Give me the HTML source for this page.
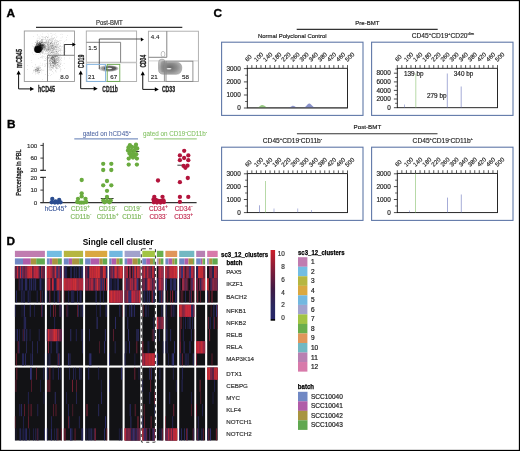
<!DOCTYPE html>
<html><head><meta charset="utf-8"><style>
html,body{margin:0;padding:0;background:#fff;width:520px;height:451px;overflow:hidden}
svg{display:block;font-family:"Liberation Sans",sans-serif;will-change:transform}
</style></head><body>
<svg width="520" height="451" viewBox="0 0 520 451" font-family="&quot;Liberation Sans&quot;, sans-serif">
<rect x="0.5" y="0.5" width="519" height="450" fill="none" stroke="#000" stroke-width="1.3" />
<text x="6.6" y="16.8" font-size="11.8" fill="#000" font-weight="bold" text-anchor="start" stroke="#000" stroke-width="0.35">A</text>
<text x="7.0" y="128.1" font-size="11.8" fill="#000" font-weight="bold" text-anchor="start" stroke="#000" stroke-width="0.35">B</text>
<text x="213.4" y="16.6" font-size="11.8" fill="#000" font-weight="bold" text-anchor="start" stroke="#000" stroke-width="0.35">C</text>
<text x="6.5" y="244.9" font-size="11.8" fill="#000" font-weight="bold" text-anchor="start" stroke="#000" stroke-width="0.35">D</text>
<text x="96" y="24.7" font-size="6.3" fill="#333" font-weight="normal" text-anchor="start" textLength="26.6" lengthAdjust="spacingAndGlyphs" stroke="#333" stroke-width="0.18" >Post-BMT</text>
<line x1="36" y1="27.4" x2="182.3" y2="27.4" stroke="#333" stroke-width="1.2" />
<rect x="24.3" y="31" width="50.2" height="50.5" fill="#fff" stroke="#999" stroke-width="0.9" />
<g fill="#000" fill-opacity="0.28"><circle cx="47.4" cy="48.4" r="0.32"/><circle cx="47.6" cy="44.6" r="0.32"/><circle cx="43.2" cy="45.0" r="0.32"/><circle cx="55.9" cy="48.0" r="0.32"/><circle cx="55.4" cy="47.1" r="0.32"/><circle cx="51.4" cy="46.9" r="0.32"/><circle cx="38.7" cy="49.9" r="0.32"/><circle cx="52.1" cy="48.3" r="0.32"/><circle cx="38.5" cy="38.0" r="0.32"/><circle cx="43.5" cy="43.8" r="0.32"/><circle cx="50.9" cy="45.8" r="0.32"/><circle cx="52.2" cy="43.0" r="0.32"/><circle cx="50.9" cy="47.8" r="0.32"/><circle cx="44.9" cy="53.9" r="0.32"/><circle cx="52.5" cy="51.5" r="0.32"/><circle cx="45.2" cy="42.6" r="0.32"/><circle cx="46.9" cy="45.5" r="0.32"/><circle cx="52.9" cy="47.1" r="0.32"/><circle cx="46.2" cy="41.6" r="0.32"/><circle cx="45.8" cy="51.6" r="0.32"/><circle cx="44.0" cy="47.1" r="0.32"/><circle cx="51.6" cy="39.1" r="0.32"/><circle cx="49.3" cy="52.0" r="0.32"/><circle cx="36.5" cy="44.5" r="0.32"/><circle cx="48.3" cy="42.2" r="0.32"/><circle cx="52.1" cy="45.7" r="0.32"/><circle cx="39.9" cy="49.8" r="0.32"/><circle cx="53.1" cy="50.4" r="0.32"/><circle cx="57.9" cy="47.7" r="0.32"/><circle cx="49.7" cy="40.0" r="0.32"/><circle cx="52.8" cy="43.2" r="0.32"/><circle cx="46.2" cy="40.2" r="0.32"/><circle cx="43.0" cy="43.6" r="0.32"/><circle cx="57.0" cy="36.7" r="0.32"/><circle cx="40.0" cy="47.1" r="0.32"/><circle cx="57.9" cy="48.7" r="0.32"/><circle cx="37.2" cy="34.4" r="0.32"/><circle cx="51.2" cy="42.6" r="0.32"/><circle cx="42.1" cy="50.5" r="0.32"/><circle cx="55.8" cy="46.7" r="0.32"/><circle cx="50.5" cy="48.0" r="0.32"/><circle cx="58.9" cy="48.8" r="0.32"/><circle cx="52.2" cy="48.5" r="0.32"/><circle cx="39.3" cy="51.9" r="0.32"/><circle cx="54.9" cy="48.4" r="0.32"/><circle cx="36.8" cy="43.1" r="0.32"/><circle cx="54.2" cy="37.7" r="0.32"/><circle cx="47.9" cy="50.7" r="0.32"/><circle cx="40.9" cy="53.4" r="0.32"/><circle cx="52.4" cy="45.3" r="0.32"/><circle cx="51.0" cy="49.0" r="0.32"/><circle cx="49.7" cy="51.3" r="0.32"/><circle cx="44.9" cy="44.1" r="0.32"/><circle cx="55.5" cy="46.1" r="0.32"/><circle cx="43.5" cy="50.4" r="0.32"/><circle cx="58.1" cy="44.0" r="0.32"/><circle cx="40.4" cy="45.4" r="0.32"/><circle cx="48.1" cy="44.6" r="0.32"/><circle cx="57.7" cy="41.3" r="0.32"/><circle cx="56.8" cy="40.2" r="0.32"/><circle cx="44.1" cy="48.9" r="0.32"/><circle cx="56.0" cy="50.0" r="0.32"/><circle cx="51.1" cy="46.7" r="0.32"/><circle cx="49.9" cy="48.6" r="0.32"/><circle cx="47.9" cy="47.3" r="0.32"/><circle cx="52.6" cy="46.0" r="0.32"/><circle cx="53.7" cy="48.6" r="0.32"/><circle cx="61.5" cy="47.5" r="0.32"/><circle cx="46.3" cy="44.3" r="0.32"/><circle cx="48.9" cy="50.2" r="0.32"/><circle cx="46.9" cy="47.8" r="0.32"/><circle cx="60.4" cy="34.2" r="0.32"/><circle cx="42.0" cy="47.1" r="0.32"/><circle cx="51.5" cy="47.1" r="0.32"/><circle cx="46.3" cy="49.0" r="0.32"/><circle cx="50.7" cy="43.6" r="0.32"/><circle cx="64.1" cy="47.6" r="0.32"/><circle cx="45.6" cy="45.5" r="0.32"/><circle cx="47.6" cy="45.7" r="0.32"/><circle cx="32.1" cy="43.8" r="0.32"/><circle cx="55.3" cy="40.6" r="0.32"/><circle cx="48.6" cy="50.4" r="0.32"/><circle cx="54.3" cy="52.9" r="0.32"/><circle cx="38.5" cy="44.4" r="0.32"/><circle cx="46.9" cy="48.9" r="0.32"/><circle cx="55.8" cy="33.7" r="0.32"/><circle cx="55.7" cy="39.3" r="0.32"/><circle cx="53.2" cy="39.1" r="0.32"/><circle cx="50.1" cy="51.5" r="0.32"/><circle cx="48.1" cy="46.9" r="0.32"/><circle cx="53.9" cy="46.7" r="0.32"/><circle cx="48.5" cy="53.1" r="0.32"/><circle cx="55.5" cy="44.6" r="0.32"/><circle cx="66.0" cy="40.7" r="0.32"/><circle cx="54.7" cy="44.8" r="0.32"/><circle cx="49.8" cy="49.2" r="0.32"/><circle cx="50.4" cy="48.9" r="0.32"/><circle cx="39.5" cy="39.1" r="0.32"/><circle cx="52.8" cy="41.6" r="0.32"/><circle cx="42.6" cy="39.2" r="0.32"/><circle cx="56.9" cy="49.4" r="0.32"/><circle cx="58.1" cy="41.7" r="0.32"/><circle cx="49.0" cy="40.8" r="0.32"/><circle cx="53.7" cy="53.3" r="0.32"/><circle cx="43.5" cy="53.2" r="0.32"/><circle cx="55.1" cy="45.2" r="0.32"/><circle cx="36.8" cy="52.5" r="0.32"/><circle cx="48.4" cy="43.2" r="0.32"/><circle cx="51.5" cy="47.9" r="0.32"/><circle cx="58.3" cy="41.3" r="0.32"/><circle cx="56.0" cy="52.8" r="0.32"/><circle cx="58.0" cy="45.2" r="0.32"/><circle cx="44.4" cy="50.7" r="0.32"/><circle cx="49.7" cy="46.6" r="0.32"/><circle cx="57.8" cy="44.8" r="0.32"/><circle cx="34.8" cy="44.2" r="0.32"/><circle cx="37.5" cy="49.8" r="0.32"/><circle cx="51.0" cy="43.2" r="0.32"/><circle cx="48.9" cy="49.8" r="0.32"/><circle cx="49.5" cy="52.1" r="0.32"/><circle cx="48.6" cy="50.8" r="0.32"/><circle cx="58.2" cy="53.4" r="0.32"/><circle cx="44.8" cy="50.0" r="0.32"/><circle cx="37.4" cy="41.0" r="0.32"/><circle cx="36.8" cy="50.9" r="0.32"/><circle cx="41.4" cy="45.9" r="0.32"/><circle cx="47.8" cy="45.9" r="0.32"/><circle cx="45.3" cy="47.1" r="0.32"/><circle cx="60.1" cy="46.2" r="0.32"/><circle cx="52.3" cy="50.6" r="0.32"/><circle cx="47.8" cy="40.2" r="0.32"/><circle cx="45.6" cy="50.9" r="0.32"/><circle cx="38.8" cy="43.2" r="0.32"/><circle cx="55.2" cy="49.6" r="0.32"/><circle cx="49.0" cy="49.7" r="0.32"/><circle cx="50.0" cy="40.6" r="0.32"/><circle cx="39.3" cy="43.1" r="0.32"/><circle cx="54.7" cy="43.4" r="0.32"/><circle cx="43.4" cy="42.5" r="0.32"/><circle cx="39.5" cy="45.5" r="0.32"/><circle cx="41.7" cy="47.7" r="0.32"/><circle cx="34.4" cy="47.5" r="0.32"/><circle cx="45.0" cy="37.1" r="0.32"/><circle cx="53.5" cy="44.7" r="0.32"/><circle cx="35.2" cy="42.0" r="0.32"/><circle cx="50.8" cy="43.9" r="0.32"/><circle cx="53.8" cy="49.4" r="0.32"/><circle cx="53.1" cy="47.5" r="0.32"/><circle cx="57.3" cy="49.0" r="0.32"/><circle cx="51.8" cy="36.4" r="0.32"/><circle cx="54.6" cy="52.0" r="0.32"/><circle cx="47.2" cy="43.8" r="0.32"/><circle cx="61.0" cy="37.9" r="0.32"/><circle cx="51.9" cy="57.1" r="0.32"/><circle cx="43.2" cy="49.2" r="0.32"/><circle cx="60.7" cy="45.4" r="0.32"/><circle cx="52.5" cy="50.2" r="0.32"/><circle cx="43.4" cy="45.6" r="0.32"/><circle cx="50.8" cy="49.8" r="0.32"/><circle cx="48.8" cy="45.1" r="0.32"/><circle cx="42.7" cy="44.3" r="0.32"/><circle cx="54.5" cy="46.5" r="0.32"/><circle cx="43.7" cy="42.1" r="0.32"/><circle cx="65.5" cy="51.2" r="0.32"/><circle cx="53.0" cy="34.1" r="0.32"/><circle cx="52.9" cy="48.2" r="0.32"/><circle cx="59.4" cy="48.0" r="0.32"/><circle cx="48.6" cy="48.4" r="0.32"/><circle cx="36.9" cy="50.8" r="0.32"/><circle cx="51.0" cy="42.8" r="0.32"/><circle cx="57.2" cy="54.3" r="0.32"/><circle cx="40.3" cy="42.9" r="0.32"/><circle cx="50.8" cy="46.8" r="0.32"/><circle cx="46.5" cy="41.5" r="0.32"/><circle cx="62.1" cy="50.8" r="0.32"/><circle cx="41.6" cy="39.8" r="0.32"/><circle cx="59.6" cy="50.6" r="0.32"/><circle cx="60.3" cy="49.7" r="0.32"/><circle cx="43.6" cy="47.2" r="0.32"/><circle cx="35.6" cy="42.6" r="0.32"/><circle cx="48.6" cy="48.4" r="0.32"/><circle cx="44.5" cy="45.4" r="0.32"/><circle cx="51.8" cy="47.7" r="0.32"/><circle cx="53.0" cy="47.0" r="0.32"/><circle cx="47.0" cy="49.6" r="0.32"/><circle cx="49.3" cy="42.2" r="0.32"/><circle cx="45.1" cy="46.0" r="0.32"/><circle cx="48.3" cy="46.7" r="0.32"/><circle cx="49.0" cy="46.8" r="0.32"/><circle cx="48.2" cy="40.2" r="0.32"/><circle cx="51.6" cy="50.8" r="0.32"/><circle cx="51.7" cy="45.1" r="0.32"/><circle cx="51.8" cy="41.6" r="0.32"/><circle cx="37.2" cy="46.3" r="0.32"/><circle cx="43.2" cy="49.4" r="0.32"/><circle cx="42.3" cy="33.9" r="0.32"/><circle cx="42.6" cy="53.3" r="0.32"/><circle cx="46.6" cy="39.7" r="0.32"/><circle cx="44.3" cy="48.4" r="0.32"/><circle cx="52.1" cy="46.8" r="0.32"/><circle cx="58.2" cy="49.2" r="0.32"/><circle cx="48.9" cy="48.7" r="0.32"/><circle cx="59.3" cy="50.5" r="0.32"/><circle cx="55.3" cy="41.0" r="0.32"/><circle cx="48.1" cy="49.4" r="0.32"/><circle cx="47.2" cy="50.9" r="0.32"/><circle cx="52.7" cy="50.2" r="0.32"/><circle cx="47.7" cy="57.7" r="0.32"/><circle cx="56.7" cy="45.0" r="0.32"/><circle cx="49.6" cy="57.9" r="0.32"/><circle cx="46.9" cy="50.0" r="0.32"/><circle cx="55.1" cy="46.0" r="0.32"/><circle cx="41.8" cy="46.9" r="0.32"/><circle cx="51.2" cy="51.2" r="0.32"/><circle cx="53.9" cy="46.1" r="0.32"/><circle cx="54.3" cy="48.5" r="0.32"/><circle cx="50.3" cy="46.3" r="0.32"/><circle cx="47.5" cy="49.2" r="0.32"/><circle cx="42.5" cy="43.1" r="0.32"/><circle cx="49.0" cy="39.3" r="0.32"/><circle cx="46.3" cy="36.8" r="0.32"/><circle cx="44.8" cy="48.6" r="0.32"/><circle cx="52.5" cy="45.7" r="0.32"/><circle cx="47.6" cy="39.5" r="0.32"/><circle cx="60.3" cy="48.4" r="0.32"/><circle cx="55.8" cy="41.9" r="0.32"/><circle cx="47.9" cy="37.6" r="0.32"/><circle cx="53.8" cy="50.3" r="0.32"/><circle cx="37.2" cy="45.8" r="0.32"/><circle cx="52.9" cy="37.9" r="0.32"/><circle cx="37.7" cy="41.1" r="0.32"/><circle cx="45.1" cy="39.5" r="0.32"/><circle cx="49.2" cy="47.1" r="0.32"/><circle cx="52.9" cy="49.2" r="0.32"/><circle cx="58.3" cy="51.4" r="0.32"/><circle cx="40.9" cy="43.7" r="0.32"/><circle cx="42.4" cy="41.0" r="0.32"/><circle cx="48.5" cy="46.0" r="0.32"/><circle cx="52.0" cy="38.7" r="0.32"/><circle cx="41.3" cy="45.9" r="0.32"/><circle cx="47.8" cy="44.6" r="0.32"/><circle cx="48.6" cy="42.5" r="0.32"/><circle cx="53.3" cy="47.6" r="0.32"/><circle cx="48.5" cy="42.9" r="0.32"/><circle cx="47.9" cy="33.5" r="0.32"/><circle cx="42.9" cy="46.2" r="0.32"/><circle cx="39.7" cy="46.9" r="0.32"/><circle cx="49.9" cy="39.7" r="0.32"/><circle cx="47.4" cy="44.6" r="0.32"/><circle cx="51.9" cy="48.8" r="0.32"/><circle cx="48.8" cy="42.1" r="0.32"/><circle cx="48.1" cy="45.7" r="0.32"/><circle cx="53.6" cy="47.4" r="0.32"/><circle cx="44.5" cy="39.8" r="0.32"/><circle cx="46.7" cy="42.6" r="0.32"/><circle cx="42.1" cy="45.5" r="0.32"/><circle cx="46.0" cy="46.5" r="0.32"/><circle cx="52.2" cy="44.1" r="0.32"/><circle cx="63.4" cy="44.5" r="0.32"/><circle cx="55.8" cy="46.6" r="0.32"/><circle cx="55.9" cy="35.1" r="0.32"/><circle cx="44.3" cy="47.1" r="0.32"/><circle cx="52.7" cy="56.7" r="0.32"/><circle cx="51.0" cy="51.9" r="0.32"/><circle cx="53.8" cy="50.4" r="0.32"/><circle cx="52.2" cy="45.3" r="0.32"/><circle cx="52.2" cy="41.0" r="0.32"/><circle cx="56.3" cy="41.3" r="0.32"/><circle cx="50.5" cy="55.8" r="0.32"/><circle cx="47.6" cy="46.1" r="0.32"/><circle cx="56.2" cy="46.1" r="0.32"/><circle cx="44.0" cy="47.2" r="0.32"/><circle cx="52.6" cy="49.3" r="0.32"/><circle cx="44.2" cy="54.1" r="0.32"/><circle cx="59.3" cy="46.1" r="0.32"/><circle cx="50.7" cy="44.0" r="0.32"/><circle cx="57.8" cy="42.8" r="0.32"/><circle cx="53.2" cy="43.8" r="0.32"/><circle cx="44.7" cy="49.3" r="0.32"/><circle cx="57.3" cy="46.0" r="0.32"/><circle cx="44.8" cy="49.7" r="0.32"/><circle cx="48.7" cy="47.4" r="0.32"/><circle cx="58.4" cy="51.2" r="0.32"/><circle cx="45.8" cy="56.5" r="0.32"/><circle cx="49.0" cy="49.6" r="0.32"/><circle cx="45.0" cy="45.8" r="0.32"/><circle cx="38.2" cy="54.2" r="0.32"/><circle cx="57.5" cy="40.4" r="0.32"/><circle cx="39.7" cy="38.5" r="0.32"/><circle cx="56.3" cy="43.9" r="0.32"/><circle cx="48.6" cy="44.6" r="0.32"/><circle cx="48.2" cy="41.0" r="0.32"/><circle cx="49.1" cy="39.4" r="0.32"/><circle cx="48.6" cy="47.4" r="0.32"/><circle cx="51.9" cy="44.9" r="0.32"/><circle cx="43.4" cy="46.7" r="0.32"/><circle cx="46.0" cy="53.2" r="0.32"/><circle cx="53.8" cy="45.5" r="0.32"/><circle cx="46.1" cy="42.8" r="0.32"/><circle cx="43.2" cy="44.4" r="0.32"/><circle cx="50.8" cy="48.4" r="0.32"/><circle cx="52.5" cy="55.7" r="0.32"/><circle cx="44.6" cy="46.1" r="0.32"/><circle cx="66.3" cy="37.4" r="0.32"/><circle cx="45.8" cy="46.8" r="0.32"/><circle cx="50.0" cy="47.9" r="0.32"/><circle cx="47.5" cy="47.7" r="0.32"/><circle cx="49.3" cy="49.5" r="0.32"/><circle cx="37.3" cy="41.9" r="0.32"/><circle cx="49.0" cy="41.3" r="0.32"/><circle cx="42.5" cy="48.9" r="0.32"/><circle cx="45.0" cy="48.9" r="0.32"/><circle cx="53.6" cy="47.4" r="0.32"/><circle cx="52.1" cy="45.5" r="0.32"/><circle cx="40.3" cy="45.9" r="0.32"/><circle cx="51.8" cy="43.6" r="0.32"/><circle cx="48.4" cy="49.4" r="0.32"/><circle cx="43.6" cy="48.9" r="0.32"/><circle cx="60.5" cy="43.4" r="0.32"/><circle cx="49.9" cy="45.3" r="0.32"/><circle cx="58.5" cy="47.5" r="0.32"/><circle cx="54.6" cy="42.8" r="0.32"/><circle cx="48.9" cy="46.0" r="0.32"/><circle cx="38.0" cy="52.6" r="0.32"/><circle cx="54.6" cy="38.0" r="0.32"/><circle cx="53.6" cy="45.4" r="0.32"/><circle cx="51.8" cy="47.7" r="0.32"/><circle cx="39.7" cy="45.0" r="0.32"/><circle cx="58.3" cy="43.4" r="0.32"/><circle cx="42.7" cy="39.7" r="0.32"/><circle cx="41.4" cy="47.5" r="0.32"/><circle cx="59.5" cy="48.0" r="0.32"/><circle cx="50.5" cy="56.3" r="0.32"/><circle cx="45.8" cy="42.9" r="0.32"/><circle cx="52.3" cy="48.5" r="0.32"/><circle cx="42.7" cy="40.6" r="0.32"/><circle cx="50.8" cy="47.1" r="0.32"/><circle cx="40.9" cy="45.1" r="0.32"/><circle cx="45.6" cy="48.1" r="0.32"/><circle cx="48.3" cy="45.6" r="0.32"/><circle cx="46.8" cy="50.8" r="0.32"/><circle cx="57.6" cy="44.3" r="0.32"/><circle cx="54.2" cy="42.5" r="0.32"/><circle cx="49.4" cy="49.4" r="0.32"/><circle cx="58.4" cy="44.2" r="0.32"/><circle cx="48.5" cy="46.9" r="0.32"/><circle cx="39.7" cy="46.1" r="0.32"/><circle cx="44.8" cy="47.7" r="0.32"/><circle cx="42.0" cy="36.9" r="0.32"/><circle cx="49.2" cy="47.2" r="0.32"/><circle cx="45.6" cy="50.1" r="0.32"/><circle cx="47.3" cy="43.2" r="0.32"/><circle cx="52.0" cy="38.8" r="0.32"/><circle cx="44.8" cy="45.9" r="0.32"/><circle cx="54.3" cy="45.3" r="0.32"/><circle cx="50.9" cy="43.0" r="0.32"/><circle cx="50.9" cy="53.7" r="0.32"/><circle cx="44.7" cy="56.9" r="0.32"/><circle cx="45.0" cy="46.1" r="0.32"/><circle cx="50.1" cy="50.7" r="0.32"/><circle cx="41.3" cy="36.3" r="0.32"/><circle cx="52.8" cy="49.7" r="0.32"/><circle cx="52.9" cy="58.1" r="0.32"/><circle cx="50.3" cy="47.2" r="0.32"/><circle cx="54.8" cy="47.7" r="0.32"/><circle cx="59.3" cy="40.3" r="0.32"/><circle cx="54.0" cy="44.3" r="0.32"/><circle cx="54.7" cy="55.9" r="0.32"/><circle cx="49.0" cy="44.8" r="0.32"/><circle cx="45.9" cy="42.1" r="0.32"/><circle cx="45.1" cy="48.9" r="0.32"/><circle cx="49.2" cy="46.3" r="0.32"/><circle cx="47.9" cy="50.2" r="0.32"/><circle cx="52.1" cy="45.3" r="0.32"/><circle cx="53.1" cy="45.3" r="0.32"/><circle cx="41.9" cy="52.7" r="0.32"/><circle cx="51.9" cy="41.6" r="0.32"/><circle cx="55.7" cy="47.6" r="0.32"/><circle cx="39.3" cy="53.4" r="0.32"/><circle cx="51.1" cy="50.1" r="0.32"/><circle cx="50.2" cy="45.3" r="0.32"/><circle cx="39.4" cy="50.5" r="0.32"/><circle cx="49.2" cy="44.7" r="0.32"/><circle cx="51.2" cy="46.4" r="0.32"/><circle cx="53.2" cy="44.3" r="0.32"/><circle cx="48.8" cy="36.2" r="0.32"/><circle cx="46.4" cy="49.1" r="0.32"/><circle cx="57.3" cy="44.3" r="0.32"/><circle cx="48.2" cy="53.3" r="0.32"/><circle cx="47.0" cy="49.4" r="0.32"/><circle cx="59.4" cy="46.2" r="0.32"/><circle cx="56.6" cy="42.7" r="0.32"/><circle cx="50.3" cy="45.6" r="0.32"/><circle cx="49.7" cy="51.2" r="0.32"/><circle cx="63.8" cy="42.9" r="0.32"/><circle cx="45.4" cy="48.3" r="0.32"/><circle cx="42.5" cy="48.3" r="0.32"/><circle cx="52.5" cy="44.7" r="0.32"/><circle cx="52.3" cy="38.9" r="0.32"/><circle cx="53.7" cy="38.9" r="0.32"/><circle cx="44.7" cy="43.4" r="0.32"/><circle cx="46.5" cy="50.0" r="0.32"/><circle cx="49.5" cy="44.2" r="0.32"/><circle cx="52.4" cy="53.3" r="0.32"/><circle cx="49.0" cy="47.7" r="0.32"/><circle cx="56.7" cy="47.2" r="0.32"/><circle cx="41.0" cy="57.5" r="0.32"/><circle cx="62.7" cy="36.9" r="0.32"/><circle cx="48.8" cy="47.9" r="0.32"/><circle cx="55.0" cy="49.1" r="0.32"/><circle cx="47.3" cy="41.2" r="0.32"/><circle cx="49.6" cy="50.8" r="0.32"/><circle cx="42.2" cy="41.3" r="0.32"/><circle cx="48.8" cy="37.1" r="0.32"/><circle cx="47.4" cy="44.0" r="0.32"/><circle cx="51.8" cy="42.8" r="0.32"/><circle cx="43.5" cy="44.2" r="0.32"/><circle cx="48.7" cy="42.9" r="0.32"/><circle cx="49.1" cy="49.5" r="0.32"/><circle cx="56.3" cy="53.8" r="0.32"/><circle cx="44.1" cy="44.1" r="0.32"/><circle cx="33.6" cy="54.7" r="0.32"/><circle cx="44.5" cy="45.8" r="0.32"/><circle cx="52.2" cy="39.8" r="0.32"/><circle cx="51.9" cy="45.9" r="0.32"/><circle cx="37.7" cy="47.3" r="0.32"/><circle cx="56.4" cy="37.4" r="0.32"/><circle cx="54.0" cy="47.0" r="0.32"/><circle cx="51.9" cy="48.0" r="0.32"/><circle cx="57.1" cy="45.0" r="0.32"/><circle cx="54.4" cy="44.1" r="0.32"/><circle cx="53.5" cy="42.3" r="0.32"/><circle cx="48.3" cy="54.0" r="0.32"/><circle cx="51.8" cy="45.3" r="0.32"/><circle cx="41.9" cy="42.4" r="0.32"/><circle cx="50.2" cy="50.3" r="0.32"/><circle cx="51.6" cy="48.4" r="0.32"/><circle cx="48.7" cy="52.2" r="0.32"/><circle cx="46.6" cy="43.5" r="0.32"/><circle cx="54.5" cy="46.3" r="0.32"/><circle cx="47.3" cy="43.3" r="0.32"/><circle cx="47.4" cy="48.9" r="0.32"/><circle cx="51.2" cy="40.4" r="0.32"/><circle cx="51.6" cy="46.8" r="0.32"/><circle cx="42.8" cy="49.6" r="0.32"/><circle cx="47.3" cy="44.5" r="0.32"/><circle cx="53.9" cy="52.1" r="0.32"/><circle cx="44.7" cy="48.0" r="0.32"/><circle cx="43.6" cy="56.6" r="0.32"/><circle cx="45.9" cy="51.5" r="0.32"/><circle cx="45.0" cy="49.7" r="0.32"/><circle cx="62.8" cy="34.3" r="0.32"/><circle cx="46.3" cy="48.3" r="0.32"/><circle cx="48.4" cy="42.9" r="0.32"/><circle cx="62.3" cy="46.4" r="0.32"/><circle cx="38.8" cy="49.9" r="0.32"/><circle cx="38.3" cy="51.3" r="0.32"/><circle cx="45.4" cy="46.7" r="0.32"/><circle cx="56.8" cy="46.5" r="0.32"/><circle cx="40.4" cy="38.2" r="0.32"/><circle cx="56.3" cy="49.4" r="0.32"/><circle cx="43.9" cy="50.0" r="0.32"/><circle cx="52.1" cy="49.0" r="0.32"/><circle cx="35.0" cy="44.6" r="0.32"/><circle cx="54.6" cy="49.4" r="0.32"/><circle cx="54.5" cy="34.7" r="0.32"/><circle cx="50.0" cy="48.3" r="0.32"/><circle cx="64.8" cy="41.6" r="0.32"/><circle cx="47.0" cy="46.2" r="0.32"/><circle cx="54.5" cy="44.0" r="0.32"/><circle cx="56.1" cy="42.4" r="0.32"/><circle cx="50.7" cy="43.6" r="0.32"/><circle cx="50.0" cy="42.8" r="0.32"/><circle cx="39.1" cy="51.0" r="0.32"/><circle cx="50.9" cy="43.4" r="0.32"/><circle cx="50.2" cy="50.6" r="0.32"/><circle cx="42.9" cy="45.5" r="0.32"/><circle cx="52.3" cy="48.4" r="0.32"/><circle cx="46.9" cy="36.3" r="0.32"/><circle cx="56.7" cy="47.5" r="0.32"/><circle cx="49.1" cy="44.7" r="0.32"/><circle cx="50.6" cy="44.0" r="0.32"/><circle cx="42.6" cy="42.6" r="0.32"/><circle cx="45.3" cy="43.2" r="0.32"/><circle cx="41.8" cy="48.9" r="0.32"/><circle cx="40.9" cy="49.0" r="0.32"/><circle cx="42.7" cy="47.6" r="0.32"/><circle cx="57.5" cy="46.9" r="0.32"/><circle cx="44.5" cy="46.2" r="0.32"/><circle cx="49.9" cy="38.0" r="0.32"/><circle cx="45.2" cy="46.7" r="0.32"/><circle cx="46.1" cy="46.4" r="0.32"/><circle cx="53.6" cy="49.5" r="0.32"/><circle cx="54.6" cy="48.7" r="0.32"/><circle cx="47.2" cy="45.9" r="0.32"/><circle cx="47.3" cy="44.6" r="0.32"/><circle cx="47.9" cy="38.1" r="0.32"/><circle cx="46.9" cy="45.9" r="0.32"/><circle cx="43.0" cy="45.9" r="0.32"/><circle cx="52.2" cy="45.2" r="0.32"/><circle cx="61.9" cy="34.0" r="0.32"/><circle cx="47.7" cy="37.6" r="0.32"/><circle cx="55.1" cy="58.2" r="0.32"/><circle cx="33.5" cy="46.6" r="0.32"/><circle cx="52.2" cy="44.6" r="0.32"/><circle cx="52.4" cy="35.7" r="0.32"/><circle cx="54.3" cy="47.7" r="0.32"/><circle cx="49.1" cy="43.3" r="0.32"/><circle cx="53.0" cy="43.8" r="0.32"/><circle cx="50.4" cy="43.7" r="0.32"/><circle cx="35.1" cy="45.9" r="0.32"/><circle cx="50.3" cy="49.5" r="0.32"/><circle cx="43.6" cy="45.8" r="0.32"/><circle cx="52.8" cy="46.7" r="0.32"/><circle cx="56.7" cy="55.2" r="0.32"/><circle cx="43.4" cy="37.2" r="0.32"/><circle cx="54.3" cy="53.0" r="0.32"/><circle cx="54.7" cy="49.7" r="0.32"/><circle cx="45.2" cy="42.7" r="0.32"/><circle cx="54.5" cy="41.8" r="0.32"/><circle cx="37.8" cy="41.4" r="0.32"/><circle cx="64.5" cy="54.8" r="0.32"/><circle cx="44.7" cy="42.6" r="0.32"/><circle cx="50.4" cy="42.6" r="0.32"/><circle cx="57.1" cy="45.6" r="0.32"/><circle cx="42.3" cy="52.0" r="0.32"/><circle cx="45.4" cy="47.0" r="0.32"/><circle cx="48.9" cy="44.6" r="0.32"/><circle cx="51.0" cy="42.8" r="0.32"/><circle cx="37.6" cy="35.8" r="0.32"/><circle cx="41.1" cy="42.5" r="0.32"/><circle cx="48.9" cy="46.3" r="0.32"/><circle cx="52.4" cy="46.6" r="0.32"/><circle cx="44.1" cy="42.7" r="0.32"/><circle cx="35.9" cy="45.2" r="0.32"/><circle cx="52.0" cy="48.4" r="0.32"/><circle cx="48.2" cy="45.2" r="0.32"/><circle cx="54.8" cy="46.1" r="0.32"/><circle cx="53.6" cy="48.7" r="0.32"/><circle cx="50.3" cy="52.0" r="0.32"/><circle cx="45.4" cy="44.3" r="0.32"/><circle cx="44.0" cy="42.3" r="0.32"/><circle cx="58.6" cy="54.1" r="0.32"/><circle cx="49.1" cy="48.6" r="0.32"/><circle cx="56.3" cy="49.7" r="0.32"/><circle cx="56.5" cy="40.2" r="0.32"/><circle cx="45.0" cy="48.1" r="0.32"/><circle cx="57.9" cy="46.5" r="0.32"/><circle cx="43.7" cy="44.4" r="0.32"/><circle cx="44.9" cy="42.1" r="0.32"/><circle cx="58.3" cy="43.1" r="0.32"/><circle cx="49.1" cy="55.9" r="0.32"/><circle cx="56.3" cy="47.5" r="0.32"/><circle cx="45.2" cy="47.9" r="0.32"/><circle cx="59.1" cy="48.9" r="0.32"/><circle cx="56.8" cy="46.5" r="0.32"/><circle cx="52.2" cy="45.1" r="0.32"/><circle cx="51.6" cy="52.0" r="0.32"/><circle cx="40.1" cy="45.7" r="0.32"/><circle cx="50.5" cy="43.4" r="0.32"/><circle cx="47.1" cy="49.6" r="0.32"/><circle cx="61.4" cy="48.9" r="0.32"/><circle cx="51.0" cy="38.9" r="0.32"/><circle cx="61.0" cy="46.4" r="0.32"/><circle cx="48.8" cy="40.9" r="0.32"/><circle cx="48.6" cy="41.0" r="0.32"/><circle cx="49.4" cy="48.1" r="0.32"/><circle cx="49.2" cy="47.3" r="0.32"/><circle cx="43.7" cy="52.6" r="0.32"/><circle cx="45.0" cy="37.6" r="0.32"/><circle cx="47.8" cy="42.5" r="0.32"/><circle cx="42.7" cy="44.4" r="0.32"/><circle cx="50.8" cy="40.6" r="0.32"/><circle cx="48.1" cy="52.6" r="0.32"/><circle cx="53.2" cy="45.3" r="0.32"/><circle cx="49.8" cy="45.4" r="0.32"/><circle cx="48.7" cy="49.4" r="0.32"/><circle cx="48.4" cy="34.9" r="0.32"/><circle cx="48.9" cy="41.9" r="0.32"/><circle cx="53.0" cy="43.2" r="0.32"/><circle cx="49.9" cy="56.0" r="0.32"/><circle cx="42.5" cy="40.8" r="0.32"/><circle cx="40.2" cy="35.0" r="0.32"/><circle cx="37.4" cy="47.7" r="0.32"/><circle cx="45.0" cy="37.4" r="0.32"/><circle cx="39.8" cy="48.8" r="0.32"/><circle cx="44.2" cy="44.3" r="0.32"/><circle cx="51.0" cy="52.2" r="0.32"/><circle cx="61.0" cy="50.7" r="0.32"/><circle cx="49.9" cy="46.8" r="0.32"/><circle cx="60.2" cy="52.6" r="0.32"/><circle cx="47.1" cy="48.1" r="0.32"/><circle cx="50.8" cy="46.2" r="0.32"/><circle cx="45.9" cy="39.9" r="0.32"/><circle cx="45.7" cy="38.9" r="0.32"/><circle cx="56.6" cy="48.5" r="0.32"/><circle cx="41.5" cy="52.4" r="0.32"/><circle cx="54.5" cy="37.2" r="0.32"/><circle cx="60.4" cy="49.7" r="0.32"/><circle cx="61.8" cy="40.3" r="0.32"/><circle cx="52.3" cy="47.9" r="0.32"/><circle cx="50.3" cy="46.8" r="0.32"/><circle cx="55.5" cy="39.1" r="0.32"/><circle cx="41.3" cy="39.6" r="0.32"/><circle cx="45.5" cy="43.2" r="0.32"/><circle cx="51.3" cy="47.2" r="0.32"/><circle cx="49.2" cy="42.9" r="0.32"/><circle cx="46.3" cy="50.4" r="0.32"/><circle cx="53.7" cy="46.5" r="0.32"/><circle cx="47.0" cy="53.1" r="0.32"/><circle cx="45.3" cy="49.0" r="0.32"/><circle cx="56.2" cy="44.8" r="0.32"/><circle cx="54.1" cy="40.9" r="0.32"/><circle cx="55.3" cy="46.9" r="0.32"/><circle cx="39.2" cy="49.1" r="0.32"/><circle cx="43.5" cy="51.9" r="0.32"/><circle cx="44.8" cy="45.2" r="0.32"/><circle cx="50.8" cy="44.5" r="0.32"/><circle cx="50.6" cy="43.5" r="0.32"/><circle cx="53.2" cy="46.0" r="0.32"/><circle cx="50.3" cy="33.3" r="0.32"/><circle cx="56.2" cy="46.1" r="0.32"/><circle cx="37.9" cy="46.4" r="0.32"/><circle cx="51.9" cy="50.9" r="0.32"/><circle cx="42.3" cy="53.1" r="0.32"/><circle cx="48.0" cy="57.0" r="0.32"/><circle cx="48.1" cy="49.1" r="0.32"/><circle cx="46.7" cy="40.9" r="0.32"/><circle cx="55.8" cy="50.2" r="0.32"/><circle cx="58.5" cy="49.9" r="0.32"/><circle cx="45.4" cy="38.4" r="0.32"/><circle cx="45.0" cy="42.9" r="0.32"/><circle cx="43.9" cy="48.7" r="0.32"/><circle cx="51.0" cy="44.8" r="0.32"/><circle cx="50.1" cy="45.3" r="0.32"/><circle cx="50.3" cy="49.5" r="0.32"/><circle cx="54.9" cy="42.8" r="0.32"/><circle cx="39.7" cy="52.6" r="0.32"/><circle cx="49.7" cy="51.1" r="0.32"/><circle cx="38.8" cy="44.5" r="0.32"/><circle cx="49.2" cy="39.4" r="0.32"/><circle cx="45.8" cy="49.3" r="0.32"/><circle cx="55.7" cy="53.3" r="0.32"/><circle cx="43.6" cy="39.6" r="0.32"/><circle cx="52.2" cy="50.3" r="0.32"/><circle cx="50.2" cy="40.0" r="0.32"/><circle cx="53.8" cy="49.6" r="0.32"/><circle cx="52.4" cy="43.8" r="0.32"/><circle cx="50.9" cy="49.6" r="0.32"/><circle cx="45.5" cy="37.5" r="0.32"/><circle cx="51.0" cy="48.2" r="0.32"/><circle cx="49.1" cy="50.1" r="0.32"/><circle cx="45.4" cy="45.6" r="0.32"/><circle cx="47.1" cy="48.6" r="0.32"/><circle cx="58.9" cy="44.8" r="0.32"/><circle cx="61.7" cy="53.0" r="0.32"/><circle cx="53.9" cy="48.7" r="0.32"/><circle cx="60.0" cy="45.2" r="0.32"/><circle cx="48.3" cy="41.1" r="0.32"/><circle cx="51.9" cy="52.2" r="0.32"/><circle cx="52.3" cy="47.9" r="0.32"/><circle cx="47.8" cy="46.8" r="0.32"/><circle cx="40.2" cy="50.8" r="0.32"/><circle cx="46.5" cy="40.9" r="0.32"/><circle cx="44.3" cy="42.2" r="0.32"/><circle cx="54.3" cy="50.9" r="0.32"/><circle cx="40.6" cy="50.3" r="0.32"/><circle cx="54.5" cy="43.3" r="0.32"/><circle cx="39.8" cy="42.6" r="0.32"/><circle cx="45.1" cy="47.6" r="0.32"/><circle cx="46.8" cy="36.7" r="0.32"/><circle cx="50.4" cy="38.9" r="0.32"/><circle cx="54.6" cy="40.4" r="0.32"/><circle cx="44.7" cy="42.1" r="0.32"/><circle cx="45.6" cy="52.0" r="0.32"/><circle cx="54.3" cy="48.8" r="0.32"/><circle cx="51.0" cy="38.9" r="0.32"/><circle cx="45.8" cy="43.5" r="0.32"/><circle cx="42.9" cy="48.3" r="0.32"/><circle cx="44.4" cy="42.7" r="0.32"/><circle cx="42.5" cy="36.5" r="0.32"/><circle cx="52.7" cy="52.1" r="0.32"/><circle cx="50.1" cy="41.5" r="0.32"/><circle cx="32.2" cy="46.8" r="0.32"/><circle cx="56.5" cy="47.4" r="0.32"/><circle cx="54.7" cy="52.8" r="0.32"/><circle cx="56.0" cy="44.0" r="0.32"/><circle cx="55.5" cy="49.6" r="0.32"/><circle cx="39.5" cy="44.1" r="0.32"/><circle cx="40.2" cy="45.5" r="0.32"/><circle cx="52.6" cy="41.1" r="0.32"/><circle cx="36.3" cy="52.0" r="0.32"/><circle cx="51.3" cy="52.8" r="0.32"/><circle cx="40.8" cy="50.9" r="0.32"/><circle cx="61.9" cy="55.2" r="0.32"/><circle cx="47.7" cy="47.2" r="0.32"/><circle cx="48.0" cy="50.6" r="0.32"/><circle cx="55.4" cy="46.4" r="0.32"/><circle cx="40.6" cy="49.4" r="0.32"/><circle cx="46.1" cy="48.9" r="0.32"/><circle cx="50.6" cy="53.5" r="0.32"/><circle cx="56.1" cy="43.9" r="0.32"/><circle cx="51.2" cy="54.1" r="0.32"/><circle cx="45.7" cy="48.0" r="0.32"/><circle cx="56.4" cy="51.8" r="0.32"/><circle cx="52.2" cy="39.9" r="0.32"/><circle cx="41.2" cy="47.1" r="0.32"/><circle cx="51.4" cy="57.7" r="0.32"/><circle cx="43.7" cy="51.2" r="0.32"/><circle cx="53.8" cy="38.3" r="0.32"/><circle cx="43.9" cy="46.8" r="0.32"/><circle cx="45.9" cy="45.3" r="0.32"/><circle cx="51.9" cy="42.3" r="0.32"/><circle cx="51.9" cy="43.1" r="0.32"/><circle cx="45.6" cy="48.5" r="0.32"/><circle cx="45.4" cy="47.3" r="0.32"/><circle cx="58.9" cy="46.1" r="0.32"/><circle cx="48.1" cy="49.4" r="0.32"/><circle cx="46.7" cy="51.0" r="0.32"/><circle cx="41.0" cy="48.8" r="0.32"/><circle cx="45.8" cy="42.3" r="0.32"/><circle cx="60.0" cy="42.1" r="0.32"/><circle cx="59.9" cy="49.0" r="0.32"/><circle cx="58.0" cy="41.5" r="0.32"/><circle cx="56.4" cy="52.7" r="0.32"/><circle cx="48.3" cy="45.4" r="0.32"/><circle cx="64.2" cy="46.8" r="0.32"/><circle cx="46.4" cy="43.1" r="0.32"/><circle cx="51.8" cy="47.5" r="0.32"/><circle cx="50.1" cy="53.9" r="0.32"/><circle cx="47.0" cy="48.2" r="0.32"/><circle cx="58.0" cy="41.4" r="0.32"/><circle cx="55.4" cy="54.4" r="0.32"/><circle cx="40.6" cy="41.0" r="0.32"/><circle cx="42.6" cy="37.5" r="0.32"/><circle cx="51.8" cy="37.5" r="0.32"/><circle cx="52.1" cy="52.7" r="0.32"/><circle cx="39.0" cy="44.5" r="0.32"/><circle cx="37.1" cy="49.6" r="0.32"/><circle cx="44.4" cy="44.8" r="0.32"/><circle cx="49.3" cy="48.5" r="0.32"/><circle cx="46.9" cy="46.1" r="0.32"/><circle cx="45.6" cy="46.5" r="0.32"/><circle cx="41.7" cy="46.3" r="0.32"/><circle cx="37.0" cy="43.7" r="0.32"/><circle cx="60.9" cy="46.4" r="0.32"/><circle cx="41.2" cy="47.2" r="0.32"/><circle cx="43.0" cy="38.4" r="0.32"/><circle cx="44.4" cy="49.4" r="0.32"/><circle cx="51.4" cy="45.6" r="0.32"/><circle cx="43.3" cy="41.0" r="0.32"/><circle cx="57.4" cy="47.1" r="0.32"/><circle cx="43.1" cy="36.3" r="0.32"/><circle cx="40.5" cy="57.4" r="0.32"/><circle cx="41.9" cy="45.6" r="0.32"/><circle cx="50.3" cy="45.3" r="0.32"/><circle cx="47.3" cy="39.7" r="0.32"/><circle cx="42.5" cy="53.8" r="0.32"/><circle cx="44.3" cy="49.9" r="0.32"/><circle cx="38.5" cy="44.7" r="0.32"/><circle cx="50.6" cy="50.8" r="0.32"/><circle cx="42.0" cy="48.7" r="0.32"/><circle cx="51.4" cy="42.6" r="0.32"/><circle cx="52.0" cy="41.9" r="0.32"/><circle cx="44.1" cy="45.9" r="0.32"/><circle cx="32.2" cy="45.5" r="0.32"/><circle cx="42.8" cy="39.3" r="0.32"/><circle cx="46.4" cy="49.5" r="0.32"/><circle cx="46.5" cy="51.8" r="0.32"/><circle cx="41.8" cy="40.0" r="0.32"/><circle cx="58.6" cy="47.8" r="0.32"/><circle cx="54.9" cy="42.2" r="0.32"/><circle cx="54.0" cy="47.2" r="0.32"/><circle cx="53.0" cy="46.1" r="0.32"/><circle cx="56.5" cy="43.0" r="0.32"/><circle cx="43.0" cy="39.2" r="0.32"/><circle cx="56.2" cy="42.6" r="0.32"/><circle cx="42.5" cy="41.7" r="0.32"/><circle cx="46.2" cy="40.2" r="0.32"/><circle cx="47.2" cy="43.1" r="0.32"/><circle cx="45.6" cy="41.6" r="0.32"/><circle cx="49.2" cy="43.9" r="0.32"/><circle cx="49.7" cy="47.1" r="0.32"/><circle cx="51.1" cy="35.9" r="0.32"/><circle cx="45.7" cy="42.3" r="0.32"/><circle cx="53.8" cy="38.7" r="0.32"/><circle cx="44.6" cy="44.6" r="0.32"/><circle cx="46.9" cy="50.6" r="0.32"/><circle cx="46.3" cy="50.4" r="0.32"/><circle cx="39.9" cy="37.7" r="0.32"/><circle cx="56.6" cy="48.0" r="0.32"/><circle cx="52.0" cy="46.6" r="0.32"/><circle cx="52.0" cy="40.4" r="0.32"/><circle cx="54.9" cy="43.6" r="0.32"/><circle cx="55.1" cy="46.4" r="0.32"/><circle cx="36.8" cy="40.1" r="0.32"/><circle cx="56.0" cy="45.4" r="0.32"/><circle cx="46.5" cy="47.1" r="0.32"/><circle cx="46.4" cy="43.5" r="0.32"/></g>
<g fill="#000" fill-opacity="0.3"><circle cx="54.3" cy="61.2" r="0.32"/><circle cx="59.2" cy="60.7" r="0.32"/><circle cx="60.4" cy="69.2" r="0.32"/><circle cx="59.8" cy="65.6" r="0.32"/><circle cx="54.4" cy="61.2" r="0.32"/><circle cx="53.5" cy="57.0" r="0.32"/><circle cx="53.8" cy="57.4" r="0.32"/><circle cx="59.6" cy="63.1" r="0.32"/><circle cx="52.5" cy="51.3" r="0.32"/><circle cx="53.8" cy="58.5" r="0.32"/><circle cx="50.3" cy="55.0" r="0.32"/><circle cx="46.3" cy="63.2" r="0.32"/><circle cx="53.8" cy="72.9" r="0.32"/><circle cx="53.9" cy="59.8" r="0.32"/><circle cx="58.9" cy="61.1" r="0.32"/><circle cx="54.6" cy="58.7" r="0.32"/><circle cx="51.9" cy="67.7" r="0.32"/><circle cx="57.4" cy="68.7" r="0.32"/><circle cx="52.8" cy="60.6" r="0.32"/><circle cx="51.0" cy="65.1" r="0.32"/><circle cx="49.3" cy="63.2" r="0.32"/><circle cx="57.7" cy="67.3" r="0.32"/><circle cx="50.8" cy="65.7" r="0.32"/><circle cx="51.6" cy="56.9" r="0.32"/><circle cx="49.5" cy="66.0" r="0.32"/><circle cx="59.6" cy="57.6" r="0.32"/><circle cx="51.4" cy="58.9" r="0.32"/><circle cx="62.5" cy="65.3" r="0.32"/><circle cx="52.2" cy="51.9" r="0.32"/><circle cx="51.7" cy="66.2" r="0.32"/><circle cx="60.4" cy="59.2" r="0.32"/><circle cx="51.6" cy="58.1" r="0.32"/><circle cx="47.6" cy="64.9" r="0.32"/><circle cx="50.3" cy="65.6" r="0.32"/><circle cx="48.2" cy="54.4" r="0.32"/><circle cx="55.0" cy="56.8" r="0.32"/><circle cx="56.7" cy="60.5" r="0.32"/><circle cx="50.0" cy="63.5" r="0.32"/><circle cx="56.9" cy="51.3" r="0.32"/><circle cx="60.2" cy="62.9" r="0.32"/><circle cx="56.6" cy="51.6" r="0.32"/><circle cx="51.6" cy="58.8" r="0.32"/><circle cx="57.7" cy="53.5" r="0.32"/><circle cx="51.0" cy="50.8" r="0.32"/><circle cx="53.2" cy="62.2" r="0.32"/><circle cx="48.3" cy="57.7" r="0.32"/><circle cx="55.7" cy="68.1" r="0.32"/><circle cx="56.3" cy="59.0" r="0.32"/><circle cx="50.0" cy="56.0" r="0.32"/><circle cx="51.7" cy="61.2" r="0.32"/><circle cx="53.8" cy="68.5" r="0.32"/><circle cx="55.0" cy="55.4" r="0.32"/><circle cx="59.3" cy="65.1" r="0.32"/><circle cx="54.3" cy="57.0" r="0.32"/><circle cx="47.6" cy="55.6" r="0.32"/><circle cx="57.1" cy="56.6" r="0.32"/><circle cx="49.5" cy="61.4" r="0.32"/><circle cx="54.8" cy="63.4" r="0.32"/><circle cx="56.2" cy="67.3" r="0.32"/><circle cx="51.1" cy="65.2" r="0.32"/><circle cx="50.6" cy="63.8" r="0.32"/><circle cx="54.6" cy="61.7" r="0.32"/><circle cx="57.3" cy="60.4" r="0.32"/><circle cx="57.8" cy="64.7" r="0.32"/><circle cx="54.5" cy="57.8" r="0.32"/><circle cx="51.4" cy="58.0" r="0.32"/><circle cx="53.3" cy="60.4" r="0.32"/><circle cx="64.1" cy="63.6" r="0.32"/><circle cx="56.6" cy="56.4" r="0.32"/><circle cx="51.6" cy="59.0" r="0.32"/><circle cx="54.7" cy="55.5" r="0.32"/><circle cx="59.5" cy="57.8" r="0.32"/><circle cx="57.7" cy="49.3" r="0.32"/><circle cx="54.0" cy="61.8" r="0.32"/><circle cx="54.7" cy="63.4" r="0.32"/><circle cx="55.0" cy="61.3" r="0.32"/><circle cx="47.6" cy="57.1" r="0.32"/><circle cx="46.0" cy="63.5" r="0.32"/><circle cx="55.0" cy="59.6" r="0.32"/><circle cx="51.2" cy="57.7" r="0.32"/><circle cx="60.3" cy="68.8" r="0.32"/><circle cx="53.8" cy="66.7" r="0.32"/><circle cx="48.6" cy="51.2" r="0.32"/><circle cx="52.4" cy="56.3" r="0.32"/><circle cx="52.1" cy="61.4" r="0.32"/><circle cx="64.3" cy="57.3" r="0.32"/><circle cx="54.2" cy="61.8" r="0.32"/><circle cx="53.9" cy="65.0" r="0.32"/><circle cx="60.0" cy="54.5" r="0.32"/><circle cx="54.5" cy="59.2" r="0.32"/><circle cx="55.2" cy="53.1" r="0.32"/><circle cx="48.0" cy="49.4" r="0.32"/><circle cx="55.8" cy="61.4" r="0.32"/><circle cx="54.3" cy="49.1" r="0.32"/><circle cx="52.7" cy="56.9" r="0.32"/><circle cx="49.2" cy="56.1" r="0.32"/><circle cx="56.4" cy="63.1" r="0.32"/><circle cx="53.9" cy="63.0" r="0.32"/><circle cx="51.9" cy="60.8" r="0.32"/><circle cx="54.1" cy="63.2" r="0.32"/><circle cx="53.8" cy="59.8" r="0.32"/><circle cx="53.5" cy="57.4" r="0.32"/><circle cx="61.6" cy="63.0" r="0.32"/><circle cx="55.5" cy="71.5" r="0.32"/><circle cx="58.8" cy="53.0" r="0.32"/><circle cx="56.4" cy="64.5" r="0.32"/><circle cx="60.4" cy="66.8" r="0.32"/><circle cx="56.6" cy="54.8" r="0.32"/><circle cx="51.0" cy="61.8" r="0.32"/><circle cx="55.7" cy="55.6" r="0.32"/><circle cx="52.7" cy="58.6" r="0.32"/><circle cx="54.2" cy="62.1" r="0.32"/><circle cx="53.0" cy="54.6" r="0.32"/><circle cx="58.2" cy="68.2" r="0.32"/><circle cx="53.6" cy="65.4" r="0.32"/><circle cx="55.5" cy="63.7" r="0.32"/><circle cx="55.6" cy="56.8" r="0.32"/><circle cx="56.0" cy="65.4" r="0.32"/><circle cx="51.0" cy="69.9" r="0.32"/><circle cx="61.1" cy="69.3" r="0.32"/><circle cx="60.8" cy="64.1" r="0.32"/><circle cx="52.8" cy="57.6" r="0.32"/><circle cx="51.2" cy="61.1" r="0.32"/><circle cx="53.9" cy="63.7" r="0.32"/><circle cx="47.1" cy="71.6" r="0.32"/><circle cx="61.7" cy="60.4" r="0.32"/><circle cx="56.3" cy="62.8" r="0.32"/><circle cx="54.9" cy="59.5" r="0.32"/><circle cx="53.6" cy="56.5" r="0.32"/><circle cx="54.6" cy="60.4" r="0.32"/><circle cx="55.1" cy="56.4" r="0.32"/><circle cx="54.1" cy="60.7" r="0.32"/><circle cx="56.1" cy="55.4" r="0.32"/><circle cx="55.4" cy="65.2" r="0.32"/><circle cx="56.0" cy="58.7" r="0.32"/><circle cx="52.3" cy="59.4" r="0.32"/><circle cx="56.5" cy="68.0" r="0.32"/><circle cx="53.5" cy="57.4" r="0.32"/><circle cx="55.3" cy="61.5" r="0.32"/><circle cx="50.9" cy="57.0" r="0.32"/><circle cx="53.7" cy="63.7" r="0.32"/><circle cx="49.9" cy="55.6" r="0.32"/><circle cx="55.7" cy="54.6" r="0.32"/><circle cx="54.4" cy="62.2" r="0.32"/><circle cx="53.6" cy="55.6" r="0.32"/><circle cx="53.8" cy="58.9" r="0.32"/><circle cx="55.1" cy="56.5" r="0.32"/><circle cx="57.7" cy="52.5" r="0.32"/><circle cx="53.4" cy="60.5" r="0.32"/><circle cx="57.3" cy="57.6" r="0.32"/><circle cx="55.9" cy="57.8" r="0.32"/><circle cx="56.5" cy="68.8" r="0.32"/><circle cx="52.6" cy="62.6" r="0.32"/><circle cx="50.8" cy="65.2" r="0.32"/><circle cx="58.1" cy="60.7" r="0.32"/><circle cx="50.1" cy="62.4" r="0.32"/><circle cx="57.9" cy="65.7" r="0.32"/><circle cx="56.8" cy="51.7" r="0.32"/><circle cx="51.7" cy="67.3" r="0.32"/><circle cx="49.8" cy="65.9" r="0.32"/><circle cx="60.4" cy="64.2" r="0.32"/><circle cx="57.8" cy="58.9" r="0.32"/><circle cx="49.8" cy="60.0" r="0.32"/><circle cx="53.3" cy="60.3" r="0.32"/><circle cx="56.4" cy="59.8" r="0.32"/><circle cx="54.7" cy="62.5" r="0.32"/><circle cx="54.0" cy="69.3" r="0.32"/><circle cx="55.5" cy="60.9" r="0.32"/><circle cx="53.3" cy="57.5" r="0.32"/><circle cx="58.6" cy="61.2" r="0.32"/><circle cx="50.3" cy="57.8" r="0.32"/><circle cx="53.5" cy="58.4" r="0.32"/><circle cx="57.7" cy="54.9" r="0.32"/><circle cx="55.7" cy="61.2" r="0.32"/><circle cx="50.0" cy="60.7" r="0.32"/><circle cx="53.7" cy="62.9" r="0.32"/><circle cx="52.5" cy="62.0" r="0.32"/><circle cx="48.3" cy="55.3" r="0.32"/><circle cx="56.7" cy="65.5" r="0.32"/><circle cx="54.0" cy="57.6" r="0.32"/><circle cx="57.7" cy="50.5" r="0.32"/><circle cx="51.3" cy="63.7" r="0.32"/><circle cx="56.2" cy="55.5" r="0.32"/><circle cx="47.6" cy="67.5" r="0.32"/><circle cx="54.5" cy="56.2" r="0.32"/><circle cx="54.2" cy="64.8" r="0.32"/><circle cx="45.2" cy="65.8" r="0.32"/><circle cx="56.5" cy="50.5" r="0.32"/><circle cx="56.6" cy="52.0" r="0.32"/><circle cx="57.9" cy="62.4" r="0.32"/><circle cx="61.7" cy="57.6" r="0.32"/><circle cx="54.0" cy="65.5" r="0.32"/><circle cx="51.8" cy="57.1" r="0.32"/><circle cx="52.7" cy="60.2" r="0.32"/><circle cx="50.3" cy="62.8" r="0.32"/><circle cx="55.8" cy="60.8" r="0.32"/><circle cx="59.8" cy="58.9" r="0.32"/><circle cx="58.4" cy="57.9" r="0.32"/><circle cx="56.6" cy="51.2" r="0.32"/><circle cx="54.7" cy="59.7" r="0.32"/><circle cx="52.3" cy="57.6" r="0.32"/><circle cx="52.8" cy="57.0" r="0.32"/><circle cx="46.5" cy="57.6" r="0.32"/><circle cx="52.1" cy="58.0" r="0.32"/><circle cx="50.4" cy="59.8" r="0.32"/><circle cx="56.7" cy="59.3" r="0.32"/><circle cx="52.3" cy="67.0" r="0.32"/><circle cx="57.3" cy="64.9" r="0.32"/><circle cx="57.9" cy="58.9" r="0.32"/><circle cx="53.6" cy="65.8" r="0.32"/><circle cx="52.1" cy="59.9" r="0.32"/><circle cx="55.3" cy="62.3" r="0.32"/><circle cx="53.1" cy="65.2" r="0.32"/><circle cx="53.4" cy="64.0" r="0.32"/><circle cx="57.6" cy="63.7" r="0.32"/><circle cx="56.5" cy="54.9" r="0.32"/><circle cx="49.5" cy="57.5" r="0.32"/><circle cx="55.6" cy="67.7" r="0.32"/><circle cx="49.8" cy="62.0" r="0.32"/><circle cx="51.1" cy="57.0" r="0.32"/><circle cx="53.1" cy="63.8" r="0.32"/><circle cx="54.7" cy="66.2" r="0.32"/><circle cx="50.6" cy="64.8" r="0.32"/><circle cx="57.2" cy="60.8" r="0.32"/><circle cx="55.6" cy="57.8" r="0.32"/><circle cx="50.3" cy="58.6" r="0.32"/><circle cx="51.8" cy="74.4" r="0.32"/><circle cx="52.4" cy="68.4" r="0.32"/><circle cx="54.7" cy="62.0" r="0.32"/><circle cx="56.5" cy="56.8" r="0.32"/><circle cx="57.1" cy="62.3" r="0.32"/><circle cx="48.8" cy="63.4" r="0.32"/><circle cx="55.9" cy="62.7" r="0.32"/><circle cx="59.4" cy="58.5" r="0.32"/><circle cx="55.7" cy="64.1" r="0.32"/><circle cx="50.9" cy="66.3" r="0.32"/><circle cx="49.1" cy="54.3" r="0.32"/><circle cx="55.8" cy="55.3" r="0.32"/><circle cx="53.6" cy="52.6" r="0.32"/><circle cx="54.2" cy="55.1" r="0.32"/><circle cx="55.2" cy="53.1" r="0.32"/><circle cx="55.5" cy="59.2" r="0.32"/><circle cx="54.2" cy="60.2" r="0.32"/><circle cx="54.4" cy="54.2" r="0.32"/><circle cx="45.3" cy="60.7" r="0.32"/><circle cx="50.8" cy="58.3" r="0.32"/><circle cx="55.5" cy="51.0" r="0.32"/><circle cx="51.4" cy="57.6" r="0.32"/><circle cx="50.4" cy="62.1" r="0.32"/><circle cx="53.5" cy="56.6" r="0.32"/><circle cx="50.7" cy="64.4" r="0.32"/><circle cx="51.8" cy="63.3" r="0.32"/><circle cx="55.5" cy="51.4" r="0.32"/><circle cx="50.3" cy="60.5" r="0.32"/><circle cx="55.2" cy="64.2" r="0.32"/><circle cx="56.7" cy="65.5" r="0.32"/><circle cx="52.7" cy="59.5" r="0.32"/><circle cx="56.6" cy="58.5" r="0.32"/><circle cx="57.6" cy="52.9" r="0.32"/><circle cx="56.2" cy="59.7" r="0.32"/><circle cx="47.3" cy="65.2" r="0.32"/><circle cx="55.1" cy="60.6" r="0.32"/><circle cx="50.3" cy="58.3" r="0.32"/><circle cx="59.1" cy="56.5" r="0.32"/><circle cx="42.2" cy="56.4" r="0.32"/><circle cx="49.9" cy="59.9" r="0.32"/><circle cx="52.7" cy="56.1" r="0.32"/><circle cx="51.1" cy="65.5" r="0.32"/><circle cx="49.1" cy="69.9" r="0.32"/><circle cx="52.2" cy="55.3" r="0.32"/><circle cx="56.7" cy="63.2" r="0.32"/><circle cx="50.5" cy="64.1" r="0.32"/><circle cx="47.7" cy="56.1" r="0.32"/><circle cx="57.8" cy="59.3" r="0.32"/><circle cx="49.6" cy="63.0" r="0.32"/><circle cx="57.1" cy="60.4" r="0.32"/><circle cx="47.9" cy="58.8" r="0.32"/><circle cx="55.4" cy="64.2" r="0.32"/><circle cx="60.3" cy="59.3" r="0.32"/><circle cx="52.4" cy="60.3" r="0.32"/><circle cx="58.1" cy="56.0" r="0.32"/><circle cx="58.4" cy="47.3" r="0.32"/><circle cx="56.7" cy="57.3" r="0.32"/><circle cx="55.6" cy="63.8" r="0.32"/><circle cx="50.0" cy="60.1" r="0.32"/><circle cx="54.8" cy="63.3" r="0.32"/><circle cx="50.8" cy="55.7" r="0.32"/><circle cx="47.5" cy="72.7" r="0.32"/><circle cx="53.3" cy="59.4" r="0.32"/><circle cx="48.9" cy="65.0" r="0.32"/><circle cx="52.2" cy="67.4" r="0.32"/><circle cx="56.9" cy="60.6" r="0.32"/><circle cx="56.5" cy="55.2" r="0.32"/><circle cx="52.9" cy="57.7" r="0.32"/><circle cx="49.7" cy="60.6" r="0.32"/><circle cx="53.5" cy="67.4" r="0.32"/><circle cx="42.6" cy="57.3" r="0.32"/><circle cx="50.9" cy="58.3" r="0.32"/><circle cx="55.4" cy="62.4" r="0.32"/><circle cx="54.1" cy="58.2" r="0.32"/><circle cx="55.7" cy="62.2" r="0.32"/><circle cx="47.7" cy="59.2" r="0.32"/><circle cx="49.3" cy="54.8" r="0.32"/><circle cx="54.5" cy="60.8" r="0.32"/><circle cx="54.4" cy="56.3" r="0.32"/><circle cx="53.3" cy="56.1" r="0.32"/><circle cx="55.3" cy="63.8" r="0.32"/><circle cx="60.0" cy="66.6" r="0.32"/><circle cx="51.3" cy="58.3" r="0.32"/><circle cx="50.8" cy="62.0" r="0.32"/><circle cx="60.7" cy="63.9" r="0.32"/><circle cx="46.5" cy="54.5" r="0.32"/><circle cx="49.6" cy="63.0" r="0.32"/><circle cx="54.0" cy="61.9" r="0.32"/><circle cx="60.1" cy="56.5" r="0.32"/><circle cx="51.1" cy="69.9" r="0.32"/><circle cx="55.2" cy="56.8" r="0.32"/><circle cx="47.1" cy="53.2" r="0.32"/><circle cx="45.7" cy="60.8" r="0.32"/><circle cx="54.2" cy="65.3" r="0.32"/><circle cx="53.5" cy="57.2" r="0.32"/><circle cx="51.5" cy="69.6" r="0.32"/><circle cx="48.0" cy="61.3" r="0.32"/><circle cx="54.1" cy="63.5" r="0.32"/><circle cx="52.6" cy="62.9" r="0.32"/><circle cx="56.8" cy="59.8" r="0.32"/><circle cx="52.4" cy="59.6" r="0.32"/><circle cx="50.7" cy="59.5" r="0.32"/><circle cx="53.0" cy="61.5" r="0.32"/><circle cx="58.5" cy="66.8" r="0.32"/><circle cx="52.5" cy="63.4" r="0.32"/><circle cx="55.0" cy="64.2" r="0.32"/><circle cx="54.1" cy="61.8" r="0.32"/><circle cx="52.4" cy="56.7" r="0.32"/><circle cx="57.0" cy="66.7" r="0.32"/><circle cx="56.3" cy="62.6" r="0.32"/><circle cx="54.9" cy="58.3" r="0.32"/><circle cx="47.9" cy="63.7" r="0.32"/><circle cx="54.7" cy="57.8" r="0.32"/><circle cx="50.7" cy="66.6" r="0.32"/><circle cx="47.9" cy="69.0" r="0.32"/><circle cx="56.2" cy="71.9" r="0.32"/><circle cx="51.6" cy="60.4" r="0.32"/><circle cx="52.3" cy="61.2" r="0.32"/><circle cx="53.3" cy="56.9" r="0.32"/><circle cx="57.7" cy="56.7" r="0.32"/><circle cx="52.3" cy="63.2" r="0.32"/><circle cx="52.2" cy="58.4" r="0.32"/><circle cx="55.2" cy="58.7" r="0.32"/><circle cx="49.8" cy="60.0" r="0.32"/><circle cx="53.3" cy="68.7" r="0.32"/><circle cx="50.3" cy="65.2" r="0.32"/><circle cx="51.3" cy="58.8" r="0.32"/><circle cx="52.9" cy="61.8" r="0.32"/><circle cx="56.9" cy="68.9" r="0.32"/><circle cx="51.8" cy="66.9" r="0.32"/><circle cx="57.4" cy="64.4" r="0.32"/><circle cx="51.4" cy="64.8" r="0.32"/><circle cx="53.6" cy="62.2" r="0.32"/><circle cx="53.1" cy="63.7" r="0.32"/><circle cx="57.8" cy="65.9" r="0.32"/><circle cx="53.3" cy="65.3" r="0.32"/><circle cx="58.9" cy="56.0" r="0.32"/><circle cx="59.0" cy="54.1" r="0.32"/><circle cx="55.8" cy="63.4" r="0.32"/><circle cx="59.0" cy="61.8" r="0.32"/><circle cx="52.4" cy="56.7" r="0.32"/><circle cx="49.7" cy="64.2" r="0.32"/><circle cx="53.2" cy="57.1" r="0.32"/><circle cx="55.8" cy="56.8" r="0.32"/><circle cx="52.5" cy="58.3" r="0.32"/><circle cx="59.6" cy="67.5" r="0.32"/><circle cx="53.5" cy="53.0" r="0.32"/><circle cx="54.9" cy="60.8" r="0.32"/><circle cx="55.2" cy="63.2" r="0.32"/><circle cx="52.9" cy="64.9" r="0.32"/><circle cx="56.8" cy="61.5" r="0.32"/><circle cx="52.6" cy="58.2" r="0.32"/><circle cx="56.4" cy="55.2" r="0.32"/><circle cx="53.5" cy="56.9" r="0.32"/><circle cx="49.3" cy="63.4" r="0.32"/><circle cx="53.9" cy="60.7" r="0.32"/><circle cx="57.0" cy="53.3" r="0.32"/><circle cx="53.8" cy="61.9" r="0.32"/><circle cx="56.8" cy="55.3" r="0.32"/><circle cx="56.4" cy="61.6" r="0.32"/><circle cx="58.6" cy="66.0" r="0.32"/><circle cx="55.9" cy="70.8" r="0.32"/><circle cx="54.0" cy="58.5" r="0.32"/><circle cx="52.8" cy="56.0" r="0.32"/><circle cx="53.9" cy="51.5" r="0.32"/><circle cx="53.7" cy="62.5" r="0.32"/><circle cx="57.4" cy="58.8" r="0.32"/><circle cx="58.7" cy="57.4" r="0.32"/><circle cx="53.5" cy="51.5" r="0.32"/><circle cx="51.4" cy="56.7" r="0.32"/><circle cx="59.0" cy="63.0" r="0.32"/><circle cx="50.3" cy="63.0" r="0.32"/><circle cx="55.6" cy="59.4" r="0.32"/><circle cx="54.1" cy="59.1" r="0.32"/><circle cx="52.2" cy="52.2" r="0.32"/><circle cx="53.7" cy="66.5" r="0.32"/><circle cx="58.8" cy="59.2" r="0.32"/><circle cx="51.5" cy="59.5" r="0.32"/><circle cx="57.0" cy="62.1" r="0.32"/><circle cx="52.1" cy="62.2" r="0.32"/><circle cx="53.3" cy="62.9" r="0.32"/><circle cx="52.6" cy="53.6" r="0.32"/><circle cx="54.2" cy="64.1" r="0.32"/><circle cx="50.3" cy="60.0" r="0.32"/><circle cx="56.9" cy="58.7" r="0.32"/><circle cx="51.8" cy="70.0" r="0.32"/><circle cx="56.7" cy="65.3" r="0.32"/><circle cx="50.9" cy="68.1" r="0.32"/><circle cx="48.5" cy="58.1" r="0.32"/><circle cx="56.4" cy="66.7" r="0.32"/><circle cx="50.9" cy="57.4" r="0.32"/><circle cx="54.7" cy="51.5" r="0.32"/><circle cx="56.1" cy="63.1" r="0.32"/><circle cx="52.5" cy="63.0" r="0.32"/><circle cx="56.6" cy="61.9" r="0.32"/><circle cx="55.7" cy="67.6" r="0.32"/><circle cx="52.4" cy="61.3" r="0.32"/><circle cx="52.3" cy="65.3" r="0.32"/><circle cx="52.7" cy="62.7" r="0.32"/><circle cx="54.5" cy="60.8" r="0.32"/><circle cx="59.7" cy="60.1" r="0.32"/><circle cx="58.7" cy="64.3" r="0.32"/><circle cx="58.3" cy="59.7" r="0.32"/><circle cx="57.1" cy="64.0" r="0.32"/><circle cx="52.0" cy="61.8" r="0.32"/><circle cx="53.6" cy="60.3" r="0.32"/><circle cx="58.3" cy="57.2" r="0.32"/><circle cx="48.5" cy="52.4" r="0.32"/><circle cx="52.5" cy="57.5" r="0.32"/><circle cx="54.0" cy="63.1" r="0.32"/><circle cx="59.8" cy="61.9" r="0.32"/><circle cx="55.5" cy="57.1" r="0.32"/><circle cx="55.9" cy="66.8" r="0.32"/><circle cx="58.4" cy="51.5" r="0.32"/><circle cx="56.9" cy="67.8" r="0.32"/><circle cx="56.7" cy="53.6" r="0.32"/><circle cx="53.0" cy="63.2" r="0.32"/><circle cx="55.4" cy="56.7" r="0.32"/><circle cx="51.1" cy="65.0" r="0.32"/><circle cx="49.6" cy="67.1" r="0.32"/><circle cx="54.1" cy="61.9" r="0.32"/><circle cx="49.6" cy="57.7" r="0.32"/><circle cx="56.3" cy="53.7" r="0.32"/><circle cx="60.8" cy="54.0" r="0.32"/><circle cx="50.0" cy="60.7" r="0.32"/><circle cx="55.6" cy="63.9" r="0.32"/><circle cx="52.8" cy="59.5" r="0.32"/><circle cx="53.2" cy="57.8" r="0.32"/><circle cx="45.6" cy="64.9" r="0.32"/><circle cx="54.8" cy="61.2" r="0.32"/><circle cx="51.9" cy="61.7" r="0.32"/><circle cx="54.0" cy="60.1" r="0.32"/><circle cx="57.6" cy="52.6" r="0.32"/><circle cx="54.8" cy="55.6" r="0.32"/><circle cx="53.0" cy="67.4" r="0.32"/><circle cx="50.5" cy="60.0" r="0.32"/><circle cx="52.1" cy="64.9" r="0.32"/><circle cx="50.8" cy="52.7" r="0.32"/><circle cx="55.7" cy="58.9" r="0.32"/><circle cx="53.0" cy="65.5" r="0.32"/><circle cx="51.1" cy="58.8" r="0.32"/><circle cx="54.5" cy="62.4" r="0.32"/><circle cx="52.3" cy="65.3" r="0.32"/><circle cx="61.3" cy="58.6" r="0.32"/><circle cx="60.1" cy="50.8" r="0.32"/><circle cx="58.6" cy="58.9" r="0.32"/><circle cx="54.4" cy="58.9" r="0.32"/><circle cx="51.9" cy="54.6" r="0.32"/><circle cx="52.7" cy="66.5" r="0.32"/><circle cx="57.7" cy="58.9" r="0.32"/><circle cx="52.3" cy="57.3" r="0.32"/><circle cx="50.1" cy="68.8" r="0.32"/><circle cx="56.2" cy="61.0" r="0.32"/><circle cx="52.4" cy="55.8" r="0.32"/><circle cx="58.3" cy="64.1" r="0.32"/><circle cx="50.9" cy="65.1" r="0.32"/><circle cx="50.4" cy="63.5" r="0.32"/><circle cx="50.9" cy="58.6" r="0.32"/><circle cx="55.6" cy="62.5" r="0.32"/><circle cx="57.3" cy="56.6" r="0.32"/><circle cx="59.2" cy="66.7" r="0.32"/><circle cx="54.0" cy="62.6" r="0.32"/><circle cx="51.5" cy="59.8" r="0.32"/><circle cx="49.7" cy="60.9" r="0.32"/><circle cx="54.7" cy="66.7" r="0.32"/><circle cx="57.1" cy="64.3" r="0.32"/><circle cx="52.8" cy="59.5" r="0.32"/><circle cx="52.9" cy="61.5" r="0.32"/><circle cx="47.7" cy="64.1" r="0.32"/><circle cx="48.9" cy="58.1" r="0.32"/><circle cx="54.1" cy="58.1" r="0.32"/><circle cx="59.4" cy="60.0" r="0.32"/><circle cx="59.1" cy="65.9" r="0.32"/><circle cx="52.4" cy="62.3" r="0.32"/><circle cx="58.2" cy="59.0" r="0.32"/><circle cx="54.3" cy="57.9" r="0.32"/><circle cx="54.2" cy="58.9" r="0.32"/><circle cx="54.3" cy="65.1" r="0.32"/><circle cx="58.5" cy="61.1" r="0.32"/><circle cx="54.7" cy="64.4" r="0.32"/><circle cx="53.1" cy="55.6" r="0.32"/><circle cx="57.6" cy="56.2" r="0.32"/><circle cx="57.0" cy="56.1" r="0.32"/><circle cx="60.0" cy="55.7" r="0.32"/><circle cx="56.8" cy="67.4" r="0.32"/><circle cx="50.9" cy="67.3" r="0.32"/><circle cx="51.3" cy="52.4" r="0.32"/><circle cx="56.4" cy="63.7" r="0.32"/><circle cx="53.3" cy="48.9" r="0.32"/><circle cx="53.8" cy="59.1" r="0.32"/><circle cx="52.8" cy="59.2" r="0.32"/><circle cx="48.2" cy="57.9" r="0.32"/><circle cx="59.9" cy="67.6" r="0.32"/><circle cx="52.8" cy="57.2" r="0.32"/><circle cx="55.3" cy="65.4" r="0.32"/><circle cx="56.4" cy="55.1" r="0.32"/><circle cx="54.5" cy="61.1" r="0.32"/><circle cx="58.7" cy="66.0" r="0.32"/><circle cx="55.7" cy="66.1" r="0.32"/><circle cx="52.7" cy="67.6" r="0.32"/><circle cx="52.6" cy="62.3" r="0.32"/><circle cx="57.0" cy="56.3" r="0.32"/><circle cx="51.7" cy="52.4" r="0.32"/><circle cx="54.5" cy="60.2" r="0.32"/><circle cx="52.9" cy="62.8" r="0.32"/><circle cx="47.1" cy="60.4" r="0.32"/><circle cx="54.3" cy="59.3" r="0.32"/><circle cx="56.6" cy="68.6" r="0.32"/><circle cx="52.5" cy="56.2" r="0.32"/><circle cx="52.0" cy="60.9" r="0.32"/><circle cx="55.9" cy="56.5" r="0.32"/><circle cx="57.3" cy="55.8" r="0.32"/><circle cx="56.7" cy="62.5" r="0.32"/><circle cx="55.5" cy="70.4" r="0.32"/><circle cx="53.1" cy="59.7" r="0.32"/><circle cx="55.6" cy="64.5" r="0.32"/><circle cx="49.6" cy="61.8" r="0.32"/><circle cx="51.6" cy="63.4" r="0.32"/><circle cx="58.5" cy="60.7" r="0.32"/><circle cx="53.7" cy="61.3" r="0.32"/><circle cx="44.4" cy="64.1" r="0.32"/><circle cx="55.8" cy="61.3" r="0.32"/><circle cx="52.7" cy="57.1" r="0.32"/><circle cx="53.4" cy="66.1" r="0.32"/><circle cx="53.7" cy="66.7" r="0.32"/><circle cx="45.6" cy="58.4" r="0.32"/><circle cx="54.9" cy="60.4" r="0.32"/><circle cx="48.6" cy="57.4" r="0.32"/><circle cx="58.1" cy="54.5" r="0.32"/><circle cx="50.8" cy="55.4" r="0.32"/><circle cx="52.2" cy="63.5" r="0.32"/><circle cx="55.9" cy="51.1" r="0.32"/><circle cx="58.8" cy="57.8" r="0.32"/><circle cx="52.1" cy="68.2" r="0.32"/><circle cx="53.7" cy="54.8" r="0.32"/><circle cx="51.9" cy="57.2" r="0.32"/><circle cx="50.7" cy="59.0" r="0.32"/><circle cx="56.9" cy="62.1" r="0.32"/><circle cx="49.5" cy="73.3" r="0.32"/><circle cx="50.8" cy="61.0" r="0.32"/><circle cx="54.1" cy="64.0" r="0.32"/><circle cx="52.9" cy="62.6" r="0.32"/><circle cx="60.9" cy="60.9" r="0.32"/><circle cx="50.5" cy="62.0" r="0.32"/><circle cx="51.4" cy="58.8" r="0.32"/><circle cx="54.6" cy="62.1" r="0.32"/><circle cx="53.1" cy="64.4" r="0.32"/><circle cx="53.4" cy="54.5" r="0.32"/><circle cx="56.9" cy="58.8" r="0.32"/><circle cx="58.0" cy="57.5" r="0.32"/><circle cx="55.9" cy="62.0" r="0.32"/><circle cx="45.2" cy="53.6" r="0.32"/><circle cx="50.3" cy="67.0" r="0.32"/><circle cx="47.8" cy="64.7" r="0.32"/><circle cx="57.6" cy="62.8" r="0.32"/><circle cx="56.2" cy="58.2" r="0.32"/><circle cx="54.0" cy="61.5" r="0.32"/><circle cx="55.4" cy="63.8" r="0.32"/><circle cx="53.3" cy="57.3" r="0.32"/><circle cx="52.2" cy="62.4" r="0.32"/><circle cx="48.6" cy="54.7" r="0.32"/><circle cx="52.7" cy="58.0" r="0.32"/><circle cx="53.1" cy="48.2" r="0.32"/><circle cx="52.9" cy="59.3" r="0.32"/><circle cx="56.5" cy="51.4" r="0.32"/><circle cx="53.0" cy="62.7" r="0.32"/><circle cx="55.6" cy="66.0" r="0.32"/><circle cx="57.4" cy="55.7" r="0.32"/><circle cx="56.1" cy="59.0" r="0.32"/><circle cx="51.4" cy="67.6" r="0.32"/><circle cx="51.9" cy="56.6" r="0.32"/><circle cx="52.7" cy="56.6" r="0.32"/><circle cx="57.3" cy="62.3" r="0.32"/><circle cx="58.6" cy="62.4" r="0.32"/><circle cx="52.0" cy="65.3" r="0.32"/><circle cx="51.9" cy="58.4" r="0.32"/><circle cx="53.5" cy="60.7" r="0.32"/><circle cx="57.9" cy="57.7" r="0.32"/><circle cx="55.2" cy="60.4" r="0.32"/><circle cx="49.9" cy="55.4" r="0.32"/><circle cx="53.3" cy="62.4" r="0.32"/><circle cx="55.0" cy="62.7" r="0.32"/><circle cx="54.2" cy="58.4" r="0.32"/><circle cx="55.4" cy="55.9" r="0.32"/><circle cx="49.6" cy="59.0" r="0.32"/><circle cx="49.3" cy="58.1" r="0.32"/><circle cx="51.6" cy="57.9" r="0.32"/><circle cx="53.9" cy="56.8" r="0.32"/><circle cx="52.6" cy="52.6" r="0.32"/><circle cx="54.5" cy="56.4" r="0.32"/><circle cx="55.3" cy="47.4" r="0.32"/><circle cx="51.4" cy="61.6" r="0.32"/><circle cx="46.0" cy="58.8" r="0.32"/><circle cx="54.3" cy="61.0" r="0.32"/><circle cx="49.1" cy="61.6" r="0.32"/><circle cx="54.5" cy="56.0" r="0.32"/><circle cx="56.4" cy="60.3" r="0.32"/><circle cx="54.1" cy="58.4" r="0.32"/><circle cx="55.8" cy="61.0" r="0.32"/><circle cx="57.7" cy="62.6" r="0.32"/><circle cx="52.0" cy="59.5" r="0.32"/><circle cx="57.0" cy="58.8" r="0.32"/><circle cx="55.3" cy="62.9" r="0.32"/><circle cx="53.4" cy="49.7" r="0.32"/><circle cx="54.4" cy="61.5" r="0.32"/><circle cx="54.4" cy="57.0" r="0.32"/><circle cx="58.0" cy="59.9" r="0.32"/><circle cx="52.0" cy="57.2" r="0.32"/><circle cx="55.2" cy="55.4" r="0.32"/><circle cx="50.7" cy="69.8" r="0.32"/><circle cx="58.3" cy="65.4" r="0.32"/><circle cx="58.5" cy="63.3" r="0.32"/><circle cx="48.5" cy="66.0" r="0.32"/><circle cx="58.1" cy="62.8" r="0.32"/><circle cx="47.6" cy="66.3" r="0.32"/><circle cx="58.5" cy="58.2" r="0.32"/><circle cx="54.4" cy="64.1" r="0.32"/><circle cx="53.7" cy="65.6" r="0.32"/><circle cx="54.3" cy="63.7" r="0.32"/><circle cx="54.3" cy="53.6" r="0.32"/><circle cx="50.7" cy="75.2" r="0.32"/><circle cx="54.9" cy="66.6" r="0.32"/><circle cx="57.8" cy="68.5" r="0.32"/><circle cx="55.8" cy="57.7" r="0.32"/></g>
<g fill="#000" fill-opacity="0.25"><circle cx="37.8" cy="66.5" r="0.32"/><circle cx="37.4" cy="71.4" r="0.32"/><circle cx="33.6" cy="70.1" r="0.32"/><circle cx="39.4" cy="72.1" r="0.32"/><circle cx="36.0" cy="68.7" r="0.32"/><circle cx="34.2" cy="68.0" r="0.32"/><circle cx="38.8" cy="73.4" r="0.32"/><circle cx="35.6" cy="72.2" r="0.32"/><circle cx="38.6" cy="68.9" r="0.32"/><circle cx="42.1" cy="65.4" r="0.32"/><circle cx="37.7" cy="70.2" r="0.32"/><circle cx="41.9" cy="72.9" r="0.32"/><circle cx="42.2" cy="70.0" r="0.32"/><circle cx="39.7" cy="72.2" r="0.32"/><circle cx="38.8" cy="70.4" r="0.32"/><circle cx="37.4" cy="69.1" r="0.32"/><circle cx="35.4" cy="73.2" r="0.32"/><circle cx="36.9" cy="66.2" r="0.32"/><circle cx="38.3" cy="69.7" r="0.32"/><circle cx="38.1" cy="73.0" r="0.32"/><circle cx="37.6" cy="69.3" r="0.32"/><circle cx="36.3" cy="69.8" r="0.32"/><circle cx="36.9" cy="70.2" r="0.32"/><circle cx="43.9" cy="70.5" r="0.32"/><circle cx="36.1" cy="73.2" r="0.32"/><circle cx="39.5" cy="71.2" r="0.32"/><circle cx="39.2" cy="71.2" r="0.32"/><circle cx="39.1" cy="72.3" r="0.32"/><circle cx="39.8" cy="72.2" r="0.32"/><circle cx="36.8" cy="69.8" r="0.32"/><circle cx="36.4" cy="71.5" r="0.32"/><circle cx="39.4" cy="69.0" r="0.32"/><circle cx="38.9" cy="74.4" r="0.32"/><circle cx="40.2" cy="67.8" r="0.32"/><circle cx="37.6" cy="70.9" r="0.32"/><circle cx="37.7" cy="70.5" r="0.32"/><circle cx="40.1" cy="70.4" r="0.32"/><circle cx="35.7" cy="71.1" r="0.32"/><circle cx="37.6" cy="70.0" r="0.32"/><circle cx="36.7" cy="67.4" r="0.32"/><circle cx="35.4" cy="69.2" r="0.32"/><circle cx="35.7" cy="65.0" r="0.32"/><circle cx="40.0" cy="67.8" r="0.32"/><circle cx="36.4" cy="70.7" r="0.32"/><circle cx="33.1" cy="72.2" r="0.32"/><circle cx="36.3" cy="71.0" r="0.32"/><circle cx="36.9" cy="70.3" r="0.32"/><circle cx="38.0" cy="69.8" r="0.32"/><circle cx="34.2" cy="67.2" r="0.32"/><circle cx="37.7" cy="72.3" r="0.32"/><circle cx="36.7" cy="70.7" r="0.32"/><circle cx="38.1" cy="70.6" r="0.32"/><circle cx="39.7" cy="67.2" r="0.32"/><circle cx="38.3" cy="69.5" r="0.32"/><circle cx="37.2" cy="68.3" r="0.32"/><circle cx="36.3" cy="68.0" r="0.32"/><circle cx="35.7" cy="74.2" r="0.32"/><circle cx="41.1" cy="69.8" r="0.32"/><circle cx="39.2" cy="68.1" r="0.32"/><circle cx="32.4" cy="66.6" r="0.32"/><circle cx="38.1" cy="72.3" r="0.32"/><circle cx="37.7" cy="68.0" r="0.32"/><circle cx="37.3" cy="68.1" r="0.32"/><circle cx="35.1" cy="69.4" r="0.32"/><circle cx="37.0" cy="68.4" r="0.32"/><circle cx="36.1" cy="68.2" r="0.32"/><circle cx="38.3" cy="72.2" r="0.32"/><circle cx="37.4" cy="73.7" r="0.32"/><circle cx="34.6" cy="70.3" r="0.32"/><circle cx="35.5" cy="69.5" r="0.32"/><circle cx="38.0" cy="70.8" r="0.32"/><circle cx="40.0" cy="68.8" r="0.32"/><circle cx="35.4" cy="69.5" r="0.32"/><circle cx="38.4" cy="68.6" r="0.32"/><circle cx="39.5" cy="72.8" r="0.32"/><circle cx="35.0" cy="70.4" r="0.32"/><circle cx="39.8" cy="66.4" r="0.32"/><circle cx="38.2" cy="69.4" r="0.32"/><circle cx="35.0" cy="72.1" r="0.32"/><circle cx="38.2" cy="69.0" r="0.32"/><circle cx="38.7" cy="70.9" r="0.32"/><circle cx="39.3" cy="70.8" r="0.32"/><circle cx="38.6" cy="67.7" r="0.32"/><circle cx="37.0" cy="70.0" r="0.32"/><circle cx="32.4" cy="73.5" r="0.32"/><circle cx="37.1" cy="67.9" r="0.32"/><circle cx="34.3" cy="70.2" r="0.32"/><circle cx="37.9" cy="68.8" r="0.32"/><circle cx="37.0" cy="68.2" r="0.32"/><circle cx="36.3" cy="69.6" r="0.32"/><circle cx="36.5" cy="71.0" r="0.32"/><circle cx="37.5" cy="70.0" r="0.32"/><circle cx="38.6" cy="72.0" r="0.32"/><circle cx="39.0" cy="70.2" r="0.32"/><circle cx="37.5" cy="68.4" r="0.32"/><circle cx="37.1" cy="71.0" r="0.32"/><circle cx="38.2" cy="69.1" r="0.32"/><circle cx="35.2" cy="67.1" r="0.32"/><circle cx="38.4" cy="71.6" r="0.32"/><circle cx="38.5" cy="67.4" r="0.32"/><circle cx="37.4" cy="70.2" r="0.32"/><circle cx="36.0" cy="70.4" r="0.32"/><circle cx="37.4" cy="68.3" r="0.32"/><circle cx="35.4" cy="71.2" r="0.32"/><circle cx="38.5" cy="68.2" r="0.32"/><circle cx="35.8" cy="71.4" r="0.32"/><circle cx="39.0" cy="69.3" r="0.32"/><circle cx="40.9" cy="69.3" r="0.32"/><circle cx="35.7" cy="71.7" r="0.32"/><circle cx="37.4" cy="70.4" r="0.32"/><circle cx="37.9" cy="68.0" r="0.32"/><circle cx="35.5" cy="69.5" r="0.32"/><circle cx="40.5" cy="68.0" r="0.32"/><circle cx="40.4" cy="70.2" r="0.32"/><circle cx="35.6" cy="70.3" r="0.32"/><circle cx="38.9" cy="68.2" r="0.32"/><circle cx="33.7" cy="70.4" r="0.32"/><circle cx="35.6" cy="70.6" r="0.32"/><circle cx="34.1" cy="69.6" r="0.32"/><circle cx="36.2" cy="67.2" r="0.32"/><circle cx="37.3" cy="70.1" r="0.32"/><circle cx="36.7" cy="67.7" r="0.32"/><circle cx="38.2" cy="66.7" r="0.32"/><circle cx="38.8" cy="70.7" r="0.32"/><circle cx="41.1" cy="71.3" r="0.32"/><circle cx="38.5" cy="70.3" r="0.32"/><circle cx="37.9" cy="67.5" r="0.32"/><circle cx="40.6" cy="70.7" r="0.32"/><circle cx="37.2" cy="67.8" r="0.32"/><circle cx="40.7" cy="70.7" r="0.32"/><circle cx="35.5" cy="71.0" r="0.32"/><circle cx="41.5" cy="69.8" r="0.32"/><circle cx="38.6" cy="69.1" r="0.32"/><circle cx="36.6" cy="71.7" r="0.32"/><circle cx="43.8" cy="70.0" r="0.32"/><circle cx="37.6" cy="71.2" r="0.32"/><circle cx="37.2" cy="71.1" r="0.32"/><circle cx="39.4" cy="68.0" r="0.32"/><circle cx="35.7" cy="69.7" r="0.32"/><circle cx="39.4" cy="70.3" r="0.32"/><circle cx="40.2" cy="67.4" r="0.32"/><circle cx="38.8" cy="68.7" r="0.32"/><circle cx="38.0" cy="70.4" r="0.32"/><circle cx="35.9" cy="69.4" r="0.32"/><circle cx="35.5" cy="70.3" r="0.32"/><circle cx="36.1" cy="68.9" r="0.32"/><circle cx="38.2" cy="68.7" r="0.32"/><circle cx="40.0" cy="68.7" r="0.32"/><circle cx="39.4" cy="70.3" r="0.32"/><circle cx="35.8" cy="69.4" r="0.32"/><circle cx="36.2" cy="69.2" r="0.32"/><circle cx="37.3" cy="73.0" r="0.32"/><circle cx="37.0" cy="72.5" r="0.32"/><circle cx="38.7" cy="67.5" r="0.32"/><circle cx="33.3" cy="71.0" r="0.32"/><circle cx="33.9" cy="71.1" r="0.32"/><circle cx="39.8" cy="70.5" r="0.32"/><circle cx="37.4" cy="69.4" r="0.32"/><circle cx="38.3" cy="69.3" r="0.32"/><circle cx="36.8" cy="69.2" r="0.32"/></g>
<g fill="#000" fill-opacity="0.45"><circle cx="42.5" cy="44.9" r="0.35"/><circle cx="40.8" cy="43.6" r="0.35"/><circle cx="38.5" cy="43.0" r="0.35"/><circle cx="39.6" cy="48.2" r="0.35"/><circle cx="40.7" cy="45.3" r="0.35"/><circle cx="41.3" cy="45.6" r="0.35"/><circle cx="40.8" cy="47.2" r="0.35"/><circle cx="41.2" cy="40.3" r="0.35"/><circle cx="37.2" cy="48.4" r="0.35"/><circle cx="39.8" cy="52.1" r="0.35"/><circle cx="39.5" cy="45.1" r="0.35"/><circle cx="43.2" cy="47.9" r="0.35"/><circle cx="44.0" cy="47.8" r="0.35"/><circle cx="39.6" cy="48.3" r="0.35"/><circle cx="38.3" cy="45.4" r="0.35"/><circle cx="38.8" cy="45.9" r="0.35"/><circle cx="41.7" cy="45.3" r="0.35"/><circle cx="40.7" cy="45.2" r="0.35"/><circle cx="41.9" cy="39.6" r="0.35"/><circle cx="39.6" cy="46.9" r="0.35"/><circle cx="37.7" cy="49.0" r="0.35"/><circle cx="40.5" cy="49.7" r="0.35"/><circle cx="42.0" cy="48.1" r="0.35"/><circle cx="39.7" cy="43.8" r="0.35"/><circle cx="39.5" cy="45.3" r="0.35"/><circle cx="40.5" cy="45.3" r="0.35"/><circle cx="46.5" cy="42.5" r="0.35"/><circle cx="42.5" cy="45.3" r="0.35"/><circle cx="39.5" cy="48.8" r="0.35"/><circle cx="40.0" cy="43.5" r="0.35"/><circle cx="40.9" cy="46.0" r="0.35"/><circle cx="35.6" cy="47.0" r="0.35"/><circle cx="37.8" cy="44.6" r="0.35"/><circle cx="41.0" cy="47.3" r="0.35"/><circle cx="39.4" cy="51.9" r="0.35"/><circle cx="40.9" cy="45.0" r="0.35"/><circle cx="40.5" cy="46.2" r="0.35"/><circle cx="35.3" cy="42.5" r="0.35"/><circle cx="37.0" cy="51.7" r="0.35"/><circle cx="39.6" cy="45.8" r="0.35"/><circle cx="38.8" cy="49.0" r="0.35"/><circle cx="40.1" cy="50.8" r="0.35"/><circle cx="41.7" cy="50.6" r="0.35"/><circle cx="39.8" cy="47.4" r="0.35"/><circle cx="39.1" cy="46.1" r="0.35"/><circle cx="36.3" cy="45.0" r="0.35"/><circle cx="38.0" cy="44.9" r="0.35"/><circle cx="42.6" cy="47.2" r="0.35"/><circle cx="42.6" cy="48.7" r="0.35"/><circle cx="42.0" cy="49.0" r="0.35"/><circle cx="38.7" cy="48.5" r="0.35"/><circle cx="39.3" cy="45.2" r="0.35"/><circle cx="42.5" cy="51.9" r="0.35"/><circle cx="37.9" cy="50.9" r="0.35"/><circle cx="41.8" cy="44.4" r="0.35"/><circle cx="40.6" cy="47.4" r="0.35"/><circle cx="40.8" cy="45.6" r="0.35"/><circle cx="37.3" cy="46.6" r="0.35"/><circle cx="41.8" cy="48.5" r="0.35"/><circle cx="41.4" cy="49.3" r="0.35"/><circle cx="37.9" cy="46.4" r="0.35"/><circle cx="40.7" cy="49.0" r="0.35"/><circle cx="40.3" cy="47.8" r="0.35"/><circle cx="40.3" cy="51.8" r="0.35"/><circle cx="35.4" cy="46.4" r="0.35"/><circle cx="45.2" cy="47.1" r="0.35"/><circle cx="36.1" cy="46.8" r="0.35"/><circle cx="37.0" cy="44.8" r="0.35"/><circle cx="40.5" cy="50.8" r="0.35"/><circle cx="41.0" cy="48.2" r="0.35"/><circle cx="42.2" cy="47.0" r="0.35"/><circle cx="38.2" cy="46.3" r="0.35"/><circle cx="40.7" cy="45.8" r="0.35"/><circle cx="38.6" cy="45.6" r="0.35"/><circle cx="36.8" cy="43.9" r="0.35"/><circle cx="39.8" cy="45.6" r="0.35"/><circle cx="40.1" cy="50.0" r="0.35"/><circle cx="40.6" cy="46.4" r="0.35"/><circle cx="37.5" cy="43.8" r="0.35"/><circle cx="40.8" cy="44.3" r="0.35"/><circle cx="40.9" cy="43.8" r="0.35"/><circle cx="40.3" cy="46.3" r="0.35"/><circle cx="42.1" cy="45.5" r="0.35"/><circle cx="39.2" cy="47.1" r="0.35"/><circle cx="40.1" cy="50.7" r="0.35"/><circle cx="39.5" cy="45.2" r="0.35"/><circle cx="39.3" cy="47.7" r="0.35"/><circle cx="40.5" cy="48.2" r="0.35"/><circle cx="37.1" cy="52.7" r="0.35"/><circle cx="43.9" cy="46.4" r="0.35"/><circle cx="37.4" cy="46.9" r="0.35"/><circle cx="40.9" cy="40.9" r="0.35"/><circle cx="40.0" cy="42.8" r="0.35"/><circle cx="41.0" cy="50.0" r="0.35"/><circle cx="42.2" cy="42.7" r="0.35"/><circle cx="42.9" cy="48.8" r="0.35"/><circle cx="39.2" cy="47.8" r="0.35"/><circle cx="43.2" cy="45.7" r="0.35"/><circle cx="40.0" cy="45.1" r="0.35"/><circle cx="42.4" cy="41.1" r="0.35"/><circle cx="43.0" cy="44.1" r="0.35"/><circle cx="42.0" cy="42.4" r="0.35"/><circle cx="38.0" cy="45.0" r="0.35"/><circle cx="41.8" cy="42.4" r="0.35"/><circle cx="41.3" cy="44.9" r="0.35"/><circle cx="42.6" cy="45.7" r="0.35"/><circle cx="41.0" cy="46.1" r="0.35"/><circle cx="43.8" cy="45.6" r="0.35"/><circle cx="39.9" cy="51.5" r="0.35"/><circle cx="40.2" cy="48.2" r="0.35"/><circle cx="38.4" cy="47.0" r="0.35"/><circle cx="35.2" cy="46.8" r="0.35"/><circle cx="38.6" cy="42.7" r="0.35"/><circle cx="37.0" cy="49.4" r="0.35"/><circle cx="40.9" cy="42.7" r="0.35"/><circle cx="43.8" cy="44.8" r="0.35"/><circle cx="39.2" cy="47.1" r="0.35"/><circle cx="37.6" cy="42.5" r="0.35"/><circle cx="38.4" cy="49.5" r="0.35"/><circle cx="42.0" cy="42.5" r="0.35"/><circle cx="42.5" cy="46.6" r="0.35"/><circle cx="41.1" cy="46.6" r="0.35"/><circle cx="40.9" cy="44.0" r="0.35"/><circle cx="38.1" cy="44.7" r="0.35"/><circle cx="39.2" cy="48.0" r="0.35"/><circle cx="37.4" cy="50.5" r="0.35"/><circle cx="38.7" cy="45.0" r="0.35"/><circle cx="41.5" cy="47.6" r="0.35"/><circle cx="39.3" cy="43.8" r="0.35"/><circle cx="37.9" cy="42.5" r="0.35"/><circle cx="42.4" cy="49.2" r="0.35"/><circle cx="44.0" cy="47.7" r="0.35"/><circle cx="40.7" cy="48.4" r="0.35"/><circle cx="42.0" cy="45.9" r="0.35"/><circle cx="40.7" cy="51.9" r="0.35"/><circle cx="36.4" cy="43.0" r="0.35"/><circle cx="38.0" cy="48.4" r="0.35"/><circle cx="42.5" cy="45.7" r="0.35"/><circle cx="41.4" cy="46.4" r="0.35"/><circle cx="40.6" cy="45.1" r="0.35"/><circle cx="39.9" cy="46.5" r="0.35"/><circle cx="42.4" cy="52.1" r="0.35"/><circle cx="36.2" cy="47.8" r="0.35"/><circle cx="40.0" cy="48.9" r="0.35"/><circle cx="42.2" cy="48.5" r="0.35"/><circle cx="41.7" cy="44.1" r="0.35"/><circle cx="36.4" cy="50.7" r="0.35"/><circle cx="42.6" cy="44.1" r="0.35"/><circle cx="42.7" cy="48.2" r="0.35"/><circle cx="34.8" cy="48.8" r="0.35"/><circle cx="37.9" cy="49.4" r="0.35"/><circle cx="38.6" cy="44.6" r="0.35"/><circle cx="36.7" cy="46.0" r="0.35"/><circle cx="42.2" cy="44.8" r="0.35"/><circle cx="36.1" cy="51.9" r="0.35"/><circle cx="43.9" cy="48.2" r="0.35"/><circle cx="38.9" cy="43.5" r="0.35"/><circle cx="36.5" cy="47.9" r="0.35"/><circle cx="42.8" cy="43.8" r="0.35"/><circle cx="40.0" cy="45.8" r="0.35"/><circle cx="39.5" cy="47.8" r="0.35"/><circle cx="44.4" cy="44.9" r="0.35"/><circle cx="41.8" cy="49.2" r="0.35"/><circle cx="39.4" cy="46.1" r="0.35"/><circle cx="37.2" cy="49.2" r="0.35"/><circle cx="38.9" cy="44.9" r="0.35"/><circle cx="40.1" cy="44.3" r="0.35"/><circle cx="37.8" cy="45.8" r="0.35"/><circle cx="43.2" cy="46.0" r="0.35"/><circle cx="41.1" cy="42.8" r="0.35"/><circle cx="35.9" cy="51.1" r="0.35"/><circle cx="39.2" cy="42.6" r="0.35"/><circle cx="39.8" cy="48.0" r="0.35"/><circle cx="36.3" cy="44.3" r="0.35"/><circle cx="40.6" cy="44.2" r="0.35"/><circle cx="41.7" cy="48.9" r="0.35"/><circle cx="40.9" cy="45.4" r="0.35"/><circle cx="39.9" cy="44.9" r="0.35"/><circle cx="39.7" cy="47.3" r="0.35"/><circle cx="39.4" cy="48.9" r="0.35"/><circle cx="45.5" cy="45.1" r="0.35"/><circle cx="40.7" cy="48.6" r="0.35"/><circle cx="41.4" cy="45.9" r="0.35"/><circle cx="39.0" cy="49.0" r="0.35"/><circle cx="41.3" cy="47.8" r="0.35"/><circle cx="38.3" cy="48.1" r="0.35"/><circle cx="41.7" cy="46.0" r="0.35"/><circle cx="41.4" cy="52.0" r="0.35"/><circle cx="36.0" cy="48.0" r="0.35"/><circle cx="37.5" cy="43.1" r="0.35"/><circle cx="39.5" cy="47.9" r="0.35"/><circle cx="40.1" cy="43.6" r="0.35"/><circle cx="36.9" cy="45.1" r="0.35"/><circle cx="40.0" cy="44.4" r="0.35"/><circle cx="36.8" cy="50.9" r="0.35"/><circle cx="38.2" cy="46.1" r="0.35"/><circle cx="38.8" cy="45.0" r="0.35"/><circle cx="40.1" cy="45.8" r="0.35"/><circle cx="41.3" cy="43.5" r="0.35"/><circle cx="36.8" cy="51.4" r="0.35"/><circle cx="39.8" cy="48.4" r="0.35"/><circle cx="42.5" cy="47.9" r="0.35"/><circle cx="40.1" cy="42.6" r="0.35"/><circle cx="36.6" cy="49.0" r="0.35"/><circle cx="41.4" cy="47.9" r="0.35"/><circle cx="36.5" cy="41.1" r="0.35"/><circle cx="37.7" cy="43.5" r="0.35"/><circle cx="40.3" cy="43.9" r="0.35"/><circle cx="43.4" cy="44.9" r="0.35"/><circle cx="38.8" cy="48.7" r="0.35"/><circle cx="40.7" cy="44.2" r="0.35"/><circle cx="41.8" cy="51.3" r="0.35"/><circle cx="37.4" cy="45.9" r="0.35"/><circle cx="37.7" cy="41.6" r="0.35"/><circle cx="41.3" cy="48.3" r="0.35"/><circle cx="42.1" cy="47.6" r="0.35"/><circle cx="35.7" cy="46.4" r="0.35"/><circle cx="38.6" cy="43.5" r="0.35"/><circle cx="37.6" cy="48.4" r="0.35"/><circle cx="39.4" cy="51.5" r="0.35"/><circle cx="41.0" cy="41.7" r="0.35"/><circle cx="41.9" cy="49.7" r="0.35"/><circle cx="40.1" cy="43.4" r="0.35"/><circle cx="43.8" cy="43.2" r="0.35"/><circle cx="39.8" cy="41.7" r="0.35"/><circle cx="37.3" cy="42.2" r="0.35"/><circle cx="42.3" cy="49.5" r="0.35"/><circle cx="39.1" cy="43.1" r="0.35"/><circle cx="39.9" cy="47.5" r="0.35"/><circle cx="36.7" cy="43.6" r="0.35"/><circle cx="39.8" cy="48.3" r="0.35"/><circle cx="40.2" cy="47.6" r="0.35"/><circle cx="37.3" cy="40.2" r="0.35"/><circle cx="40.7" cy="44.2" r="0.35"/><circle cx="39.7" cy="45.5" r="0.35"/><circle cx="41.0" cy="44.5" r="0.35"/><circle cx="43.1" cy="46.6" r="0.35"/><circle cx="41.1" cy="48.1" r="0.35"/><circle cx="42.2" cy="47.5" r="0.35"/><circle cx="36.2" cy="44.9" r="0.35"/><circle cx="44.0" cy="47.7" r="0.35"/><circle cx="41.2" cy="47.7" r="0.35"/><circle cx="38.6" cy="44.8" r="0.35"/><circle cx="38.6" cy="49.4" r="0.35"/><circle cx="40.8" cy="51.0" r="0.35"/><circle cx="41.1" cy="51.3" r="0.35"/><circle cx="41.0" cy="43.5" r="0.35"/><circle cx="43.7" cy="47.4" r="0.35"/><circle cx="42.6" cy="47.0" r="0.35"/><circle cx="39.3" cy="46.9" r="0.35"/><circle cx="37.6" cy="43.5" r="0.35"/><circle cx="38.1" cy="45.2" r="0.35"/><circle cx="37.1" cy="46.2" r="0.35"/><circle cx="40.7" cy="51.7" r="0.35"/><circle cx="44.0" cy="46.4" r="0.35"/><circle cx="41.9" cy="45.9" r="0.35"/><circle cx="40.8" cy="46.4" r="0.35"/><circle cx="38.8" cy="46.7" r="0.35"/><circle cx="36.8" cy="47.6" r="0.35"/><circle cx="39.4" cy="43.7" r="0.35"/><circle cx="39.2" cy="47.9" r="0.35"/><circle cx="38.5" cy="47.7" r="0.35"/><circle cx="41.2" cy="50.5" r="0.35"/><circle cx="37.6" cy="46.2" r="0.35"/><circle cx="41.1" cy="50.3" r="0.35"/><circle cx="40.6" cy="48.4" r="0.35"/><circle cx="36.8" cy="45.0" r="0.35"/><circle cx="43.6" cy="45.8" r="0.35"/><circle cx="44.7" cy="44.6" r="0.35"/><circle cx="39.4" cy="42.4" r="0.35"/><circle cx="41.4" cy="47.2" r="0.35"/><circle cx="44.4" cy="46.9" r="0.35"/><circle cx="39.5" cy="42.9" r="0.35"/><circle cx="39.8" cy="48.9" r="0.35"/><circle cx="41.6" cy="49.6" r="0.35"/><circle cx="41.9" cy="46.4" r="0.35"/><circle cx="41.3" cy="46.9" r="0.35"/><circle cx="37.1" cy="50.9" r="0.35"/><circle cx="40.8" cy="43.8" r="0.35"/><circle cx="40.8" cy="47.2" r="0.35"/><circle cx="42.2" cy="50.2" r="0.35"/><circle cx="33.4" cy="47.9" r="0.35"/><circle cx="43.3" cy="44.1" r="0.35"/><circle cx="36.0" cy="47.2" r="0.35"/><circle cx="40.7" cy="47.4" r="0.35"/><circle cx="37.6" cy="45.3" r="0.35"/><circle cx="40.4" cy="48.4" r="0.35"/><circle cx="44.8" cy="47.3" r="0.35"/><circle cx="38.7" cy="40.4" r="0.35"/><circle cx="42.3" cy="46.2" r="0.35"/><circle cx="39.8" cy="44.0" r="0.35"/><circle cx="41.6" cy="41.9" r="0.35"/><circle cx="40.2" cy="46.8" r="0.35"/><circle cx="40.7" cy="49.9" r="0.35"/><circle cx="39.8" cy="46.7" r="0.35"/><circle cx="41.9" cy="42.5" r="0.35"/><circle cx="39.4" cy="46.7" r="0.35"/><circle cx="42.1" cy="44.4" r="0.35"/><circle cx="41.8" cy="47.5" r="0.35"/><circle cx="36.8" cy="42.7" r="0.35"/><circle cx="36.9" cy="46.9" r="0.35"/><circle cx="40.5" cy="48.4" r="0.35"/><circle cx="41.8" cy="45.1" r="0.35"/><circle cx="42.3" cy="48.6" r="0.35"/><circle cx="41.0" cy="47.7" r="0.35"/><circle cx="37.2" cy="47.4" r="0.35"/><circle cx="37.7" cy="43.4" r="0.35"/><circle cx="39.2" cy="46.9" r="0.35"/><circle cx="39.9" cy="45.6" r="0.35"/><circle cx="37.8" cy="47.0" r="0.35"/><circle cx="38.4" cy="42.9" r="0.35"/><circle cx="40.2" cy="50.3" r="0.35"/><circle cx="39.1" cy="43.8" r="0.35"/><circle cx="43.0" cy="50.9" r="0.35"/><circle cx="39.4" cy="46.0" r="0.35"/><circle cx="40.5" cy="54.1" r="0.35"/><circle cx="40.3" cy="49.1" r="0.35"/><circle cx="41.0" cy="41.8" r="0.35"/><circle cx="37.6" cy="43.3" r="0.35"/><circle cx="40.9" cy="46.8" r="0.35"/><circle cx="43.9" cy="45.8" r="0.35"/><circle cx="40.7" cy="46.7" r="0.35"/><circle cx="40.3" cy="52.5" r="0.35"/><circle cx="40.6" cy="50.3" r="0.35"/><circle cx="42.8" cy="44.9" r="0.35"/><circle cx="41.5" cy="45.5" r="0.35"/><circle cx="40.2" cy="46.9" r="0.35"/><circle cx="40.0" cy="45.3" r="0.35"/><circle cx="43.4" cy="45.8" r="0.35"/><circle cx="41.5" cy="50.9" r="0.35"/><circle cx="41.4" cy="49.2" r="0.35"/><circle cx="43.0" cy="49.3" r="0.35"/><circle cx="43.8" cy="42.8" r="0.35"/><circle cx="44.3" cy="46.6" r="0.35"/><circle cx="36.2" cy="44.8" r="0.35"/><circle cx="36.9" cy="46.4" r="0.35"/><circle cx="36.7" cy="43.9" r="0.35"/><circle cx="40.6" cy="46.9" r="0.35"/><circle cx="38.2" cy="45.9" r="0.35"/><circle cx="39.8" cy="46.7" r="0.35"/><circle cx="40.0" cy="45.9" r="0.35"/><circle cx="41.9" cy="42.3" r="0.35"/><circle cx="38.9" cy="46.8" r="0.35"/><circle cx="39.1" cy="45.1" r="0.35"/><circle cx="39.0" cy="47.0" r="0.35"/><circle cx="42.7" cy="46.0" r="0.35"/><circle cx="39.4" cy="47.4" r="0.35"/><circle cx="39.5" cy="41.5" r="0.35"/><circle cx="40.6" cy="45.5" r="0.35"/><circle cx="38.7" cy="48.1" r="0.35"/></g>
<g fill="#000" fill-opacity="0.35"><circle cx="48.5" cy="49.8" r="0.3"/><circle cx="48.2" cy="54.7" r="0.3"/><circle cx="52.8" cy="58.5" r="0.3"/><circle cx="42.7" cy="42.1" r="0.3"/><circle cx="36.0" cy="54.5" r="0.3"/><circle cx="35.4" cy="64.3" r="0.3"/><circle cx="33.4" cy="36.3" r="0.3"/><circle cx="45.9" cy="36.5" r="0.3"/><circle cx="65.9" cy="45.1" r="0.3"/><circle cx="47.4" cy="53.3" r="0.3"/><circle cx="39.0" cy="36.6" r="0.3"/><circle cx="27.5" cy="65.5" r="0.3"/><circle cx="59.2" cy="79.8" r="0.3"/><circle cx="31.9" cy="62.2" r="0.3"/><circle cx="47.8" cy="65.3" r="0.3"/><circle cx="42.3" cy="63.9" r="0.3"/><circle cx="57.9" cy="62.7" r="0.3"/><circle cx="63.9" cy="54.1" r="0.3"/><circle cx="65.0" cy="48.3" r="0.3"/><circle cx="48.1" cy="47.2" r="0.3"/><circle cx="48.0" cy="67.3" r="0.3"/><circle cx="55.9" cy="57.0" r="0.3"/><circle cx="66.7" cy="39.8" r="0.3"/><circle cx="39.0" cy="72.6" r="0.3"/><circle cx="51.6" cy="33.2" r="0.3"/><circle cx="51.7" cy="43.0" r="0.3"/><circle cx="64.3" cy="68.6" r="0.3"/><circle cx="42.0" cy="70.2" r="0.3"/><circle cx="38.8" cy="66.1" r="0.3"/><circle cx="54.4" cy="54.6" r="0.3"/><circle cx="32.4" cy="52.9" r="0.3"/><circle cx="27.6" cy="69.4" r="0.3"/><circle cx="54.4" cy="60.1" r="0.3"/><circle cx="42.4" cy="79.3" r="0.3"/><circle cx="56.5" cy="56.7" r="0.3"/><circle cx="53.3" cy="66.6" r="0.3"/><circle cx="41.5" cy="40.5" r="0.3"/><circle cx="47.5" cy="37.6" r="0.3"/><circle cx="48.1" cy="64.5" r="0.3"/><circle cx="64.6" cy="58.9" r="0.3"/><circle cx="50.2" cy="64.2" r="0.3"/><circle cx="63.4" cy="52.5" r="0.3"/><circle cx="34.5" cy="47.3" r="0.3"/><circle cx="34.2" cy="46.2" r="0.3"/><circle cx="46.7" cy="59.8" r="0.3"/><circle cx="49.7" cy="56.8" r="0.3"/><circle cx="44.1" cy="60.7" r="0.3"/><circle cx="57.7" cy="64.4" r="0.3"/><circle cx="64.5" cy="52.8" r="0.3"/><circle cx="45.2" cy="74.6" r="0.3"/><circle cx="50.2" cy="60.5" r="0.3"/><circle cx="44.3" cy="66.7" r="0.3"/><circle cx="43.6" cy="44.9" r="0.3"/><circle cx="47.3" cy="51.1" r="0.3"/><circle cx="57.2" cy="51.8" r="0.3"/><circle cx="49.4" cy="53.6" r="0.3"/><circle cx="51.7" cy="49.1" r="0.3"/><circle cx="60.2" cy="40.3" r="0.3"/><circle cx="43.8" cy="48.2" r="0.3"/><circle cx="55.1" cy="56.4" r="0.3"/><circle cx="53.3" cy="52.4" r="0.3"/><circle cx="40.1" cy="43.7" r="0.3"/><circle cx="44.3" cy="50.1" r="0.3"/><circle cx="51.1" cy="59.9" r="0.3"/><circle cx="58.7" cy="54.8" r="0.3"/><circle cx="39.8" cy="44.3" r="0.3"/><circle cx="48.7" cy="60.0" r="0.3"/><circle cx="69.4" cy="58.0" r="0.3"/><circle cx="67.3" cy="76.6" r="0.3"/><circle cx="36.5" cy="69.3" r="0.3"/><circle cx="60.5" cy="70.8" r="0.3"/><circle cx="47.9" cy="66.5" r="0.3"/><circle cx="42.7" cy="55.2" r="0.3"/><circle cx="48.2" cy="75.6" r="0.3"/><circle cx="45.6" cy="66.5" r="0.3"/><circle cx="48.7" cy="48.2" r="0.3"/><circle cx="50.7" cy="63.3" r="0.3"/><circle cx="40.2" cy="63.0" r="0.3"/><circle cx="40.2" cy="46.4" r="0.3"/><circle cx="50.4" cy="53.4" r="0.3"/><circle cx="37.2" cy="38.1" r="0.3"/><circle cx="48.3" cy="58.7" r="0.3"/><circle cx="42.9" cy="58.1" r="0.3"/><circle cx="31.2" cy="60.3" r="0.3"/><circle cx="52.6" cy="59.1" r="0.3"/><circle cx="41.3" cy="56.9" r="0.3"/><circle cx="49.4" cy="67.8" r="0.3"/><circle cx="51.0" cy="58.8" r="0.3"/><circle cx="40.0" cy="65.5" r="0.3"/><circle cx="60.9" cy="50.6" r="0.3"/><circle cx="55.0" cy="59.4" r="0.3"/><circle cx="47.5" cy="41.9" r="0.3"/><circle cx="67.3" cy="35.5" r="0.3"/><circle cx="51.3" cy="51.9" r="0.3"/><circle cx="60.6" cy="51.4" r="0.3"/><circle cx="48.4" cy="62.7" r="0.3"/><circle cx="53.0" cy="50.3" r="0.3"/><circle cx="55.5" cy="60.3" r="0.3"/><circle cx="58.9" cy="50.4" r="0.3"/><circle cx="47.5" cy="51.7" r="0.3"/><circle cx="38.8" cy="58.8" r="0.3"/><circle cx="52.5" cy="71.6" r="0.3"/><circle cx="44.4" cy="60.3" r="0.3"/><circle cx="60.5" cy="54.7" r="0.3"/><circle cx="48.7" cy="57.5" r="0.3"/><circle cx="40.4" cy="45.2" r="0.3"/><circle cx="60.3" cy="57.9" r="0.3"/><circle cx="47.2" cy="42.4" r="0.3"/><circle cx="49.3" cy="68.9" r="0.3"/><circle cx="35.4" cy="46.2" r="0.3"/><circle cx="60.2" cy="71.7" r="0.3"/><circle cx="65.0" cy="49.9" r="0.3"/><circle cx="54.6" cy="47.8" r="0.3"/><circle cx="53.7" cy="52.0" r="0.3"/><circle cx="50.1" cy="70.7" r="0.3"/></g>
<ellipse cx="38.6" cy="48.2" rx="5.5" ry="4" transform="rotate(-45 38.6 48.2)" fill="#000" opacity="0.35"/>
<ellipse cx="38" cy="49.5" rx="3.7" ry="3.4" fill="#050505"/>
<path d="M47.5,81.5 L47.5,55.3 L74.5,55.3" fill="none" stroke="#777" stroke-width="0.9"/>
<path d="M64.3,55.3 L64.3,44.5 L73,44.5" fill="none" stroke="#222" stroke-width="0.9"/>
<path d="M72.39999999999999,42.4 L75.8,44.5 L72.39999999999999,46.6 Z" fill="#000"/>
<text x="60.2" y="79.2" font-size="6.2" fill="#222" font-weight="normal" text-anchor="start" stroke="#222" stroke-width="0.12" >8.0</text>
<path d="M18.6,72.6 L18.6,88.9 L32.1,88.9" fill="none" stroke="#111" stroke-width="1"/>
<path d="M16.5,74.6 L18.6,70.6 L20.700000000000003,74.6 Z" fill="#000"/>
<path d="M30.1,86.80000000000001 L34.1,88.9 L30.1,91.0 Z" fill="#000"/>
<text transform="translate(19.2,58.5) rotate(-90)" x="0" y="0" font-size="8.6" fill="#222" font-weight="bold" stroke="#222" stroke-width="0.3" text-anchor="middle" textLength="19" lengthAdjust="spacingAndGlyphs" dominant-baseline="central">mCD45</text>
<text x="38" y="91.9" font-size="8.2" fill="#222" font-weight="bold" text-anchor="start" textLength="17" lengthAdjust="spacingAndGlyphs" stroke="#222" stroke-width="0.3">hCD45</text>
<rect x="86.3" y="31" width="50.3" height="50.5" fill="#fff" stroke="#aaa" stroke-width="0.9" />
<line x1="86.3" y1="62.6" x2="136.6" y2="62.6" stroke="#c4c4c4" stroke-width="1.5" />
<path d="M86.3,42.3 L120.6,42.3 L120.6,62.6" fill="none" stroke="#777" stroke-width="0.9"/>
<ellipse cx="108.5" cy="68.5" rx="10" ry="3.3" fill="#c8c8c8"/>
<ellipse cx="109.3" cy="68.5" rx="8.2" ry="2.7" fill="#9a9a9a"/>
<ellipse cx="110" cy="68.4" rx="6.3" ry="2.2" fill="#5a5a5a"/>
<ellipse cx="109.3" cy="68.5" rx="2.8" ry="0.8" fill="#eee"/>
<path d="M99.3,68.9 L99.3,39 L141,39" fill="none" stroke="#444" stroke-width="0.9"/>
<path d="M140.9,37.4 L143.9,39.5 L140.9,41.6 Z" fill="#000"/>
<rect x="86.8" y="64.4" width="18.7" height="17" fill="none" stroke="#7fb2e0" stroke-width="0.9" />
<rect x="107.2" y="64.4" width="12.6" height="17" fill="none" stroke="#6aa84f" stroke-width="0.9" />
<text x="88.3" y="49.5" font-size="6.2" fill="#222" font-weight="normal" text-anchor="start" stroke="#222" stroke-width="0.12" >1.5</text>
<text x="88" y="79.3" font-size="6.2" fill="#222" font-weight="normal" text-anchor="start" stroke="#222" stroke-width="0.12" >21</text>
<text x="110.2" y="79.3" font-size="6.2" fill="#222" font-weight="normal" text-anchor="start" stroke="#222" stroke-width="0.12" >67</text>
<path d="M80.7,72.5 L80.7,88.7 L95.7,88.7" fill="none" stroke="#111" stroke-width="1"/>
<path d="M78.60000000000001,74.5 L80.7,70.5 L82.8,74.5 Z" fill="#000"/>
<path d="M93.7,86.60000000000001 L97.7,88.7 L93.7,90.8 Z" fill="#000"/>
<text transform="translate(81.0,61.4) rotate(-90)" x="0" y="0" font-size="8.6" fill="#222" font-weight="bold" stroke="#222" stroke-width="0.3" text-anchor="middle" textLength="13.6" lengthAdjust="spacingAndGlyphs" dominant-baseline="central">CD19</text>
<text x="102.3" y="91.6" font-size="8.2" fill="#222" font-weight="bold" text-anchor="start" textLength="15.6" lengthAdjust="spacingAndGlyphs" stroke="#222" stroke-width="0.3">CD11b</text>
<rect x="148.4" y="31.2" width="50" height="50.3" fill="#fff" stroke="#aaa" stroke-width="0.9" />
<path d="M148.4,57.3 L166.8,57.3 L166.8,31.2" fill="none" stroke="#777" stroke-width="0.9"/>
<line x1="148.4" y1="60.9" x2="198.4" y2="60.9" stroke="#ccc" stroke-width="0.9" />
<defs><radialGradient id="c3" cx="0.5" cy="0.55" r="0.6"><stop offset="0" stop-color="#6a6a6a"/><stop offset="0.5" stop-color="#8e8e8e"/><stop offset="1" stop-color="#c4c4c4"/></radialGradient></defs>
<path d="M158.5,63 Q158.5,59.3 161.3,59.3 L163,59.3 Q165.2,59.6 165.6,62.2 L176.5,62.2 Q181.8,62.6 181.8,67.8 Q181.8,74 176.3,74.3 L163.5,74.3 Q158.5,74.1 158.5,69.5 Z" fill="url(#c3)" stroke="#888" stroke-width="0.5"/>
<path d="M161,63 Q161,61 163,61 L164,61 L164.5,72 L161.5,72 Z" fill="#777" opacity="0.35"/>
<ellipse cx="163" cy="54.2" rx="1.9" ry="2.9" fill="none" stroke="#aaa" stroke-width="0.7"/>
<ellipse cx="169" cy="68.7" rx="2.6" ry="0.8" fill="#f2f2f2"/>
<line x1="164.4" y1="61" x2="164.4" y2="81.4" stroke="#888" stroke-width="0.9" />
<rect x="166" y="61.2" width="26.9" height="20.2" fill="none" stroke="#888" stroke-width="0.9" />
<text x="150.8" y="38.8" font-size="6.2" fill="#222" font-weight="normal" text-anchor="start" stroke="#222" stroke-width="0.12" >4.4</text>
<text x="150.8" y="79.3" font-size="6.2" fill="#222" font-weight="normal" text-anchor="start" stroke="#222" stroke-width="0.12" >21</text>
<text x="182" y="79.3" font-size="6.2" fill="#222" font-weight="normal" text-anchor="start" stroke="#222" stroke-width="0.12" >58</text>
<path d="M142.75,73.2 L142.75,89.4 L156.8,89.4" fill="none" stroke="#111" stroke-width="1"/>
<path d="M140.65,75.2 L142.75,71.2 L144.85,75.2 Z" fill="#000"/>
<path d="M154.8,87.30000000000001 L158.8,89.4 L154.8,91.5 Z" fill="#000"/>
<text transform="translate(142.7,61.2) rotate(-90)" x="0" y="0" font-size="8.6" fill="#222" font-weight="bold" stroke="#222" stroke-width="0.3" text-anchor="middle" textLength="12.7" lengthAdjust="spacingAndGlyphs" dominant-baseline="central">CD34</text>
<text x="161.9" y="92" font-size="8.2" fill="#222" font-weight="bold" text-anchor="start" textLength="13.2" lengthAdjust="spacingAndGlyphs" stroke="#222" stroke-width="0.3">CD33</text>
<text x="355.3" y="24.8" font-size="6.2" fill="#222" font-weight="normal" text-anchor="start" textLength="24" lengthAdjust="spacingAndGlyphs" stroke="#222" stroke-width="0.18" >Pre-BMT</text>
<line x1="296.7" y1="29.4" x2="437.7" y2="29.4" stroke="#333" stroke-width="1.1" />
<text x="258" y="37.8" font-size="6.2" fill="#222" font-weight="normal" text-anchor="start" textLength="68.5" lengthAdjust="spacingAndGlyphs" stroke="#222" stroke-width="0.18" >Normal Polyclonal Control</text>
<text x="411.7" y="37.8" font-size="6.65" fill="#222" stroke="#222" stroke-width="0.15">CD45<tspan dy="-2.9" font-size="4.2">+</tspan><tspan dy="2.9">CD19</tspan><tspan dy="-2.9" font-size="4.2">+</tspan><tspan dy="2.9">CD20</tspan><tspan dy="-2.9" font-size="4.2">dim</tspan></text>
<text x="353.6" y="129.4" font-size="6.2" fill="#222" font-weight="normal" text-anchor="start" textLength="27.6" lengthAdjust="spacingAndGlyphs" stroke="#222" stroke-width="0.18" >Post-BMT</text>
<line x1="296.9" y1="133.8" x2="437.5" y2="133.8" stroke="#333" stroke-width="1.1" />
<text x="262.8" y="142.6" font-size="6.65" fill="#222" stroke="#222" stroke-width="0.15">CD45<tspan dy="-2.9" font-size="4.2">+</tspan><tspan dy="2.9">CD19</tspan><tspan dy="-2.9" font-size="4.2">-</tspan><tspan dy="2.9">CD11b</tspan><tspan dy="-2.9" font-size="4.2">-</tspan></text>
<text x="412.6" y="142.6" font-size="6.65" fill="#222" stroke="#222" stroke-width="0.15">CD45<tspan dy="-2.9" font-size="4.2">+</tspan><tspan dy="2.9">CD19</tspan><tspan dy="-2.9" font-size="4.2">-</tspan><tspan dy="2.9">CD11b</tspan><tspan dy="-2.9" font-size="4.2">+</tspan></text>
<rect x="221.6" y="42.2" width="141.4" height="73.2" fill="none" stroke="#6078a8" stroke-width="1.1" />
<rect x="247.3" y="68.3" width="100.2" height="39.7" fill="none" stroke="#111" stroke-width="0.9" />
<line x1="247.3" y1="65.1" x2="247.3" y2="68.3" stroke="#444" stroke-width="0.9" />
<line x1="251.85" y1="65.1" x2="251.85" y2="68.3" stroke="#444" stroke-width="0.9" />
<line x1="256.41" y1="65.1" x2="256.41" y2="68.3" stroke="#444" stroke-width="0.9" />
<line x1="260.96" y1="65.1" x2="260.96" y2="68.3" stroke="#444" stroke-width="0.9" />
<line x1="265.52" y1="65.1" x2="265.52" y2="68.3" stroke="#444" stroke-width="0.9" />
<line x1="270.07" y1="65.1" x2="270.07" y2="68.3" stroke="#444" stroke-width="0.9" />
<line x1="274.63" y1="65.1" x2="274.63" y2="68.3" stroke="#444" stroke-width="0.9" />
<line x1="279.18" y1="65.1" x2="279.18" y2="68.3" stroke="#444" stroke-width="0.9" />
<line x1="283.74" y1="65.1" x2="283.74" y2="68.3" stroke="#444" stroke-width="0.9" />
<line x1="288.29" y1="65.1" x2="288.29" y2="68.3" stroke="#444" stroke-width="0.9" />
<line x1="292.85" y1="65.1" x2="292.85" y2="68.3" stroke="#444" stroke-width="0.9" />
<line x1="297.4" y1="65.1" x2="297.4" y2="68.3" stroke="#444" stroke-width="0.9" />
<line x1="301.95" y1="65.1" x2="301.95" y2="68.3" stroke="#444" stroke-width="0.9" />
<line x1="306.51" y1="65.1" x2="306.51" y2="68.3" stroke="#444" stroke-width="0.9" />
<line x1="311.06" y1="65.1" x2="311.06" y2="68.3" stroke="#444" stroke-width="0.9" />
<line x1="315.62" y1="65.1" x2="315.62" y2="68.3" stroke="#444" stroke-width="0.9" />
<line x1="320.17" y1="65.1" x2="320.17" y2="68.3" stroke="#444" stroke-width="0.9" />
<line x1="324.73" y1="65.1" x2="324.73" y2="68.3" stroke="#444" stroke-width="0.9" />
<line x1="329.28" y1="65.1" x2="329.28" y2="68.3" stroke="#444" stroke-width="0.9" />
<line x1="333.84" y1="65.1" x2="333.84" y2="68.3" stroke="#444" stroke-width="0.9" />
<line x1="338.39" y1="65.1" x2="338.39" y2="68.3" stroke="#444" stroke-width="0.9" />
<line x1="342.95" y1="65.1" x2="342.95" y2="68.3" stroke="#444" stroke-width="0.9" />
<line x1="347.5" y1="65.1" x2="347.5" y2="68.3" stroke="#444" stroke-width="0.9" />
<text transform="translate(247.40,62.0) rotate(-45)" font-size="6.1" fill="#222" stroke="#222" stroke-width="0.15">60</text>
<text transform="translate(256.51,62.0) rotate(-45)" font-size="6.1" fill="#222" stroke="#222" stroke-width="0.15">100</text>
<text transform="translate(265.62,62.0) rotate(-45)" font-size="6.1" fill="#222" stroke="#222" stroke-width="0.15">140</text>
<text transform="translate(274.73,62.0) rotate(-45)" font-size="6.1" fill="#222" stroke="#222" stroke-width="0.15">180</text>
<text transform="translate(283.84,62.0) rotate(-45)" font-size="6.1" fill="#222" stroke="#222" stroke-width="0.15">220</text>
<text transform="translate(292.95,62.0) rotate(-45)" font-size="6.1" fill="#222" stroke="#222" stroke-width="0.15">260</text>
<text transform="translate(302.05,62.0) rotate(-45)" font-size="6.1" fill="#222" stroke="#222" stroke-width="0.15">300</text>
<text transform="translate(311.16,62.0) rotate(-45)" font-size="6.1" fill="#222" stroke="#222" stroke-width="0.15">340</text>
<text transform="translate(320.27,62.0) rotate(-45)" font-size="6.1" fill="#222" stroke="#222" stroke-width="0.15">380</text>
<text transform="translate(329.38,62.0) rotate(-45)" font-size="6.1" fill="#222" stroke="#222" stroke-width="0.15">420</text>
<text transform="translate(338.49,62.0) rotate(-45)" font-size="6.1" fill="#222" stroke="#222" stroke-width="0.15">460</text>
<text transform="translate(347.60,62.0) rotate(-45)" font-size="6.1" fill="#222" stroke="#222" stroke-width="0.15">500</text>
<line x1="243.9" y1="108" x2="247.3" y2="108" stroke="#222" stroke-width="0.8" />
<text x="240.70000000000002" y="110.2" font-size="6.4" fill="#222" font-weight="normal" text-anchor="end" stroke="#222" stroke-width="0.18" >0</text>
<line x1="243.9" y1="95" x2="247.3" y2="95" stroke="#222" stroke-width="0.8" />
<text x="240.70000000000002" y="97.2" font-size="6.4" fill="#222" font-weight="normal" text-anchor="end" stroke="#222" stroke-width="0.18" >1000</text>
<line x1="243.9" y1="81.9" x2="247.3" y2="81.9" stroke="#222" stroke-width="0.8" />
<text x="240.70000000000002" y="84.10000000000001" font-size="6.4" fill="#222" font-weight="normal" text-anchor="end" stroke="#222" stroke-width="0.18" >2000</text>
<line x1="243.9" y1="68.6" x2="247.3" y2="68.6" stroke="#222" stroke-width="0.8" />
<text x="240.70000000000002" y="70.8" font-size="6.4" fill="#222" font-weight="normal" text-anchor="end" stroke="#222" stroke-width="0.18" >3000</text>
<line x1="245.10000000000002" y1="101.5" x2="247.3" y2="101.5" stroke="#222" stroke-width="0.7" />
<line x1="245.10000000000002" y1="88.4" x2="247.3" y2="88.4" stroke="#222" stroke-width="0.7" />
<line x1="245.10000000000002" y1="75.2" x2="247.3" y2="75.2" stroke="#222" stroke-width="0.7" />
<path d="M256,107.8 Q259,107.2 261,105.2 Q262.5,104.6 264,105.4 Q266,107.2 269,107.8 Z" fill="#8cc474" opacity="0.9"/>
<path d="M288.5,107.8 Q291,107 292.5,105.8 Q294,105.6 295,106.6 Q296,107.4 297.5,107.8 Z" fill="#7c86c4" opacity="0.85"/>
<path d="M303.5,107.8 Q306,106.8 307.5,104.6 Q309.3,102.4 311,104.4 Q313,106.8 315.5,107.8 Z" fill="#7c86c4" opacity="0.9"/>
<line x1="247.3" y1="107.6" x2="347.5" y2="107.6" stroke="#333" stroke-width="0.6" />
<rect x="371.6" y="42.2" width="141.4" height="73.2" fill="none" stroke="#6078a8" stroke-width="1.1" />
<rect x="397.3" y="68.3" width="100.2" height="39.400000000000006" fill="none" stroke="#111" stroke-width="0.9" />
<line x1="397.3" y1="65.1" x2="397.3" y2="68.3" stroke="#444" stroke-width="0.9" />
<line x1="401.85" y1="65.1" x2="401.85" y2="68.3" stroke="#444" stroke-width="0.9" />
<line x1="406.41" y1="65.1" x2="406.41" y2="68.3" stroke="#444" stroke-width="0.9" />
<line x1="410.96" y1="65.1" x2="410.96" y2="68.3" stroke="#444" stroke-width="0.9" />
<line x1="415.52" y1="65.1" x2="415.52" y2="68.3" stroke="#444" stroke-width="0.9" />
<line x1="420.07" y1="65.1" x2="420.07" y2="68.3" stroke="#444" stroke-width="0.9" />
<line x1="424.63" y1="65.1" x2="424.63" y2="68.3" stroke="#444" stroke-width="0.9" />
<line x1="429.18" y1="65.1" x2="429.18" y2="68.3" stroke="#444" stroke-width="0.9" />
<line x1="433.74" y1="65.1" x2="433.74" y2="68.3" stroke="#444" stroke-width="0.9" />
<line x1="438.29" y1="65.1" x2="438.29" y2="68.3" stroke="#444" stroke-width="0.9" />
<line x1="442.85" y1="65.1" x2="442.85" y2="68.3" stroke="#444" stroke-width="0.9" />
<line x1="447.4" y1="65.1" x2="447.4" y2="68.3" stroke="#444" stroke-width="0.9" />
<line x1="451.95" y1="65.1" x2="451.95" y2="68.3" stroke="#444" stroke-width="0.9" />
<line x1="456.51" y1="65.1" x2="456.51" y2="68.3" stroke="#444" stroke-width="0.9" />
<line x1="461.06" y1="65.1" x2="461.06" y2="68.3" stroke="#444" stroke-width="0.9" />
<line x1="465.62" y1="65.1" x2="465.62" y2="68.3" stroke="#444" stroke-width="0.9" />
<line x1="470.17" y1="65.1" x2="470.17" y2="68.3" stroke="#444" stroke-width="0.9" />
<line x1="474.73" y1="65.1" x2="474.73" y2="68.3" stroke="#444" stroke-width="0.9" />
<line x1="479.28" y1="65.1" x2="479.28" y2="68.3" stroke="#444" stroke-width="0.9" />
<line x1="483.84" y1="65.1" x2="483.84" y2="68.3" stroke="#444" stroke-width="0.9" />
<line x1="488.39" y1="65.1" x2="488.39" y2="68.3" stroke="#444" stroke-width="0.9" />
<line x1="492.95" y1="65.1" x2="492.95" y2="68.3" stroke="#444" stroke-width="0.9" />
<line x1="497.5" y1="65.1" x2="497.5" y2="68.3" stroke="#444" stroke-width="0.9" />
<text transform="translate(397.40,62.0) rotate(-45)" font-size="6.1" fill="#222" stroke="#222" stroke-width="0.15">60</text>
<text transform="translate(406.51,62.0) rotate(-45)" font-size="6.1" fill="#222" stroke="#222" stroke-width="0.15">100</text>
<text transform="translate(415.62,62.0) rotate(-45)" font-size="6.1" fill="#222" stroke="#222" stroke-width="0.15">140</text>
<text transform="translate(424.73,62.0) rotate(-45)" font-size="6.1" fill="#222" stroke="#222" stroke-width="0.15">180</text>
<text transform="translate(433.84,62.0) rotate(-45)" font-size="6.1" fill="#222" stroke="#222" stroke-width="0.15">220</text>
<text transform="translate(442.95,62.0) rotate(-45)" font-size="6.1" fill="#222" stroke="#222" stroke-width="0.15">260</text>
<text transform="translate(452.05,62.0) rotate(-45)" font-size="6.1" fill="#222" stroke="#222" stroke-width="0.15">300</text>
<text transform="translate(461.16,62.0) rotate(-45)" font-size="6.1" fill="#222" stroke="#222" stroke-width="0.15">340</text>
<text transform="translate(470.27,62.0) rotate(-45)" font-size="6.1" fill="#222" stroke="#222" stroke-width="0.15">380</text>
<text transform="translate(479.38,62.0) rotate(-45)" font-size="6.1" fill="#222" stroke="#222" stroke-width="0.15">420</text>
<text transform="translate(488.49,62.0) rotate(-45)" font-size="6.1" fill="#222" stroke="#222" stroke-width="0.15">460</text>
<text transform="translate(497.60,62.0) rotate(-45)" font-size="6.1" fill="#222" stroke="#222" stroke-width="0.15">500</text>
<line x1="393.90000000000003" y1="107.7" x2="397.3" y2="107.7" stroke="#222" stroke-width="0.8" />
<text x="390.7" y="109.9" font-size="6.4" fill="#222" font-weight="normal" text-anchor="end" stroke="#222" stroke-width="0.18" >0</text>
<line x1="393.90000000000003" y1="99" x2="397.3" y2="99" stroke="#222" stroke-width="0.8" />
<text x="390.7" y="101.2" font-size="6.4" fill="#222" font-weight="normal" text-anchor="end" stroke="#222" stroke-width="0.18" >2000</text>
<line x1="393.90000000000003" y1="90.4" x2="397.3" y2="90.4" stroke="#222" stroke-width="0.8" />
<text x="390.7" y="92.60000000000001" font-size="6.4" fill="#222" font-weight="normal" text-anchor="end" stroke="#222" stroke-width="0.18" >4000</text>
<line x1="393.90000000000003" y1="81.9" x2="397.3" y2="81.9" stroke="#222" stroke-width="0.8" />
<text x="390.7" y="84.10000000000001" font-size="6.4" fill="#222" font-weight="normal" text-anchor="end" stroke="#222" stroke-width="0.18" >6000</text>
<line x1="393.90000000000003" y1="73.2" x2="397.3" y2="73.2" stroke="#222" stroke-width="0.8" />
<text x="390.7" y="75.4" font-size="6.4" fill="#222" font-weight="normal" text-anchor="end" stroke="#222" stroke-width="0.18" >8000</text>
<line x1="395.1" y1="103.3" x2="397.3" y2="103.3" stroke="#222" stroke-width="0.7" />
<line x1="395.1" y1="94.7" x2="397.3" y2="94.7" stroke="#222" stroke-width="0.7" />
<line x1="395.1" y1="86.1" x2="397.3" y2="86.1" stroke="#222" stroke-width="0.7" />
<line x1="395.1" y1="77.5" x2="397.3" y2="77.5" stroke="#222" stroke-width="0.7" />
<line x1="395.1" y1="69" x2="397.3" y2="69" stroke="#222" stroke-width="0.7" />
<line x1="415.8" y1="73.5" x2="415.8" y2="107.7" stroke="#86c06c" stroke-width="0.6" />
<line x1="447.3" y1="73.5" x2="447.3" y2="107.7" stroke="#6a74bc" stroke-width="0.6" />
<line x1="461.2" y1="86.5" x2="461.2" y2="107.7" stroke="#6a74bc" stroke-width="0.6" />
<line x1="404.5" y1="104.5" x2="404.5" y2="107.7" stroke="#6a74bc" stroke-width="0.5" />
<text x="404" y="76.1" font-size="6.4" fill="#222" font-weight="normal" text-anchor="start" stroke="#222" stroke-width="0.18" >139 bp</text>
<text x="427" y="97.6" font-size="6.4" fill="#222" font-weight="normal" text-anchor="start" stroke="#222" stroke-width="0.18" >279 bp</text>
<text x="453.8" y="76.1" font-size="6.4" fill="#222" font-weight="normal" text-anchor="start" stroke="#222" stroke-width="0.18" >340 bp</text>
<rect x="221.6" y="147.2" width="141.4" height="73.2" fill="none" stroke="#6078a8" stroke-width="1.1" />
<rect x="247.3" y="173.6" width="100.2" height="39.0" fill="none" stroke="#111" stroke-width="0.9" />
<line x1="247.3" y1="170.4" x2="247.3" y2="173.6" stroke="#444" stroke-width="0.9" />
<line x1="251.85" y1="170.4" x2="251.85" y2="173.6" stroke="#444" stroke-width="0.9" />
<line x1="256.41" y1="170.4" x2="256.41" y2="173.6" stroke="#444" stroke-width="0.9" />
<line x1="260.96" y1="170.4" x2="260.96" y2="173.6" stroke="#444" stroke-width="0.9" />
<line x1="265.52" y1="170.4" x2="265.52" y2="173.6" stroke="#444" stroke-width="0.9" />
<line x1="270.07" y1="170.4" x2="270.07" y2="173.6" stroke="#444" stroke-width="0.9" />
<line x1="274.63" y1="170.4" x2="274.63" y2="173.6" stroke="#444" stroke-width="0.9" />
<line x1="279.18" y1="170.4" x2="279.18" y2="173.6" stroke="#444" stroke-width="0.9" />
<line x1="283.74" y1="170.4" x2="283.74" y2="173.6" stroke="#444" stroke-width="0.9" />
<line x1="288.29" y1="170.4" x2="288.29" y2="173.6" stroke="#444" stroke-width="0.9" />
<line x1="292.85" y1="170.4" x2="292.85" y2="173.6" stroke="#444" stroke-width="0.9" />
<line x1="297.4" y1="170.4" x2="297.4" y2="173.6" stroke="#444" stroke-width="0.9" />
<line x1="301.95" y1="170.4" x2="301.95" y2="173.6" stroke="#444" stroke-width="0.9" />
<line x1="306.51" y1="170.4" x2="306.51" y2="173.6" stroke="#444" stroke-width="0.9" />
<line x1="311.06" y1="170.4" x2="311.06" y2="173.6" stroke="#444" stroke-width="0.9" />
<line x1="315.62" y1="170.4" x2="315.62" y2="173.6" stroke="#444" stroke-width="0.9" />
<line x1="320.17" y1="170.4" x2="320.17" y2="173.6" stroke="#444" stroke-width="0.9" />
<line x1="324.73" y1="170.4" x2="324.73" y2="173.6" stroke="#444" stroke-width="0.9" />
<line x1="329.28" y1="170.4" x2="329.28" y2="173.6" stroke="#444" stroke-width="0.9" />
<line x1="333.84" y1="170.4" x2="333.84" y2="173.6" stroke="#444" stroke-width="0.9" />
<line x1="338.39" y1="170.4" x2="338.39" y2="173.6" stroke="#444" stroke-width="0.9" />
<line x1="342.95" y1="170.4" x2="342.95" y2="173.6" stroke="#444" stroke-width="0.9" />
<line x1="347.5" y1="170.4" x2="347.5" y2="173.6" stroke="#444" stroke-width="0.9" />
<text transform="translate(247.40,167.29999999999998) rotate(-45)" font-size="6.1" fill="#222" stroke="#222" stroke-width="0.15">60</text>
<text transform="translate(256.51,167.29999999999998) rotate(-45)" font-size="6.1" fill="#222" stroke="#222" stroke-width="0.15">100</text>
<text transform="translate(265.62,167.29999999999998) rotate(-45)" font-size="6.1" fill="#222" stroke="#222" stroke-width="0.15">140</text>
<text transform="translate(274.73,167.29999999999998) rotate(-45)" font-size="6.1" fill="#222" stroke="#222" stroke-width="0.15">180</text>
<text transform="translate(283.84,167.29999999999998) rotate(-45)" font-size="6.1" fill="#222" stroke="#222" stroke-width="0.15">220</text>
<text transform="translate(292.95,167.29999999999998) rotate(-45)" font-size="6.1" fill="#222" stroke="#222" stroke-width="0.15">260</text>
<text transform="translate(302.05,167.29999999999998) rotate(-45)" font-size="6.1" fill="#222" stroke="#222" stroke-width="0.15">300</text>
<text transform="translate(311.16,167.29999999999998) rotate(-45)" font-size="6.1" fill="#222" stroke="#222" stroke-width="0.15">340</text>
<text transform="translate(320.27,167.29999999999998) rotate(-45)" font-size="6.1" fill="#222" stroke="#222" stroke-width="0.15">380</text>
<text transform="translate(329.38,167.29999999999998) rotate(-45)" font-size="6.1" fill="#222" stroke="#222" stroke-width="0.15">420</text>
<text transform="translate(338.49,167.29999999999998) rotate(-45)" font-size="6.1" fill="#222" stroke="#222" stroke-width="0.15">460</text>
<text transform="translate(347.60,167.29999999999998) rotate(-45)" font-size="6.1" fill="#222" stroke="#222" stroke-width="0.15">500</text>
<line x1="243.9" y1="212.6" x2="247.3" y2="212.6" stroke="#222" stroke-width="0.8" />
<text x="240.70000000000002" y="214.79999999999998" font-size="6.4" fill="#222" font-weight="normal" text-anchor="end" stroke="#222" stroke-width="0.18" >0</text>
<line x1="243.9" y1="199.5" x2="247.3" y2="199.5" stroke="#222" stroke-width="0.8" />
<text x="240.70000000000002" y="201.7" font-size="6.4" fill="#222" font-weight="normal" text-anchor="end" stroke="#222" stroke-width="0.18" >1000</text>
<line x1="243.9" y1="186.6" x2="247.3" y2="186.6" stroke="#222" stroke-width="0.8" />
<text x="240.70000000000002" y="188.79999999999998" font-size="6.4" fill="#222" font-weight="normal" text-anchor="end" stroke="#222" stroke-width="0.18" >2000</text>
<line x1="243.9" y1="173.8" x2="247.3" y2="173.8" stroke="#222" stroke-width="0.8" />
<text x="240.70000000000002" y="176.0" font-size="6.4" fill="#222" font-weight="normal" text-anchor="end" stroke="#222" stroke-width="0.18" >3000</text>
<line x1="245.10000000000002" y1="206" x2="247.3" y2="206" stroke="#222" stroke-width="0.7" />
<line x1="245.10000000000002" y1="193" x2="247.3" y2="193" stroke="#222" stroke-width="0.7" />
<line x1="245.10000000000002" y1="180.2" x2="247.3" y2="180.2" stroke="#222" stroke-width="0.7" />
<line x1="265.5" y1="181" x2="265.5" y2="212.6" stroke="#86c06c" stroke-width="0.6" />
<line x1="259.5" y1="205.3" x2="259.5" y2="212.6" stroke="#6a74bc" stroke-width="0.6" />
<line x1="274" y1="208.5" x2="274" y2="212.6" stroke="#6a74bc" stroke-width="0.5" />
<line x1="297.7" y1="208.5" x2="297.7" y2="212.6" stroke="#6a74bc" stroke-width="0.5" />
<line x1="311.5" y1="210" x2="311.5" y2="212.6" stroke="#6a74bc" stroke-width="0.5" />
<rect x="371.6" y="147.2" width="141.4" height="73.2" fill="none" stroke="#6078a8" stroke-width="1.1" />
<rect x="397.3" y="173.4" width="100.2" height="39.19999999999999" fill="none" stroke="#111" stroke-width="0.9" />
<line x1="397.3" y1="170.20000000000002" x2="397.3" y2="173.4" stroke="#444" stroke-width="0.9" />
<line x1="401.85" y1="170.20000000000002" x2="401.85" y2="173.4" stroke="#444" stroke-width="0.9" />
<line x1="406.41" y1="170.20000000000002" x2="406.41" y2="173.4" stroke="#444" stroke-width="0.9" />
<line x1="410.96" y1="170.20000000000002" x2="410.96" y2="173.4" stroke="#444" stroke-width="0.9" />
<line x1="415.52" y1="170.20000000000002" x2="415.52" y2="173.4" stroke="#444" stroke-width="0.9" />
<line x1="420.07" y1="170.20000000000002" x2="420.07" y2="173.4" stroke="#444" stroke-width="0.9" />
<line x1="424.63" y1="170.20000000000002" x2="424.63" y2="173.4" stroke="#444" stroke-width="0.9" />
<line x1="429.18" y1="170.20000000000002" x2="429.18" y2="173.4" stroke="#444" stroke-width="0.9" />
<line x1="433.74" y1="170.20000000000002" x2="433.74" y2="173.4" stroke="#444" stroke-width="0.9" />
<line x1="438.29" y1="170.20000000000002" x2="438.29" y2="173.4" stroke="#444" stroke-width="0.9" />
<line x1="442.85" y1="170.20000000000002" x2="442.85" y2="173.4" stroke="#444" stroke-width="0.9" />
<line x1="447.4" y1="170.20000000000002" x2="447.4" y2="173.4" stroke="#444" stroke-width="0.9" />
<line x1="451.95" y1="170.20000000000002" x2="451.95" y2="173.4" stroke="#444" stroke-width="0.9" />
<line x1="456.51" y1="170.20000000000002" x2="456.51" y2="173.4" stroke="#444" stroke-width="0.9" />
<line x1="461.06" y1="170.20000000000002" x2="461.06" y2="173.4" stroke="#444" stroke-width="0.9" />
<line x1="465.62" y1="170.20000000000002" x2="465.62" y2="173.4" stroke="#444" stroke-width="0.9" />
<line x1="470.17" y1="170.20000000000002" x2="470.17" y2="173.4" stroke="#444" stroke-width="0.9" />
<line x1="474.73" y1="170.20000000000002" x2="474.73" y2="173.4" stroke="#444" stroke-width="0.9" />
<line x1="479.28" y1="170.20000000000002" x2="479.28" y2="173.4" stroke="#444" stroke-width="0.9" />
<line x1="483.84" y1="170.20000000000002" x2="483.84" y2="173.4" stroke="#444" stroke-width="0.9" />
<line x1="488.39" y1="170.20000000000002" x2="488.39" y2="173.4" stroke="#444" stroke-width="0.9" />
<line x1="492.95" y1="170.20000000000002" x2="492.95" y2="173.4" stroke="#444" stroke-width="0.9" />
<line x1="497.5" y1="170.20000000000002" x2="497.5" y2="173.4" stroke="#444" stroke-width="0.9" />
<text transform="translate(397.40,167.1) rotate(-45)" font-size="6.1" fill="#222" stroke="#222" stroke-width="0.15">60</text>
<text transform="translate(406.51,167.1) rotate(-45)" font-size="6.1" fill="#222" stroke="#222" stroke-width="0.15">100</text>
<text transform="translate(415.62,167.1) rotate(-45)" font-size="6.1" fill="#222" stroke="#222" stroke-width="0.15">140</text>
<text transform="translate(424.73,167.1) rotate(-45)" font-size="6.1" fill="#222" stroke="#222" stroke-width="0.15">180</text>
<text transform="translate(433.84,167.1) rotate(-45)" font-size="6.1" fill="#222" stroke="#222" stroke-width="0.15">220</text>
<text transform="translate(442.95,167.1) rotate(-45)" font-size="6.1" fill="#222" stroke="#222" stroke-width="0.15">260</text>
<text transform="translate(452.05,167.1) rotate(-45)" font-size="6.1" fill="#222" stroke="#222" stroke-width="0.15">300</text>
<text transform="translate(461.16,167.1) rotate(-45)" font-size="6.1" fill="#222" stroke="#222" stroke-width="0.15">340</text>
<text transform="translate(470.27,167.1) rotate(-45)" font-size="6.1" fill="#222" stroke="#222" stroke-width="0.15">380</text>
<text transform="translate(479.38,167.1) rotate(-45)" font-size="6.1" fill="#222" stroke="#222" stroke-width="0.15">420</text>
<text transform="translate(488.49,167.1) rotate(-45)" font-size="6.1" fill="#222" stroke="#222" stroke-width="0.15">460</text>
<text transform="translate(497.60,167.1) rotate(-45)" font-size="6.1" fill="#222" stroke="#222" stroke-width="0.15">500</text>
<line x1="393.90000000000003" y1="212.6" x2="397.3" y2="212.6" stroke="#222" stroke-width="0.8" />
<text x="390.7" y="214.79999999999998" font-size="6.4" fill="#222" font-weight="normal" text-anchor="end" stroke="#222" stroke-width="0.18" >0</text>
<line x1="393.90000000000003" y1="199.5" x2="397.3" y2="199.5" stroke="#222" stroke-width="0.8" />
<text x="390.7" y="201.7" font-size="6.4" fill="#222" font-weight="normal" text-anchor="end" stroke="#222" stroke-width="0.18" >1000</text>
<line x1="393.90000000000003" y1="186.6" x2="397.3" y2="186.6" stroke="#222" stroke-width="0.8" />
<text x="390.7" y="188.79999999999998" font-size="6.4" fill="#222" font-weight="normal" text-anchor="end" stroke="#222" stroke-width="0.18" >2000</text>
<line x1="393.90000000000003" y1="173.8" x2="397.3" y2="173.8" stroke="#222" stroke-width="0.8" />
<text x="390.7" y="176.0" font-size="6.4" fill="#222" font-weight="normal" text-anchor="end" stroke="#222" stroke-width="0.18" >3000</text>
<line x1="395.1" y1="206" x2="397.3" y2="206" stroke="#222" stroke-width="0.7" />
<line x1="395.1" y1="193" x2="397.3" y2="193" stroke="#222" stroke-width="0.7" />
<line x1="395.1" y1="180.2" x2="397.3" y2="180.2" stroke="#222" stroke-width="0.7" />
<line x1="415.5" y1="173.6" x2="415.5" y2="212.6" stroke="#86c06c" stroke-width="0.6" />
<line x1="447.5" y1="197.6" x2="447.5" y2="212.6" stroke="#6a74bc" stroke-width="0.6" />
<line x1="461.3" y1="194.5" x2="461.3" y2="212.6" stroke="#6a74bc" stroke-width="0.6" />
<line x1="409.5" y1="210.5" x2="409.5" y2="212.6" stroke="#6a74bc" stroke-width="0.5" />
<text transform="translate(20.7,172.5) rotate(-90)" font-size="7.2" fill="#111" stroke="#111" stroke-width="0.3" text-anchor="middle" textLength="46.3" lengthAdjust="spacingAndGlyphs">Percentage in PBL</text>
<line x1="43.2" y1="142.9" x2="43.2" y2="170.3" stroke="#222" stroke-width="1" />
<line x1="40.4" y1="145.4" x2="43.2" y2="145.4" stroke="#222" stroke-width="0.9" />
<text x="37.3" y="147.5" font-size="6.2" fill="#333" font-weight="normal" text-anchor="end" stroke="#333" stroke-width="0.18" >100</text>
<line x1="40.4" y1="158.1" x2="43.2" y2="158.1" stroke="#222" stroke-width="0.9" />
<text x="37.3" y="160.2" font-size="6.2" fill="#333" font-weight="normal" text-anchor="end" stroke="#333" stroke-width="0.18" >60</text>
<line x1="40.4" y1="170.3" x2="43.2" y2="170.3" stroke="#222" stroke-width="0.9" />
<text x="37.3" y="172.4" font-size="6.2" fill="#333" font-weight="normal" text-anchor="end" stroke="#333" stroke-width="0.18" >20</text>
<line x1="40.4" y1="170.3" x2="46" y2="170.3" stroke="#222" stroke-width="1" />
<line x1="43.2" y1="177.3" x2="43.2" y2="202.6" stroke="#222" stroke-width="1" />
<line x1="40.4" y1="177.3" x2="46" y2="177.3" stroke="#222" stroke-width="1" />
<line x1="40.4" y1="177.5" x2="43.2" y2="177.5" stroke="#222" stroke-width="0.9" />
<text x="37.3" y="179.6" font-size="6.2" fill="#333" font-weight="normal" text-anchor="end" stroke="#333" stroke-width="0.18" >20</text>
<line x1="40.4" y1="190.1" x2="43.2" y2="190.1" stroke="#222" stroke-width="0.9" />
<text x="37.3" y="192.2" font-size="6.2" fill="#333" font-weight="normal" text-anchor="end" stroke="#333" stroke-width="0.18" >10</text>
<line x1="40.4" y1="202.6" x2="43.2" y2="202.6" stroke="#222" stroke-width="0.9" />
<text x="37.3" y="204.7" font-size="6.2" fill="#333" font-weight="normal" text-anchor="end" stroke="#333" stroke-width="0.18" >0</text>
<line x1="40.4" y1="202.6" x2="196.6" y2="202.6" stroke="#333" stroke-width="1.4" />
<text x="82.8" y="136.2" font-size="6.3" fill="#4a62a0" font-weight="normal" text-anchor="start" stroke="#4a62a0" stroke-width="0.05" >gated on hCD45<tspan dy="-3.1" font-size="3.9">+</tspan></text>
<line x1="74.3" y1="138.9" x2="138" y2="138.9" stroke="#7d93c2" stroke-width="1.4" />
<text x="143" y="136.2" font-size="6.3" fill="#80c060" stroke="#80c060" stroke-width="0.05">gated on CD19<tspan dy="-3.1" font-size="3.9">-</tspan><tspan dy="3.1">CD11b</tspan><tspan dy="-3.1" font-size="3.9">-</tspan></text>
<line x1="153.9" y1="138.9" x2="196.8" y2="138.9" stroke="#a2d08a" stroke-width="1.4" />
<circle cx="52.3" cy="199" r="2.15" fill="#2b4d8f"/><circle cx="59.2" cy="199.9" r="2.15" fill="#2b4d8f"/><circle cx="51.6" cy="202.3" r="2.15" fill="#2b4d8f"/><circle cx="54.8" cy="202.5" r="2.15" fill="#2b4d8f"/><circle cx="57.8" cy="202.5" r="2.15" fill="#2b4d8f"/><circle cx="60.6" cy="202.3" r="2.15" fill="#2b4d8f"/><circle cx="55.6" cy="201.4" r="2.15" fill="#2b4d8f"/>
<circle cx="81.7" cy="180" r="2.15" fill="#6aab3f"/><circle cx="81.7" cy="193.3" r="2.15" fill="#6aab3f"/><circle cx="81.7" cy="196.4" r="2.15" fill="#6aab3f"/><circle cx="78" cy="198.8" r="2.15" fill="#6aab3f"/><circle cx="85.5" cy="198.8" r="2.15" fill="#6aab3f"/><circle cx="77.3" cy="202" r="2.15" fill="#6aab3f"/><circle cx="79.8" cy="202.6" r="2.15" fill="#6aab3f"/><circle cx="81.7" cy="202.6" r="2.15" fill="#6aab3f"/><circle cx="83.8" cy="202.6" r="2.15" fill="#6aab3f"/><circle cx="86.2" cy="202" r="2.15" fill="#6aab3f"/>
<line x1="100.8" y1="198.5" x2="113.6" y2="198.5" stroke="#222" stroke-width="0.9" />
<circle cx="103.2" cy="163.8" r="2.15" fill="#6aab3f"/><circle cx="111.3" cy="163.8" r="2.15" fill="#6aab3f"/><circle cx="103.2" cy="170" r="2.15" fill="#6aab3f"/><circle cx="111.3" cy="170" r="2.15" fill="#6aab3f"/><circle cx="107" cy="181" r="2.15" fill="#6aab3f"/><circle cx="103.2" cy="185.3" r="2.15" fill="#6aab3f"/><circle cx="111.3" cy="185.3" r="2.15" fill="#6aab3f"/><circle cx="107" cy="190.8" r="2.15" fill="#6aab3f"/><circle cx="107" cy="197" r="2.15" fill="#6aab3f"/><circle cx="103.3" cy="200.5" r="2.15" fill="#6aab3f"/><circle cx="110.7" cy="200.5" r="2.15" fill="#6aab3f"/><circle cx="104.5" cy="202.3" r="2.15" fill="#6aab3f"/><circle cx="109.5" cy="202.3" r="2.15" fill="#6aab3f"/><circle cx="107" cy="201" r="2.15" fill="#6aab3f"/>
<line x1="127" y1="151.5" x2="139.3" y2="151.5" stroke="#222" stroke-width="0.9" />
<circle cx="129.9" cy="145.1" r="2.15" fill="#6aab3f"/><circle cx="136" cy="144.7" r="2.15" fill="#6aab3f"/><circle cx="128.5" cy="147.5" r="2.15" fill="#6aab3f"/><circle cx="132" cy="147" r="2.15" fill="#6aab3f"/><circle cx="135.5" cy="147.5" r="2.15" fill="#6aab3f"/><circle cx="137.2" cy="148.5" r="2.15" fill="#6aab3f"/><circle cx="128" cy="150.5" r="2.15" fill="#6aab3f"/><circle cx="131" cy="150.5" r="2.15" fill="#6aab3f"/><circle cx="134.5" cy="150.5" r="2.15" fill="#6aab3f"/><circle cx="129.5" cy="153.5" r="2.15" fill="#6aab3f"/><circle cx="133" cy="153.5" r="2.15" fill="#6aab3f"/><circle cx="136.3" cy="154.2" r="2.15" fill="#6aab3f"/><circle cx="131" cy="156" r="2.15" fill="#6aab3f"/><circle cx="134.5" cy="156.2" r="2.15" fill="#6aab3f"/><circle cx="133" cy="157.5" r="2.15" fill="#6aab3f"/><circle cx="128.7" cy="158.6" r="2.15" fill="#6aab3f"/><circle cx="136.9" cy="158.6" r="2.15" fill="#6aab3f"/><circle cx="128.7" cy="164.6" r="2.15" fill="#6aab3f"/><circle cx="136.9" cy="164.6" r="2.15" fill="#6aab3f"/>
<circle cx="158" cy="180.5" r="2.15" fill="#b3143c"/><circle cx="154.3" cy="196.8" r="2.15" fill="#b3143c"/><circle cx="162.5" cy="196.8" r="2.15" fill="#b3143c"/><circle cx="153.5" cy="199.5" r="2.15" fill="#b3143c"/><circle cx="156" cy="199.8" r="2.15" fill="#b3143c"/><circle cx="158.5" cy="200.9" r="2.15" fill="#b3143c"/><circle cx="161" cy="200.9" r="2.15" fill="#b3143c"/><circle cx="163.5" cy="200.5" r="2.15" fill="#b3143c"/><circle cx="153.8" cy="202.3" r="2.15" fill="#b3143c"/><circle cx="157" cy="202.5" r="2.15" fill="#b3143c"/><circle cx="160.5" cy="202.5" r="2.15" fill="#b3143c"/><circle cx="163.8" cy="202.2" r="2.15" fill="#b3143c"/>
<line x1="177.4" y1="165.2" x2="185" y2="165.2" stroke="#222" stroke-width="0.9" />
<circle cx="184.2" cy="150.8" r="2.15" fill="#b3143c"/><circle cx="179.9" cy="155.4" r="2.15" fill="#b3143c"/><circle cx="188.3" cy="155.4" r="2.15" fill="#b3143c"/><circle cx="184.1" cy="158" r="2.15" fill="#b3143c"/><circle cx="179.9" cy="160.2" r="2.15" fill="#b3143c"/><circle cx="188.3" cy="160.2" r="2.15" fill="#b3143c"/><circle cx="183.6" cy="165.9" r="2.15" fill="#b3143c"/><circle cx="187.5" cy="165.7" r="2.15" fill="#b3143c"/><circle cx="185.4" cy="167.8" r="2.15" fill="#b3143c"/><circle cx="187.8" cy="178" r="2.15" fill="#b3143c"/><circle cx="179.9" cy="182.2" r="2.15" fill="#b3143c"/><circle cx="179.9" cy="196.9" r="2.15" fill="#b3143c"/><circle cx="188.3" cy="196.9" r="2.15" fill="#b3143c"/><circle cx="179.9" cy="201.9" r="2.15" fill="#b3143c"/>
<text x="56" y="210.8" font-size="6.3" fill="#3e5a9c" stroke="#3e5a9c" stroke-width="0.15" text-anchor="middle">hCD45<tspan dy="-2.7" font-size="5">+</tspan></text>
<text x="80.5" y="210.8" font-size="6.3" fill="#7bb658" stroke="#7bb658" stroke-width="0.15" text-anchor="middle">CD19<tspan dy="-2.7" font-size="5">+</tspan></text>
<text x="81" y="218.8" font-size="6.3" fill="#7bb658" stroke="#7bb658" stroke-width="0.15" text-anchor="middle">CD11b<tspan dy="-2.7" font-size="5">-</tspan></text>
<text x="107.7" y="210.8" font-size="6.3" fill="#7bb658" stroke="#7bb658" stroke-width="0.15" text-anchor="middle">CD19<tspan dy="-2.7" font-size="5">-</tspan></text>
<text x="107.7" y="218.8" font-size="6.3" fill="#7bb658" stroke="#7bb658" stroke-width="0.15" text-anchor="middle">CD11b<tspan dy="-2.7" font-size="5">+</tspan></text>
<text x="132.6" y="210.8" font-size="6.3" fill="#7bb658" stroke="#7bb658" stroke-width="0.15" text-anchor="middle">CD19<tspan dy="-2.7" font-size="5">-</tspan></text>
<text x="132.6" y="218.8" font-size="6.3" fill="#7bb658" stroke="#7bb658" stroke-width="0.15" text-anchor="middle">CD11b<tspan dy="-2.7" font-size="5">-</tspan></text>
<text x="158.4" y="210.8" font-size="6.3" fill="#c0284e" stroke="#c0284e" stroke-width="0.15" text-anchor="middle">CD34<tspan dy="-2.7" font-size="5">+</tspan></text>
<text x="158.4" y="218.8" font-size="6.3" fill="#c0284e" stroke="#c0284e" stroke-width="0.15" text-anchor="middle">CD33<tspan dy="-2.7" font-size="5">-</tspan></text>
<text x="183.7" y="210.8" font-size="6.3" fill="#c0284e" stroke="#c0284e" stroke-width="0.15" text-anchor="middle">CD34<tspan dy="-2.7" font-size="5">-</tspan></text>
<text x="183.7" y="218.8" font-size="6.3" fill="#c0284e" stroke="#c0284e" stroke-width="0.15" text-anchor="middle">CD33<tspan dy="-2.7" font-size="5">+</tspan></text>
<text x="82.8" y="245.3" font-size="8.45" fill="#000" font-weight="bold" text-anchor="start" textLength="70.6" lengthAdjust="spacingAndGlyphs" >Single cell cluster</text>
<rect x="14.9" y="250.8" width="30.0" height="6.2" fill="#c07cb0" stroke="none" stroke-width="1" />
<rect x="14.9" y="258.4" width="8.1" height="6.1" fill="#7088c4" stroke="none" stroke-width="1" />
<rect x="23.0" y="258.4" width="7.8" height="6.1" fill="#b05ca8" stroke="none" stroke-width="1" />
<rect x="30.8" y="258.4" width="5.4" height="6.1" fill="#a89440" stroke="none" stroke-width="1" />
<rect x="36.2" y="258.4" width="8.7" height="6.1" fill="#60a850" stroke="none" stroke-width="1" />
<rect x="46.9" y="250.8" width="14.899999999999999" height="6.2" fill="#72bde2" stroke="none" stroke-width="1" />
<rect x="46.9" y="258.4" width="2.83" height="6.1" fill="#7088c4" stroke="none" stroke-width="1" />
<rect x="49.73" y="258.4" width="2.38" height="6.1" fill="#b05ca8" stroke="none" stroke-width="1" />
<rect x="52.11" y="258.4" width="5.81" height="6.1" fill="#a89440" stroke="none" stroke-width="1" />
<rect x="57.93" y="258.4" width="3.87" height="6.1" fill="#60a850" stroke="none" stroke-width="1" />
<rect x="63.8" y="250.8" width="19.299999999999997" height="6.2" fill="#b6b640" stroke="none" stroke-width="1" />
<rect x="63.8" y="258.4" width="5.02" height="6.1" fill="#7088c4" stroke="none" stroke-width="1" />
<rect x="68.82" y="258.4" width="3.28" height="6.1" fill="#b05ca8" stroke="none" stroke-width="1" />
<rect x="72.1" y="258.4" width="7.14" height="6.1" fill="#a89440" stroke="none" stroke-width="1" />
<rect x="79.24" y="258.4" width="3.86" height="6.1" fill="#60a850" stroke="none" stroke-width="1" />
<rect x="85.1" y="250.8" width="22.10000000000001" height="6.2" fill="#daa840" stroke="none" stroke-width="1" />
<rect x="85.1" y="258.4" width="5.53" height="6.1" fill="#7088c4" stroke="none" stroke-width="1" />
<rect x="90.62" y="258.4" width="8.84" height="6.1" fill="#b05ca8" stroke="none" stroke-width="1" />
<rect x="99.47" y="258.4" width="3.31" height="6.1" fill="#a89440" stroke="none" stroke-width="1" />
<rect x="102.78" y="258.4" width="4.42" height="6.1" fill="#60a850" stroke="none" stroke-width="1" />
<rect x="109.2" y="250.8" width="13.399999999999991" height="6.2" fill="#72b8e0" stroke="none" stroke-width="1" />
<rect x="109.2" y="258.4" width="2.41" height="6.1" fill="#7088c4" stroke="none" stroke-width="1" />
<rect x="111.61" y="258.4" width="4.69" height="6.1" fill="#b05ca8" stroke="none" stroke-width="1" />
<rect x="116.3" y="258.4" width="2.95" height="6.1" fill="#a89440" stroke="none" stroke-width="1" />
<rect x="119.25" y="258.4" width="3.35" height="6.1" fill="#60a850" stroke="none" stroke-width="1" />
<rect x="124.6" y="250.8" width="15.700000000000017" height="6.2" fill="#a2a2cc" stroke="none" stroke-width="1" />
<rect x="124.6" y="258.4" width="2.51" height="6.1" fill="#7088c4" stroke="none" stroke-width="1" />
<rect x="127.11" y="258.4" width="5.34" height="6.1" fill="#b05ca8" stroke="none" stroke-width="1" />
<rect x="132.45" y="258.4" width="5.34" height="6.1" fill="#a89440" stroke="none" stroke-width="1" />
<rect x="137.79" y="258.4" width="2.51" height="6.1" fill="#60a850" stroke="none" stroke-width="1" />
<rect x="142.3" y="250.8" width="12.599999999999994" height="6.2" fill="#a2c444" stroke="none" stroke-width="1" />
<rect x="142.3" y="258.4" width="3.91" height="6.1" fill="#7088c4" stroke="none" stroke-width="1" />
<rect x="146.21" y="258.4" width="3.78" height="6.1" fill="#b05ca8" stroke="none" stroke-width="1" />
<rect x="149.99" y="258.4" width="3.15" height="6.1" fill="#a89440" stroke="none" stroke-width="1" />
<rect x="153.14" y="258.4" width="1.76" height="6.1" fill="#60a850" stroke="none" stroke-width="1" />
<rect x="156.9" y="250.8" width="6.5" height="6.2" fill="#6aae4c" stroke="none" stroke-width="1" />
<rect x="156.9" y="258.4" width="0.65" height="6.1" fill="#7088c4" stroke="none" stroke-width="1" />
<rect x="157.55" y="258.4" width="0.97" height="6.1" fill="#b05ca8" stroke="none" stroke-width="1" />
<rect x="158.53" y="258.4" width="2.28" height="6.1" fill="#a89440" stroke="none" stroke-width="1" />
<rect x="160.8" y="258.4" width="2.6" height="6.1" fill="#60a850" stroke="none" stroke-width="1" />
<rect x="165.4" y="250.8" width="11.799999999999983" height="6.2" fill="#e0965a" stroke="none" stroke-width="1" />
<rect x="165.4" y="258.4" width="3.07" height="6.1" fill="#7088c4" stroke="none" stroke-width="1" />
<rect x="168.47" y="258.4" width="3.78" height="6.1" fill="#b05ca8" stroke="none" stroke-width="1" />
<rect x="172.24" y="258.4" width="2.36" height="6.1" fill="#a89440" stroke="none" stroke-width="1" />
<rect x="174.6" y="258.4" width="2.6" height="6.1" fill="#60a850" stroke="none" stroke-width="1" />
<rect x="179.2" y="250.8" width="15.100000000000023" height="6.2" fill="#72b8c2" stroke="none" stroke-width="1" />
<rect x="179.2" y="258.4" width="5.44" height="6.1" fill="#7088c4" stroke="none" stroke-width="1" />
<rect x="184.64" y="258.4" width="3.78" height="6.1" fill="#b05ca8" stroke="none" stroke-width="1" />
<rect x="188.41" y="258.4" width="4.68" height="6.1" fill="#a89440" stroke="none" stroke-width="1" />
<rect x="193.09" y="258.4" width="1.21" height="6.1" fill="#60a850" stroke="none" stroke-width="1" />
<rect x="196.2" y="250.8" width="8.900000000000006" height="6.2" fill="#b880b2" stroke="none" stroke-width="1" />
<rect x="196.2" y="258.4" width="4.63" height="6.1" fill="#7088c4" stroke="none" stroke-width="1" />
<rect x="200.83" y="258.4" width="1.51" height="6.1" fill="#b05ca8" stroke="none" stroke-width="1" />
<rect x="202.34" y="258.4" width="0.8" height="6.1" fill="#a89440" stroke="none" stroke-width="1" />
<rect x="203.14" y="258.4" width="1.96" height="6.1" fill="#60a850" stroke="none" stroke-width="1" />
<rect x="207.2" y="250.8" width="10.5" height="6.2" fill="#d87aaa" stroke="none" stroke-width="1" />
<rect x="207.2" y="258.4" width="1.26" height="6.1" fill="#7088c4" stroke="none" stroke-width="1" />
<rect x="208.46" y="258.4" width="0.74" height="6.1" fill="#b05ca8" stroke="none" stroke-width="1" />
<rect x="209.19" y="258.4" width="3.15" height="6.1" fill="#a89440" stroke="none" stroke-width="1" />
<rect x="212.34" y="258.4" width="5.35" height="6.1" fill="#60a850" stroke="none" stroke-width="1" />
<rect x="14.9" y="266.20" width="30.00" height="36.45" fill="#121215"/><rect x="14.9" y="304.75" width="30.00" height="60.75" fill="#121215"/><rect x="14.9" y="367.60" width="30.00" height="72.90" fill="#121215"/><rect x="14.9" y="266.20" width="30.00" height="12.15" fill="#7a2442"/><rect x="14.90" y="266.20" width="2.00" height="12.15" fill="#5a2244"/><rect x="16.90" y="266.20" width="1.60" height="12.15" fill="#c8283a"/><rect x="18.50" y="266.20" width="1.30" height="12.15" fill="#22224c"/><rect x="19.80" y="266.20" width="1.30" height="12.15" fill="#c8283a"/><rect x="21.10" y="266.20" width="1.30" height="12.15" fill="#323274"/><rect x="22.40" y="266.20" width="1.00" height="12.15" fill="#9a2c46"/><rect x="23.40" y="266.20" width="2.00" height="12.15" fill="#5a2244"/><rect x="25.40" y="266.20" width="1.30" height="12.15" fill="#8a2a48"/><rect x="26.70" y="266.20" width="0.70" height="12.15" fill="#6e2442"/><rect x="27.40" y="266.20" width="0.70" height="12.15" fill="#d03036"/><rect x="28.10" y="266.20" width="1.00" height="12.15" fill="#c8283a"/><rect x="29.10" y="266.20" width="1.60" height="12.15" fill="#d03036"/><rect x="30.70" y="266.20" width="1.60" height="12.15" fill="#d03036"/><rect x="32.30" y="266.20" width="1.30" height="12.15" fill="#5a2244"/><rect x="33.60" y="266.20" width="2.00" height="12.15" fill="#b82a40"/><rect x="35.60" y="266.20" width="1.30" height="12.15" fill="#c8283a"/><rect x="36.90" y="266.20" width="1.60" height="12.15" fill="#b82a40"/><rect x="38.50" y="266.20" width="1.00" height="12.15" fill="#8a2a48"/><rect x="39.50" y="266.20" width="2.00" height="12.15" fill="#22224c"/><rect x="41.50" y="266.20" width="0.70" height="12.15" fill="#d03036"/><rect x="42.20" y="266.20" width="1.00" height="12.15" fill="#5a2244"/><rect x="43.20" y="266.20" width="1.00" height="12.15" fill="#5a2244"/><rect x="44.20" y="266.20" width="0.70" height="12.15" fill="#5a2244"/><rect x="18.70" y="278.35" width="0.70" height="12.15" fill="#682034"/><rect x="19.40" y="278.35" width="1.00" height="12.15" fill="#26265a"/><rect x="21.40" y="278.35" width="0.70" height="12.15" fill="#2c2c68"/><rect x="22.10" y="278.35" width="1.00" height="12.15" fill="#26265a"/><rect x="24.90" y="278.35" width="0.80" height="12.15" fill="#323274"/><rect x="25.70" y="278.35" width="0.70" height="12.15" fill="#323274"/><rect x="26.40" y="278.35" width="0.80" height="12.15" fill="#323274"/><rect x="29.30" y="278.35" width="0.70" height="12.15" fill="#2c2c68"/><rect x="30.70" y="278.35" width="0.70" height="12.15" fill="#323274"/><rect x="31.40" y="278.35" width="0.70" height="12.15" fill="#323274"/><rect x="32.90" y="278.35" width="0.70" height="12.15" fill="#2c2c68"/><rect x="33.60" y="278.35" width="1.00" height="12.15" fill="#22224c"/><rect x="35.30" y="278.35" width="0.80" height="12.15" fill="#323274"/><rect x="39.30" y="278.35" width="0.70" height="12.15" fill="#22224c"/><rect x="40.00" y="278.35" width="1.00" height="12.15" fill="#2c2c68"/><rect x="41.00" y="278.35" width="0.80" height="12.15" fill="#22224c"/><rect x="42.60" y="278.35" width="0.80" height="12.15" fill="#22224c"/><rect x="16.10" y="290.50" width="0.70" height="12.15" fill="#323274"/><rect x="21.50" y="290.50" width="0.80" height="12.15" fill="#323274"/><rect x="23.30" y="290.50" width="0.80" height="12.15" fill="#22224c"/><rect x="24.10" y="290.50" width="0.80" height="12.15" fill="#22224c"/><rect x="27.70" y="290.50" width="0.70" height="12.15" fill="#26265a"/><rect x="28.40" y="290.50" width="0.60" height="12.15" fill="#26265a"/><rect x="29.70" y="290.50" width="0.60" height="12.15" fill="#2c2c68"/><rect x="36.70" y="290.50" width="1.00" height="12.15" fill="#22224c"/><rect x="40.20" y="290.50" width="1.00" height="12.15" fill="#682034"/><rect x="41.90" y="290.50" width="0.60" height="12.15" fill="#323274"/><rect x="44.20" y="290.50" width="0.70" height="12.15" fill="#26265a"/><rect x="14.90" y="304.75" width="0.70" height="12.15" fill="#26265a"/><rect x="21.70" y="304.75" width="0.60" height="12.15" fill="#22224c"/><rect x="23.80" y="304.75" width="1.00" height="12.15" fill="#323274"/><rect x="29.80" y="304.75" width="0.80" height="12.15" fill="#323274"/><rect x="34.20" y="304.75" width="0.60" height="12.15" fill="#26265a"/><rect x="41.00" y="304.75" width="0.80" height="12.15" fill="#682034"/><rect x="41.80" y="304.75" width="0.80" height="12.15" fill="#2c2c68"/><rect x="23.70" y="316.90" width="0.80" height="12.15" fill="#26265a"/><rect x="24.50" y="316.90" width="1.00" height="12.15" fill="#2c2c68"/><rect x="25.50" y="316.90" width="0.60" height="12.15" fill="#2c2c68"/><rect x="15.60" y="329.05" width="0.70" height="12.15" fill="#22224c"/><rect x="16.90" y="329.05" width="1.00" height="12.15" fill="#2c2c68"/><rect x="19.20" y="329.05" width="0.80" height="12.15" fill="#22224c"/><rect x="22.10" y="329.05" width="0.60" height="12.15" fill="#22224c"/><rect x="23.50" y="329.05" width="0.70" height="12.15" fill="#682034"/><rect x="24.20" y="329.05" width="1.00" height="12.15" fill="#2c2c68"/><rect x="26.40" y="329.05" width="0.80" height="12.15" fill="#323274"/><rect x="29.70" y="329.05" width="0.70" height="12.15" fill="#26265a"/><rect x="38.80" y="329.05" width="0.70" height="12.15" fill="#26265a"/><rect x="17.70" y="341.20" width="1.00" height="12.15" fill="#7a2036"/><rect x="18.70" y="341.20" width="1.00" height="12.15" fill="#26265a"/><rect x="26.00" y="341.20" width="0.60" height="12.15" fill="#323274"/><rect x="32.20" y="341.20" width="0.60" height="12.15" fill="#323274"/><rect x="37.10" y="341.20" width="0.80" height="12.15" fill="#26265a"/><rect x="15.90" y="353.35" width="0.70" height="12.15" fill="#8a2438"/><rect x="22.10" y="353.35" width="1.00" height="12.15" fill="#26265a"/><rect x="23.10" y="353.35" width="1.00" height="12.15" fill="#26265a"/><rect x="25.30" y="353.35" width="0.70" height="12.15" fill="#323274"/><rect x="30.40" y="353.35" width="0.80" height="12.15" fill="#22224c"/><rect x="31.90" y="353.35" width="0.80" height="12.15" fill="#323274"/><rect x="44.60" y="353.35" width="0.30" height="12.15" fill="#323274"/><rect x="16.50" y="367.60" width="0.70" height="12.15" fill="#8a2438"/><rect x="30.00" y="367.60" width="1.00" height="12.15" fill="#323274"/><rect x="31.00" y="367.60" width="0.80" height="12.15" fill="#323274"/><rect x="36.40" y="367.60" width="0.60" height="12.15" fill="#8a2438"/><rect x="43.30" y="367.60" width="1.00" height="12.15" fill="#22224c"/><rect x="15.60" y="379.75" width="0.70" height="12.15" fill="#7a2036"/><rect x="31.20" y="379.75" width="0.60" height="12.15" fill="#7a2036"/><rect x="40.30" y="379.75" width="0.60" height="12.15" fill="#26265a"/><rect x="27.90" y="391.90" width="1.00" height="12.15" fill="#22224c"/><rect x="43.60" y="391.90" width="0.80" height="12.15" fill="#22224c"/><rect x="19.30" y="404.05" width="1.00" height="12.15" fill="#22224c"/><rect x="21.00" y="404.05" width="0.70" height="12.15" fill="#323274"/><rect x="24.10" y="404.05" width="0.70" height="12.15" fill="#7a2036"/><rect x="28.50" y="404.05" width="0.60" height="12.15" fill="#7a2036"/><rect x="30.70" y="404.05" width="0.80" height="12.15" fill="#7a2036"/><rect x="37.40" y="404.05" width="0.80" height="12.15" fill="#26265a"/><rect x="14.90" y="416.20" width="0.60" height="12.15" fill="#682034"/><rect x="23.30" y="416.20" width="0.70" height="12.15" fill="#26265a"/><rect x="28.20" y="416.20" width="0.70" height="12.15" fill="#7a2036"/><rect x="15.70" y="428.35" width="0.60" height="12.15" fill="#22224c"/><rect x="19.40" y="428.35" width="1.00" height="12.15" fill="#22224c"/><rect x="20.40" y="428.35" width="0.70" height="12.15" fill="#2c2c68"/><rect x="22.70" y="428.35" width="0.60" height="12.15" fill="#2c2c68"/><rect x="23.30" y="428.35" width="0.70" height="12.15" fill="#22224c"/><rect x="24.60" y="428.35" width="0.60" height="12.15" fill="#22224c"/><rect x="25.20" y="428.35" width="0.70" height="12.15" fill="#26265a"/><rect x="25.90" y="428.35" width="1.00" height="12.15" fill="#2c2c68"/><rect x="29.30" y="428.35" width="0.60" height="12.15" fill="#26265a"/><rect x="33.00" y="428.35" width="0.80" height="12.15" fill="#22224c"/><rect x="35.40" y="428.35" width="0.80" height="12.15" fill="#26265a"/><rect x="36.90" y="428.35" width="0.80" height="12.15" fill="#682034"/><rect x="37.70" y="428.35" width="0.80" height="12.15" fill="#22224c"/><rect x="44.30" y="428.35" width="0.60" height="12.15" fill="#323274"/><rect x="46.9" y="266.20" width="14.90" height="36.45" fill="#121215"/><rect x="46.9" y="304.75" width="14.90" height="60.75" fill="#121215"/><rect x="46.9" y="367.60" width="14.90" height="72.90" fill="#121215"/><rect x="46.9" y="266.20" width="14.90" height="12.15" fill="#7a2442"/><rect x="46.90" y="266.20" width="1.60" height="12.15" fill="#c8283a"/><rect x="48.50" y="266.20" width="1.60" height="12.15" fill="#c42c34"/><rect x="50.10" y="266.20" width="1.00" height="12.15" fill="#b82a40"/><rect x="51.10" y="266.20" width="0.70" height="12.15" fill="#c42c34"/><rect x="51.80" y="266.20" width="1.30" height="12.15" fill="#7a2644"/><rect x="53.10" y="266.20" width="1.30" height="12.15" fill="#5a2244"/><rect x="54.40" y="266.20" width="0.70" height="12.15" fill="#8a2a48"/><rect x="55.10" y="266.20" width="1.30" height="12.15" fill="#d03036"/><rect x="56.40" y="266.20" width="1.30" height="12.15" fill="#323274"/><rect x="57.70" y="266.20" width="0.70" height="12.15" fill="#2c2c68"/><rect x="58.40" y="266.20" width="1.30" height="12.15" fill="#9a2c46"/><rect x="59.70" y="266.20" width="1.60" height="12.15" fill="#2c2c68"/><rect x="61.30" y="266.20" width="0.50" height="12.15" fill="#5a2244"/><rect x="46.9" y="278.35" width="14.90" height="12.15" fill="#7a2442"/><rect x="46.90" y="278.35" width="1.60" height="12.15" fill="#9a2c46"/><rect x="48.50" y="278.35" width="1.60" height="12.15" fill="#c8283a"/><rect x="50.10" y="278.35" width="0.70" height="12.15" fill="#7a2644"/><rect x="50.80" y="278.35" width="1.00" height="12.15" fill="#141218"/><rect x="51.80" y="278.35" width="2.00" height="12.15" fill="#c8283a"/><rect x="53.80" y="278.35" width="1.30" height="12.15" fill="#22224c"/><rect x="55.10" y="278.35" width="1.00" height="12.15" fill="#22224c"/><rect x="56.10" y="278.35" width="1.00" height="12.15" fill="#6e2442"/><rect x="57.10" y="278.35" width="2.00" height="12.15" fill="#c42c34"/><rect x="59.10" y="278.35" width="1.60" height="12.15" fill="#9a2c46"/><rect x="60.70" y="278.35" width="1.00" height="12.15" fill="#8a2a48"/><rect x="61.70" y="278.35" width="0.10" height="12.15" fill="#9a2c46"/><rect x="46.90" y="290.50" width="0.60" height="12.15" fill="#26265a"/><rect x="49.00" y="290.50" width="0.60" height="12.15" fill="#323274"/><rect x="49.60" y="290.50" width="0.70" height="12.15" fill="#8a2438"/><rect x="53.80" y="290.50" width="1.00" height="12.15" fill="#26265a"/><rect x="57.10" y="290.50" width="0.80" height="12.15" fill="#22224c"/><rect x="57.90" y="290.50" width="0.60" height="12.15" fill="#2c2c68"/><rect x="58.50" y="290.50" width="0.80" height="12.15" fill="#323274"/><rect x="59.30" y="290.50" width="1.00" height="12.15" fill="#7a2036"/><rect x="50.10" y="304.75" width="0.70" height="12.15" fill="#2c2c68"/><rect x="53.10" y="304.75" width="0.80" height="12.15" fill="#8a2438"/><rect x="54.90" y="304.75" width="0.80" height="12.15" fill="#7a2036"/><rect x="59.10" y="304.75" width="0.70" height="12.15" fill="#22224c"/><rect x="59.80" y="304.75" width="0.60" height="12.15" fill="#8a2438"/><rect x="60.40" y="304.75" width="1.00" height="12.15" fill="#26265a"/><rect x="54.10" y="316.90" width="1.00" height="12.15" fill="#22224c"/><rect x="46.9" y="329.05" width="14.90" height="12.15" fill="#7a2442"/><rect x="46.90" y="329.05" width="1.00" height="12.15" fill="#5a2244"/><rect x="47.90" y="329.05" width="1.60" height="12.15" fill="#d03036"/><rect x="49.50" y="329.05" width="2.00" height="12.15" fill="#8a2a48"/><rect x="51.50" y="329.05" width="1.30" height="12.15" fill="#9a2c46"/><rect x="52.80" y="329.05" width="0.70" height="12.15" fill="#b82a40"/><rect x="53.50" y="329.05" width="1.60" height="12.15" fill="#d03036"/><rect x="55.10" y="329.05" width="2.00" height="12.15" fill="#c42c34"/><rect x="57.10" y="329.05" width="0.70" height="12.15" fill="#6e2442"/><rect x="57.80" y="329.05" width="1.30" height="12.15" fill="#9a2c46"/><rect x="59.10" y="329.05" width="1.00" height="12.15" fill="#6e2442"/><rect x="60.10" y="329.05" width="1.60" height="12.15" fill="#5a2244"/><rect x="61.70" y="329.05" width="0.10" height="12.15" fill="#323274"/><rect x="47.90" y="341.20" width="1.00" height="12.15" fill="#8a2438"/><rect x="50.60" y="341.20" width="1.00" height="12.15" fill="#26265a"/><rect x="56.40" y="341.20" width="1.00" height="12.15" fill="#323274"/><rect x="57.40" y="341.20" width="1.00" height="12.15" fill="#22224c"/><rect x="47.50" y="353.35" width="1.00" height="12.15" fill="#22224c"/><rect x="49.50" y="353.35" width="0.80" height="12.15" fill="#2c2c68"/><rect x="57.40" y="353.35" width="1.00" height="12.15" fill="#26265a"/><rect x="58.40" y="353.35" width="0.70" height="12.15" fill="#7a2036"/><rect x="59.10" y="353.35" width="1.00" height="12.15" fill="#26265a"/><rect x="46.90" y="367.60" width="0.70" height="12.15" fill="#323274"/><rect x="47.60" y="367.60" width="0.60" height="12.15" fill="#22224c"/><rect x="49.50" y="367.60" width="0.80" height="12.15" fill="#7a2036"/><rect x="52.70" y="367.60" width="0.80" height="12.15" fill="#26265a"/><rect x="58.00" y="367.60" width="0.80" height="12.15" fill="#2c2c68"/><rect x="60.30" y="367.60" width="0.60" height="12.15" fill="#22224c"/><rect x="47.50" y="379.75" width="1.00" height="12.15" fill="#8a2438"/><rect x="49.30" y="379.75" width="1.00" height="12.15" fill="#7a2036"/><rect x="54.80" y="391.90" width="0.80" height="12.15" fill="#323274"/><rect x="53.20" y="404.05" width="0.70" height="12.15" fill="#682034"/><rect x="55.70" y="404.05" width="0.60" height="12.15" fill="#8a2438"/><rect x="51.20" y="416.20" width="0.80" height="12.15" fill="#26265a"/><rect x="61.70" y="416.20" width="0.10" height="12.15" fill="#8a2438"/><rect x="46.90" y="428.35" width="0.60" height="12.15" fill="#323274"/><rect x="50.90" y="428.35" width="1.00" height="12.15" fill="#2c2c68"/><rect x="54.20" y="428.35" width="0.70" height="12.15" fill="#22224c"/><rect x="56.20" y="428.35" width="0.70" height="12.15" fill="#26265a"/><rect x="57.50" y="428.35" width="0.80" height="12.15" fill="#682034"/><rect x="60.90" y="428.35" width="0.90" height="12.15" fill="#682034"/><rect x="63.8" y="266.20" width="19.30" height="36.45" fill="#121215"/><rect x="63.8" y="304.75" width="19.30" height="60.75" fill="#121215"/><rect x="63.8" y="367.60" width="19.30" height="72.90" fill="#121215"/><rect x="63.80" y="266.20" width="0.70" height="12.15" fill="#8a2438"/><rect x="64.50" y="266.20" width="1.00" height="12.15" fill="#26265a"/><rect x="65.50" y="266.20" width="0.80" height="12.15" fill="#323274"/><rect x="66.30" y="266.20" width="0.80" height="12.15" fill="#26265a"/><rect x="70.00" y="266.20" width="0.70" height="12.15" fill="#22224c"/><rect x="70.70" y="266.20" width="1.00" height="12.15" fill="#2c2c68"/><rect x="73.60" y="266.20" width="0.80" height="12.15" fill="#22224c"/><rect x="74.40" y="266.20" width="0.70" height="12.15" fill="#2c2c68"/><rect x="75.80" y="266.20" width="0.70" height="12.15" fill="#26265a"/><rect x="76.50" y="266.20" width="0.70" height="12.15" fill="#22224c"/><rect x="78.70" y="266.20" width="1.00" height="12.15" fill="#323274"/><rect x="79.70" y="266.20" width="0.60" height="12.15" fill="#2c2c68"/><rect x="81.10" y="266.20" width="0.70" height="12.15" fill="#26265a"/><rect x="81.80" y="266.20" width="1.00" height="12.15" fill="#323274"/><rect x="63.8" y="278.35" width="19.30" height="12.15" fill="#7a2442"/><rect x="63.80" y="278.35" width="2.00" height="12.15" fill="#c42c34"/><rect x="65.80" y="278.35" width="1.00" height="12.15" fill="#b82a40"/><rect x="66.80" y="278.35" width="0.70" height="12.15" fill="#c42c34"/><rect x="67.50" y="278.35" width="1.60" height="12.15" fill="#b82a40"/><rect x="69.10" y="278.35" width="2.00" height="12.15" fill="#b82a40"/><rect x="71.10" y="278.35" width="1.30" height="12.15" fill="#c8283a"/><rect x="72.40" y="278.35" width="0.70" height="12.15" fill="#c42c34"/><rect x="73.10" y="278.35" width="1.60" height="12.15" fill="#d03036"/><rect x="74.70" y="278.35" width="2.00" height="12.15" fill="#d03036"/><rect x="76.70" y="278.35" width="2.00" height="12.15" fill="#9a2c46"/><rect x="78.70" y="278.35" width="1.00" height="12.15" fill="#b82a40"/><rect x="79.70" y="278.35" width="1.00" height="12.15" fill="#c42c34"/><rect x="80.70" y="278.35" width="0.70" height="12.15" fill="#b82a40"/><rect x="81.40" y="278.35" width="0.70" height="12.15" fill="#b82a40"/><rect x="82.10" y="278.35" width="0.70" height="12.15" fill="#c8283a"/><rect x="82.80" y="278.35" width="0.30" height="12.15" fill="#b82a40"/><rect x="63.80" y="290.50" width="0.70" height="12.15" fill="#682034"/><rect x="68.30" y="290.50" width="0.80" height="12.15" fill="#26265a"/><rect x="70.90" y="290.50" width="0.70" height="12.15" fill="#22224c"/><rect x="71.60" y="290.50" width="1.00" height="12.15" fill="#2c2c68"/><rect x="72.60" y="290.50" width="1.00" height="12.15" fill="#22224c"/><rect x="73.60" y="290.50" width="0.60" height="12.15" fill="#26265a"/><rect x="77.20" y="290.50" width="0.80" height="12.15" fill="#2c2c68"/><rect x="79.50" y="290.50" width="1.00" height="12.15" fill="#22224c"/><rect x="80.50" y="290.50" width="0.60" height="12.15" fill="#2c2c68"/><rect x="81.10" y="290.50" width="0.60" height="12.15" fill="#22224c"/><rect x="66.50" y="304.75" width="1.00" height="12.15" fill="#682034"/><rect x="67.50" y="304.75" width="0.80" height="12.15" fill="#22224c"/><rect x="77.40" y="304.75" width="0.60" height="12.15" fill="#8a2438"/><rect x="78.00" y="304.75" width="0.70" height="12.15" fill="#2c2c68"/><rect x="80.70" y="304.75" width="0.60" height="12.15" fill="#323274"/><rect x="82.30" y="304.75" width="0.60" height="12.15" fill="#323274"/><rect x="82.90" y="304.75" width="0.20" height="12.15" fill="#22224c"/><rect x="70.40" y="329.05" width="0.80" height="12.15" fill="#323274"/><rect x="75.80" y="329.05" width="1.00" height="12.15" fill="#22224c"/><rect x="80.90" y="329.05" width="0.60" height="12.15" fill="#26265a"/><rect x="82.10" y="329.05" width="0.70" height="12.15" fill="#26265a"/><rect x="82.10" y="341.20" width="0.60" height="12.15" fill="#2c2c68"/><rect x="68.00" y="353.35" width="0.80" height="12.15" fill="#323274"/><rect x="69.50" y="353.35" width="1.00" height="12.15" fill="#26265a"/><rect x="69.20" y="367.60" width="0.60" height="12.15" fill="#323274"/><rect x="73.00" y="367.60" width="0.60" height="12.15" fill="#323274"/><rect x="75.30" y="367.60" width="0.60" height="12.15" fill="#26265a"/><rect x="79.40" y="367.60" width="0.70" height="12.15" fill="#323274"/><rect x="80.70" y="367.60" width="0.70" height="12.15" fill="#26265a"/><rect x="72.00" y="379.75" width="0.80" height="12.15" fill="#8a2438"/><rect x="76.00" y="379.75" width="0.80" height="12.15" fill="#682034"/><rect x="66.00" y="391.90" width="0.60" height="12.15" fill="#26265a"/><rect x="76.10" y="391.90" width="0.60" height="12.15" fill="#323274"/><rect x="68.30" y="404.05" width="0.70" height="12.15" fill="#2c2c68"/><rect x="72.50" y="404.05" width="0.60" height="12.15" fill="#682034"/><rect x="68.20" y="416.20" width="0.70" height="12.15" fill="#8a2438"/><rect x="68.90" y="416.20" width="0.80" height="12.15" fill="#26265a"/><rect x="78.90" y="416.20" width="0.70" height="12.15" fill="#2c2c68"/><rect x="63.80" y="428.35" width="0.80" height="12.15" fill="#682034"/><rect x="64.60" y="428.35" width="1.00" height="12.15" fill="#7a2036"/><rect x="70.00" y="428.35" width="1.00" height="12.15" fill="#2c2c68"/><rect x="71.00" y="428.35" width="0.70" height="12.15" fill="#26265a"/><rect x="71.70" y="428.35" width="0.80" height="12.15" fill="#22224c"/><rect x="74.70" y="428.35" width="0.70" height="12.15" fill="#8a2438"/><rect x="81.30" y="428.35" width="1.00" height="12.15" fill="#26265a"/><rect x="82.30" y="428.35" width="0.80" height="12.15" fill="#2c2c68"/><rect x="85.1" y="266.20" width="22.10" height="36.45" fill="#121215"/><rect x="85.1" y="304.75" width="22.10" height="60.75" fill="#121215"/><rect x="85.1" y="367.60" width="22.10" height="72.90" fill="#121215"/><rect x="85.1" y="266.20" width="22.10" height="12.15" fill="#7a2442"/><rect x="85.10" y="266.20" width="1.60" height="12.15" fill="#5a2244"/><rect x="86.70" y="266.20" width="0.70" height="12.15" fill="#8a2a48"/><rect x="87.40" y="266.20" width="2.00" height="12.15" fill="#22224c"/><rect x="89.40" y="266.20" width="2.00" height="12.15" fill="#c42c34"/><rect x="91.40" y="266.20" width="2.00" height="12.15" fill="#c42c34"/><rect x="93.40" y="266.20" width="0.70" height="12.15" fill="#c42c34"/><rect x="94.10" y="266.20" width="1.30" height="12.15" fill="#c8283a"/><rect x="95.40" y="266.20" width="2.00" height="12.15" fill="#d03036"/><rect x="97.40" y="266.20" width="1.60" height="12.15" fill="#d03036"/><rect x="99.00" y="266.20" width="1.30" height="12.15" fill="#c42c34"/><rect x="100.30" y="266.20" width="1.30" height="12.15" fill="#5a2244"/><rect x="101.60" y="266.20" width="1.30" height="12.15" fill="#5a2244"/><rect x="102.90" y="266.20" width="1.30" height="12.15" fill="#d03036"/><rect x="104.20" y="266.20" width="1.00" height="12.15" fill="#d03036"/><rect x="105.20" y="266.20" width="0.70" height="12.15" fill="#b82a40"/><rect x="105.90" y="266.20" width="1.30" height="12.15" fill="#26265a"/><rect x="85.1" y="278.35" width="22.10" height="12.15" fill="#7a2442"/><rect x="85.10" y="278.35" width="1.60" height="12.15" fill="#7a2644"/><rect x="86.70" y="278.35" width="1.00" height="12.15" fill="#b82a40"/><rect x="87.70" y="278.35" width="1.30" height="12.15" fill="#5a2244"/><rect x="89.00" y="278.35" width="0.70" height="12.15" fill="#c8283a"/><rect x="89.70" y="278.35" width="1.00" height="12.15" fill="#6e2442"/><rect x="90.70" y="278.35" width="1.00" height="12.15" fill="#b82a40"/><rect x="91.70" y="278.35" width="0.70" height="12.15" fill="#c8283a"/><rect x="92.40" y="278.35" width="0.70" height="12.15" fill="#b82a40"/><rect x="93.10" y="278.35" width="1.00" height="12.15" fill="#6e2442"/><rect x="94.10" y="278.35" width="0.70" height="12.15" fill="#26265a"/><rect x="94.80" y="278.35" width="1.30" height="12.15" fill="#8a2a48"/><rect x="96.10" y="278.35" width="0.70" height="12.15" fill="#9a2c46"/><rect x="96.80" y="278.35" width="1.60" height="12.15" fill="#d03036"/><rect x="98.40" y="278.35" width="1.30" height="12.15" fill="#7a2644"/><rect x="99.70" y="278.35" width="0.70" height="12.15" fill="#b82a40"/><rect x="100.40" y="278.35" width="2.00" height="12.15" fill="#2c2c68"/><rect x="102.40" y="278.35" width="0.70" height="12.15" fill="#6e2442"/><rect x="103.10" y="278.35" width="1.00" height="12.15" fill="#2c2c68"/><rect x="104.10" y="278.35" width="0.70" height="12.15" fill="#c42c34"/><rect x="104.80" y="278.35" width="1.30" height="12.15" fill="#141218"/><rect x="106.10" y="278.35" width="1.10" height="12.15" fill="#c8283a"/><rect x="95.60" y="290.50" width="1.00" height="12.15" fill="#323274"/><rect x="99.80" y="290.50" width="0.80" height="12.15" fill="#323274"/><rect x="103.00" y="290.50" width="0.60" height="12.15" fill="#2c2c68"/><rect x="96.10" y="304.75" width="0.70" height="12.15" fill="#22224c"/><rect x="99.70" y="304.75" width="1.00" height="12.15" fill="#26265a"/><rect x="105.60" y="304.75" width="1.00" height="12.15" fill="#2c2c68"/><rect x="96.60" y="316.90" width="1.00" height="12.15" fill="#323274"/><rect x="89.30" y="329.05" width="0.70" height="12.15" fill="#2c2c68"/><rect x="104.90" y="329.05" width="0.80" height="12.15" fill="#323274"/><rect x="99.30" y="341.20" width="0.60" height="12.15" fill="#682034"/><rect x="104.00" y="341.20" width="0.80" height="12.15" fill="#323274"/><rect x="88.90" y="353.35" width="1.00" height="12.15" fill="#26265a"/><rect x="89.90" y="353.35" width="1.00" height="12.15" fill="#323274"/><rect x="90.90" y="353.35" width="0.70" height="12.15" fill="#22224c"/><rect x="88.20" y="367.60" width="1.00" height="12.15" fill="#26265a"/><rect x="98.30" y="367.60" width="0.80" height="12.15" fill="#22224c"/><rect x="100.90" y="379.75" width="0.70" height="12.15" fill="#22224c"/><rect x="101.00" y="391.90" width="0.80" height="12.15" fill="#2c2c68"/><rect x="86.50" y="404.05" width="1.00" height="12.15" fill="#8a2438"/><rect x="98.40" y="404.05" width="0.70" height="12.15" fill="#323274"/><rect x="105.10" y="416.20" width="1.00" height="12.15" fill="#2c2c68"/><rect x="85.80" y="428.35" width="0.80" height="12.15" fill="#22224c"/><rect x="87.80" y="428.35" width="0.80" height="12.15" fill="#22224c"/><rect x="89.60" y="428.35" width="0.80" height="12.15" fill="#323274"/><rect x="91.40" y="428.35" width="0.80" height="12.15" fill="#323274"/><rect x="93.80" y="428.35" width="0.80" height="12.15" fill="#2c2c68"/><rect x="94.60" y="428.35" width="0.80" height="12.15" fill="#8a2438"/><rect x="95.40" y="428.35" width="0.60" height="12.15" fill="#8a2438"/><rect x="104.20" y="428.35" width="0.80" height="12.15" fill="#323274"/><rect x="106.50" y="428.35" width="0.70" height="12.15" fill="#8a2438"/><rect x="109.2" y="266.20" width="13.40" height="36.45" fill="#121215"/><rect x="109.2" y="304.75" width="13.40" height="60.75" fill="#121215"/><rect x="109.2" y="367.60" width="13.40" height="72.90" fill="#121215"/><rect x="109.2" y="266.20" width="13.40" height="12.15" fill="#7a2442"/><rect x="109.20" y="266.20" width="1.30" height="12.15" fill="#323274"/><rect x="110.50" y="266.20" width="1.30" height="12.15" fill="#6e2442"/><rect x="111.80" y="266.20" width="1.60" height="12.15" fill="#8a2a48"/><rect x="113.40" y="266.20" width="1.00" height="12.15" fill="#2c2c68"/><rect x="114.40" y="266.20" width="0.70" height="12.15" fill="#b82a40"/><rect x="115.10" y="266.20" width="1.30" height="12.15" fill="#d03036"/><rect x="116.40" y="266.20" width="0.70" height="12.15" fill="#c8283a"/><rect x="117.10" y="266.20" width="1.30" height="12.15" fill="#7a2644"/><rect x="118.40" y="266.20" width="1.30" height="12.15" fill="#c42c34"/><rect x="119.70" y="266.20" width="1.30" height="12.15" fill="#d03036"/><rect x="121.00" y="266.20" width="1.60" height="12.15" fill="#d03036"/><rect x="109.20" y="278.35" width="1.00" height="12.15" fill="#2c2c68"/><rect x="110.20" y="278.35" width="0.60" height="12.15" fill="#26265a"/><rect x="110.80" y="278.35" width="1.00" height="12.15" fill="#26265a"/><rect x="112.80" y="278.35" width="0.60" height="12.15" fill="#22224c"/><rect x="114.00" y="278.35" width="0.60" height="12.15" fill="#22224c"/><rect x="115.30" y="278.35" width="1.00" height="12.15" fill="#22224c"/><rect x="117.30" y="278.35" width="0.60" height="12.15" fill="#323274"/><rect x="117.90" y="278.35" width="0.80" height="12.15" fill="#323274"/><rect x="109.2" y="290.50" width="13.40" height="12.15" fill="#7a2442"/><rect x="109.20" y="290.50" width="1.30" height="12.15" fill="#c8283a"/><rect x="110.50" y="290.50" width="1.60" height="12.15" fill="#d03036"/><rect x="112.10" y="290.50" width="1.30" height="12.15" fill="#b82a40"/><rect x="113.40" y="290.50" width="0.70" height="12.15" fill="#c42c34"/><rect x="114.10" y="290.50" width="1.00" height="12.15" fill="#d03036"/><rect x="115.10" y="290.50" width="1.60" height="12.15" fill="#b82a40"/><rect x="116.70" y="290.50" width="2.00" height="12.15" fill="#b82a40"/><rect x="118.70" y="290.50" width="1.60" height="12.15" fill="#b82a40"/><rect x="120.30" y="290.50" width="2.00" height="12.15" fill="#9a2c46"/><rect x="122.30" y="290.50" width="0.30" height="12.15" fill="#b82a40"/><rect x="119.30" y="304.75" width="1.00" height="12.15" fill="#26265a"/><rect x="122.20" y="304.75" width="0.40" height="12.15" fill="#8a2438"/><rect x="115.10" y="316.90" width="0.80" height="12.15" fill="#323274"/><rect x="113.10" y="329.05" width="0.80" height="12.15" fill="#682034"/><rect x="114.80" y="341.20" width="0.60" height="12.15" fill="#323274"/><rect x="109.20" y="353.35" width="0.80" height="12.15" fill="#323274"/><rect x="121.10" y="367.60" width="1.00" height="12.15" fill="#2c2c68"/><rect x="109.20" y="379.75" width="0.60" height="12.15" fill="#323274"/><rect x="118.90" y="428.35" width="0.70" height="12.15" fill="#22224c"/><rect x="121.00" y="428.35" width="0.80" height="12.15" fill="#26265a"/><rect x="124.6" y="266.20" width="15.70" height="36.45" fill="#121215"/><rect x="124.6" y="304.75" width="15.70" height="60.75" fill="#121215"/><rect x="124.6" y="367.60" width="15.70" height="72.90" fill="#121215"/><rect x="124.6" y="266.20" width="15.70" height="12.15" fill="#7a2442"/><rect x="124.60" y="266.20" width="2.00" height="12.15" fill="#8a2a48"/><rect x="126.60" y="266.20" width="1.30" height="12.15" fill="#c8283a"/><rect x="127.90" y="266.20" width="1.00" height="12.15" fill="#141218"/><rect x="128.90" y="266.20" width="0.70" height="12.15" fill="#9a2c46"/><rect x="129.60" y="266.20" width="1.60" height="12.15" fill="#7a2644"/><rect x="131.20" y="266.20" width="1.30" height="12.15" fill="#141218"/><rect x="132.50" y="266.20" width="0.70" height="12.15" fill="#c42c34"/><rect x="133.20" y="266.20" width="1.00" height="12.15" fill="#2c2c68"/><rect x="134.20" y="266.20" width="0.70" height="12.15" fill="#b82a40"/><rect x="134.90" y="266.20" width="1.30" height="12.15" fill="#c42c34"/><rect x="136.20" y="266.20" width="1.00" height="12.15" fill="#5a2244"/><rect x="137.20" y="266.20" width="1.60" height="12.15" fill="#d03036"/><rect x="138.80" y="266.20" width="1.50" height="12.15" fill="#9a2c46"/><rect x="124.6" y="278.35" width="15.70" height="12.15" fill="#7a2442"/><rect x="124.60" y="278.35" width="0.70" height="12.15" fill="#c8283a"/><rect x="125.30" y="278.35" width="1.00" height="12.15" fill="#9a2c46"/><rect x="126.30" y="278.35" width="1.30" height="12.15" fill="#2c2c68"/><rect x="127.60" y="278.35" width="2.00" height="12.15" fill="#5a2244"/><rect x="129.60" y="278.35" width="0.70" height="12.15" fill="#6e2442"/><rect x="130.30" y="278.35" width="1.00" height="12.15" fill="#c8283a"/><rect x="131.30" y="278.35" width="0.70" height="12.15" fill="#8a2a48"/><rect x="132.00" y="278.35" width="1.00" height="12.15" fill="#9a2c46"/><rect x="133.00" y="278.35" width="1.60" height="12.15" fill="#5a2244"/><rect x="134.60" y="278.35" width="0.70" height="12.15" fill="#c8283a"/><rect x="135.30" y="278.35" width="1.30" height="12.15" fill="#c8283a"/><rect x="136.60" y="278.35" width="2.00" height="12.15" fill="#323274"/><rect x="138.60" y="278.35" width="1.00" height="12.15" fill="#141218"/><rect x="139.60" y="278.35" width="0.70" height="12.15" fill="#141218"/><rect x="124.6" y="290.50" width="15.70" height="12.15" fill="#7a2442"/><rect x="124.60" y="290.50" width="1.00" height="12.15" fill="#5a2244"/><rect x="125.60" y="290.50" width="2.00" height="12.15" fill="#6e2442"/><rect x="127.60" y="290.50" width="0.70" height="12.15" fill="#d03036"/><rect x="128.30" y="290.50" width="1.60" height="12.15" fill="#323274"/><rect x="129.90" y="290.50" width="1.60" height="12.15" fill="#323274"/><rect x="131.50" y="290.50" width="2.00" height="12.15" fill="#c8283a"/><rect x="133.50" y="290.50" width="2.00" height="12.15" fill="#b82a40"/><rect x="135.50" y="290.50" width="2.00" height="12.15" fill="#8a2a48"/><rect x="137.50" y="290.50" width="0.70" height="12.15" fill="#b82a40"/><rect x="138.20" y="290.50" width="0.70" height="12.15" fill="#7a2644"/><rect x="138.90" y="290.50" width="1.00" height="12.15" fill="#d03036"/><rect x="139.90" y="290.50" width="0.40" height="12.15" fill="#c8283a"/><rect x="125.60" y="304.75" width="0.80" height="12.15" fill="#323274"/><rect x="129.10" y="304.75" width="0.70" height="12.15" fill="#26265a"/><rect x="130.80" y="304.75" width="1.00" height="12.15" fill="#323274"/><rect x="132.50" y="304.75" width="0.80" height="12.15" fill="#22224c"/><rect x="134.00" y="304.75" width="1.00" height="12.15" fill="#26265a"/><rect x="127.50" y="316.90" width="0.70" height="12.15" fill="#323274"/><rect x="128.10" y="329.05" width="0.80" height="12.15" fill="#323274"/><rect x="136.50" y="329.05" width="1.00" height="12.15" fill="#323274"/><rect x="138.20" y="329.05" width="0.70" height="12.15" fill="#2c2c68"/><rect x="125.60" y="341.20" width="0.80" height="12.15" fill="#2c2c68"/><rect x="129.00" y="341.20" width="1.00" height="12.15" fill="#2c2c68"/><rect x="136.30" y="341.20" width="1.00" height="12.15" fill="#682034"/><rect x="124.60" y="353.35" width="1.00" height="12.15" fill="#26265a"/><rect x="134.60" y="353.35" width="0.60" height="12.15" fill="#26265a"/><rect x="134.30" y="367.60" width="1.00" height="12.15" fill="#682034"/><rect x="138.60" y="367.60" width="0.70" height="12.15" fill="#22224c"/><rect x="129.70" y="404.05" width="1.00" height="12.15" fill="#2c2c68"/><rect x="134.80" y="404.05" width="0.70" height="12.15" fill="#7a2036"/><rect x="130.50" y="416.20" width="0.80" height="12.15" fill="#323274"/><rect x="137.50" y="416.20" width="1.00" height="12.15" fill="#8a2438"/><rect x="124.6" y="428.35" width="15.70" height="12.15" fill="#7a2442"/><rect x="124.60" y="428.35" width="1.30" height="12.15" fill="#c8283a"/><rect x="125.90" y="428.35" width="2.00" height="12.15" fill="#6e2442"/><rect x="127.90" y="428.35" width="2.00" height="12.15" fill="#7a2644"/><rect x="129.90" y="428.35" width="1.00" height="12.15" fill="#6e2442"/><rect x="130.90" y="428.35" width="1.60" height="12.15" fill="#22224c"/><rect x="132.50" y="428.35" width="0.70" height="12.15" fill="#22224c"/><rect x="133.20" y="428.35" width="1.60" height="12.15" fill="#323274"/><rect x="134.80" y="428.35" width="0.70" height="12.15" fill="#141218"/><rect x="135.50" y="428.35" width="1.30" height="12.15" fill="#22224c"/><rect x="136.80" y="428.35" width="0.70" height="12.15" fill="#2c2c68"/><rect x="137.50" y="428.35" width="2.00" height="12.15" fill="#5a2244"/><rect x="139.50" y="428.35" width="0.80" height="12.15" fill="#7a2644"/><rect x="142.3" y="266.20" width="12.60" height="36.45" fill="#121215"/><rect x="142.3" y="304.75" width="12.60" height="60.75" fill="#121215"/><rect x="142.3" y="367.60" width="12.60" height="72.90" fill="#121215"/><rect x="142.3" y="266.20" width="12.60" height="12.15" fill="#7a2442"/><rect x="142.30" y="266.20" width="1.60" height="12.15" fill="#8a2a48"/><rect x="143.90" y="266.20" width="1.30" height="12.15" fill="#c42c34"/><rect x="145.20" y="266.20" width="2.00" height="12.15" fill="#6e2442"/><rect x="147.20" y="266.20" width="1.30" height="12.15" fill="#c8283a"/><rect x="148.50" y="266.20" width="2.00" height="12.15" fill="#6e2442"/><rect x="150.50" y="266.20" width="1.00" height="12.15" fill="#6e2442"/><rect x="151.50" y="266.20" width="0.70" height="12.15" fill="#22224c"/><rect x="152.20" y="266.20" width="1.60" height="12.15" fill="#c42c34"/><rect x="153.80" y="266.20" width="0.70" height="12.15" fill="#9a2c46"/><rect x="154.50" y="266.20" width="0.40" height="12.15" fill="#22224c"/><rect x="142.3" y="278.35" width="12.60" height="12.15" fill="#7a2442"/><rect x="142.30" y="278.35" width="1.30" height="12.15" fill="#5a2244"/><rect x="143.60" y="278.35" width="1.60" height="12.15" fill="#6e2442"/><rect x="145.20" y="278.35" width="1.60" height="12.15" fill="#22224c"/><rect x="146.80" y="278.35" width="1.00" height="12.15" fill="#8a2a48"/><rect x="147.80" y="278.35" width="1.30" height="12.15" fill="#d03036"/><rect x="149.10" y="278.35" width="1.30" height="12.15" fill="#c42c34"/><rect x="150.40" y="278.35" width="2.00" height="12.15" fill="#8a2a48"/><rect x="152.40" y="278.35" width="1.00" height="12.15" fill="#22224c"/><rect x="153.40" y="278.35" width="1.50" height="12.15" fill="#7a2644"/><rect x="143.70" y="290.50" width="0.60" height="12.15" fill="#323274"/><rect x="144.30" y="290.50" width="0.70" height="12.15" fill="#26265a"/><rect x="145.60" y="290.50" width="0.70" height="12.15" fill="#22224c"/><rect x="147.00" y="290.50" width="0.60" height="12.15" fill="#323274"/><rect x="147.60" y="290.50" width="0.60" height="12.15" fill="#26265a"/><rect x="148.90" y="290.50" width="0.80" height="12.15" fill="#323274"/><rect x="151.60" y="290.50" width="0.60" height="12.15" fill="#7a2036"/><rect x="152.20" y="290.50" width="1.00" height="12.15" fill="#8a2438"/><rect x="153.20" y="290.50" width="1.00" height="12.15" fill="#2c2c68"/><rect x="154.20" y="290.50" width="0.70" height="12.15" fill="#22224c"/><rect x="143.00" y="304.75" width="0.70" height="12.15" fill="#682034"/><rect x="145.00" y="304.75" width="0.80" height="12.15" fill="#22224c"/><rect x="146.50" y="304.75" width="0.60" height="12.15" fill="#2c2c68"/><rect x="147.90" y="304.75" width="0.60" height="12.15" fill="#26265a"/><rect x="153.20" y="316.90" width="0.60" height="12.15" fill="#26265a"/><rect x="151.90" y="329.05" width="0.60" height="12.15" fill="#682034"/><rect x="153.10" y="329.05" width="0.60" height="12.15" fill="#7a2036"/><rect x="153.70" y="329.05" width="0.70" height="12.15" fill="#323274"/><rect x="142.30" y="341.20" width="1.00" height="12.15" fill="#7a2036"/><rect x="147.60" y="341.20" width="1.00" height="12.15" fill="#22224c"/><rect x="148.60" y="341.20" width="0.70" height="12.15" fill="#22224c"/><rect x="142.3" y="353.35" width="12.60" height="12.15" fill="#7a2442"/><rect x="142.30" y="353.35" width="1.00" height="12.15" fill="#9a2c46"/><rect x="143.30" y="353.35" width="1.00" height="12.15" fill="#b82a40"/><rect x="144.30" y="353.35" width="1.00" height="12.15" fill="#7a2644"/><rect x="145.30" y="353.35" width="1.60" height="12.15" fill="#c42c34"/><rect x="146.90" y="353.35" width="1.00" height="12.15" fill="#b82a40"/><rect x="147.90" y="353.35" width="0.70" height="12.15" fill="#c42c34"/><rect x="148.60" y="353.35" width="1.60" height="12.15" fill="#c42c34"/><rect x="150.20" y="353.35" width="1.30" height="12.15" fill="#c42c34"/><rect x="151.50" y="353.35" width="1.60" height="12.15" fill="#c42c34"/><rect x="153.10" y="353.35" width="1.60" height="12.15" fill="#c8283a"/><rect x="154.70" y="353.35" width="0.20" height="12.15" fill="#b82a40"/><rect x="149.40" y="367.60" width="0.60" height="12.15" fill="#323274"/><rect x="150.60" y="367.60" width="0.60" height="12.15" fill="#8a2438"/><rect x="151.20" y="367.60" width="0.80" height="12.15" fill="#2c2c68"/><rect x="142.30" y="379.75" width="0.80" height="12.15" fill="#22224c"/><rect x="150.30" y="379.75" width="0.80" height="12.15" fill="#7a2036"/><rect x="149.40" y="391.90" width="0.80" height="12.15" fill="#2c2c68"/><rect x="154.20" y="391.90" width="0.70" height="12.15" fill="#7a2036"/><rect x="143.80" y="404.05" width="0.70" height="12.15" fill="#7a2036"/><rect x="154.00" y="404.05" width="0.60" height="12.15" fill="#26265a"/><rect x="142.30" y="416.20" width="0.60" height="12.15" fill="#2c2c68"/><rect x="144.10" y="416.20" width="0.60" height="12.15" fill="#8a2438"/><rect x="150.70" y="416.20" width="0.80" height="12.15" fill="#7a2036"/><rect x="142.3" y="428.35" width="12.60" height="12.15" fill="#7a2442"/><rect x="142.30" y="428.35" width="0.70" height="12.15" fill="#c42c34"/><rect x="143.00" y="428.35" width="1.30" height="12.15" fill="#7a2644"/><rect x="144.30" y="428.35" width="1.60" height="12.15" fill="#2c2c68"/><rect x="145.90" y="428.35" width="1.30" height="12.15" fill="#5a2244"/><rect x="147.20" y="428.35" width="2.00" height="12.15" fill="#141218"/><rect x="149.20" y="428.35" width="0.70" height="12.15" fill="#2c2c68"/><rect x="149.90" y="428.35" width="0.70" height="12.15" fill="#141218"/><rect x="150.60" y="428.35" width="2.00" height="12.15" fill="#141218"/><rect x="152.60" y="428.35" width="1.30" height="12.15" fill="#2c2c68"/><rect x="153.90" y="428.35" width="1.00" height="12.15" fill="#6e2442"/><rect x="156.9" y="266.20" width="6.50" height="36.45" fill="#121215"/><rect x="156.9" y="304.75" width="6.50" height="60.75" fill="#121215"/><rect x="156.9" y="367.60" width="6.50" height="72.90" fill="#121215"/><rect x="156.9" y="266.20" width="6.50" height="12.15" fill="#7a2442"/><rect x="156.90" y="266.20" width="1.60" height="12.15" fill="#141218"/><rect x="158.50" y="266.20" width="1.00" height="12.15" fill="#9a2c46"/><rect x="159.50" y="266.20" width="1.60" height="12.15" fill="#b82a40"/><rect x="161.10" y="266.20" width="2.00" height="12.15" fill="#9a2c46"/><rect x="163.10" y="266.20" width="0.30" height="12.15" fill="#5a2244"/><rect x="156.9" y="278.35" width="6.50" height="12.15" fill="#7a2442"/><rect x="156.90" y="278.35" width="1.30" height="12.15" fill="#26265a"/><rect x="158.20" y="278.35" width="1.00" height="12.15" fill="#5a2244"/><rect x="159.20" y="278.35" width="2.00" height="12.15" fill="#b82a40"/><rect x="161.20" y="278.35" width="1.00" height="12.15" fill="#8a2a48"/><rect x="162.20" y="278.35" width="1.00" height="12.15" fill="#8a2a48"/><rect x="163.20" y="278.35" width="0.20" height="12.15" fill="#2c2c68"/><rect x="159.10" y="290.50" width="0.60" height="12.15" fill="#22224c"/><rect x="159.70" y="290.50" width="0.70" height="12.15" fill="#323274"/><rect x="160.40" y="290.50" width="1.00" height="12.15" fill="#26265a"/><rect x="161.40" y="290.50" width="1.00" height="12.15" fill="#8a2438"/><rect x="162.40" y="290.50" width="0.80" height="12.15" fill="#323274"/><rect x="161.40" y="304.75" width="1.00" height="12.15" fill="#26265a"/><rect x="156.9" y="316.90" width="6.50" height="12.15" fill="#7a2442"/><rect x="156.90" y="316.90" width="1.60" height="12.15" fill="#c8283a"/><rect x="158.50" y="316.90" width="1.30" height="12.15" fill="#5a2244"/><rect x="159.80" y="316.90" width="2.00" height="12.15" fill="#6e2442"/><rect x="161.80" y="316.90" width="0.70" height="12.15" fill="#c42c34"/><rect x="162.50" y="316.90" width="0.90" height="12.15" fill="#7a2644"/><rect x="158.90" y="329.05" width="0.60" height="12.15" fill="#2c2c68"/><rect x="162.80" y="341.20" width="0.60" height="12.15" fill="#2c2c68"/><rect x="156.90" y="353.35" width="1.00" height="12.15" fill="#323274"/><rect x="159.50" y="367.60" width="0.80" height="12.15" fill="#26265a"/><rect x="163.30" y="367.60" width="0.10" height="12.15" fill="#323274"/><rect x="159.60" y="428.35" width="0.70" height="12.15" fill="#26265a"/><rect x="161.30" y="428.35" width="0.60" height="12.15" fill="#2c2c68"/><rect x="161.90" y="428.35" width="0.80" height="12.15" fill="#7a2036"/><rect x="165.4" y="266.20" width="11.80" height="36.45" fill="#121215"/><rect x="165.4" y="304.75" width="11.80" height="60.75" fill="#121215"/><rect x="165.4" y="367.60" width="11.80" height="72.90" fill="#121215"/><rect x="165.4" y="266.20" width="11.80" height="12.15" fill="#7a2442"/><rect x="165.40" y="266.20" width="1.30" height="12.15" fill="#d03036"/><rect x="166.70" y="266.20" width="0.70" height="12.15" fill="#9a2c46"/><rect x="167.40" y="266.20" width="2.00" height="12.15" fill="#7a2644"/><rect x="169.40" y="266.20" width="1.00" height="12.15" fill="#c42c34"/><rect x="170.40" y="266.20" width="1.30" height="12.15" fill="#d03036"/><rect x="171.70" y="266.20" width="1.00" height="12.15" fill="#c8283a"/><rect x="172.70" y="266.20" width="0.70" height="12.15" fill="#c8283a"/><rect x="173.40" y="266.20" width="2.00" height="12.15" fill="#d03036"/><rect x="175.40" y="266.20" width="1.60" height="12.15" fill="#d03036"/><rect x="177.00" y="266.20" width="0.20" height="12.15" fill="#6e2442"/><rect x="165.40" y="278.35" width="0.60" height="12.15" fill="#22224c"/><rect x="166.00" y="278.35" width="1.00" height="12.15" fill="#323274"/><rect x="170.10" y="278.35" width="1.00" height="12.15" fill="#2c2c68"/><rect x="171.10" y="278.35" width="0.60" height="12.15" fill="#323274"/><rect x="171.70" y="278.35" width="0.60" height="12.15" fill="#323274"/><rect x="173.30" y="278.35" width="0.80" height="12.15" fill="#2c2c68"/><rect x="174.10" y="278.35" width="0.70" height="12.15" fill="#323274"/><rect x="174.80" y="278.35" width="1.00" height="12.15" fill="#323274"/><rect x="177.10" y="278.35" width="0.10" height="12.15" fill="#22224c"/><rect x="167.40" y="290.50" width="0.60" height="12.15" fill="#682034"/><rect x="170.10" y="290.50" width="0.70" height="12.15" fill="#8a2438"/><rect x="172.10" y="290.50" width="1.00" height="12.15" fill="#8a2438"/><rect x="175.10" y="290.50" width="0.80" height="12.15" fill="#323274"/><rect x="175.90" y="290.50" width="0.60" height="12.15" fill="#2c2c68"/><rect x="166.10" y="304.75" width="0.80" height="12.15" fill="#26265a"/><rect x="170.80" y="304.75" width="0.80" height="12.15" fill="#7a2036"/><rect x="171.60" y="304.75" width="0.70" height="12.15" fill="#26265a"/><rect x="172.90" y="304.75" width="0.70" height="12.15" fill="#2c2c68"/><rect x="174.60" y="304.75" width="0.60" height="12.15" fill="#26265a"/><rect x="166.40" y="316.90" width="1.00" height="12.15" fill="#22224c"/><rect x="166.00" y="329.05" width="0.80" height="12.15" fill="#26265a"/><rect x="166.80" y="329.05" width="0.70" height="12.15" fill="#26265a"/><rect x="170.30" y="329.05" width="0.80" height="12.15" fill="#2c2c68"/><rect x="165.40" y="341.20" width="0.70" height="12.15" fill="#26265a"/><rect x="166.80" y="341.20" width="0.70" height="12.15" fill="#2c2c68"/><rect x="174.10" y="341.20" width="0.80" height="12.15" fill="#323274"/><rect x="168.20" y="353.35" width="0.60" height="12.15" fill="#26265a"/><rect x="171.60" y="353.35" width="0.70" height="12.15" fill="#22224c"/><rect x="172.30" y="353.35" width="0.70" height="12.15" fill="#323274"/><rect x="173.00" y="353.35" width="1.00" height="12.15" fill="#323274"/><rect x="172.90" y="367.60" width="0.70" height="12.15" fill="#26265a"/><rect x="175.90" y="379.75" width="0.60" height="12.15" fill="#26265a"/><rect x="169.20" y="391.90" width="1.00" height="12.15" fill="#22224c"/><rect x="173.20" y="404.05" width="1.00" height="12.15" fill="#682034"/><rect x="165.40" y="416.20" width="0.60" height="12.15" fill="#8a2438"/><rect x="172.40" y="416.20" width="0.70" height="12.15" fill="#2c2c68"/><rect x="165.4" y="428.35" width="11.80" height="12.15" fill="#7a2442"/><rect x="165.40" y="428.35" width="1.60" height="12.15" fill="#6e2442"/><rect x="167.00" y="428.35" width="0.70" height="12.15" fill="#323274"/><rect x="167.70" y="428.35" width="1.60" height="12.15" fill="#b82a40"/><rect x="169.30" y="428.35" width="1.60" height="12.15" fill="#7a2644"/><rect x="170.90" y="428.35" width="1.30" height="12.15" fill="#b82a40"/><rect x="172.20" y="428.35" width="0.70" height="12.15" fill="#5a2244"/><rect x="172.90" y="428.35" width="1.30" height="12.15" fill="#b82a40"/><rect x="174.20" y="428.35" width="1.00" height="12.15" fill="#c8283a"/><rect x="175.20" y="428.35" width="2.00" height="12.15" fill="#c42c34"/><rect x="179.2" y="266.20" width="15.10" height="36.45" fill="#121215"/><rect x="179.2" y="304.75" width="15.10" height="60.75" fill="#121215"/><rect x="179.2" y="367.60" width="15.10" height="72.90" fill="#121215"/><rect x="179.2" y="266.20" width="15.10" height="12.15" fill="#7a2442"/><rect x="179.20" y="266.20" width="2.00" height="12.15" fill="#8a2a48"/><rect x="181.20" y="266.20" width="2.00" height="12.15" fill="#323274"/><rect x="183.20" y="266.20" width="1.00" height="12.15" fill="#c42c34"/><rect x="184.20" y="266.20" width="1.30" height="12.15" fill="#7a2644"/><rect x="185.50" y="266.20" width="1.00" height="12.15" fill="#141218"/><rect x="186.50" y="266.20" width="1.00" height="12.15" fill="#b82a40"/><rect x="187.50" y="266.20" width="1.60" height="12.15" fill="#7a2644"/><rect x="189.10" y="266.20" width="2.00" height="12.15" fill="#323274"/><rect x="191.10" y="266.20" width="1.60" height="12.15" fill="#b82a40"/><rect x="192.70" y="266.20" width="0.70" height="12.15" fill="#d03036"/><rect x="193.40" y="266.20" width="0.90" height="12.15" fill="#6e2442"/><rect x="179.2" y="278.35" width="15.10" height="12.15" fill="#7a2442"/><rect x="179.20" y="278.35" width="1.30" height="12.15" fill="#26265a"/><rect x="180.50" y="278.35" width="1.60" height="12.15" fill="#141218"/><rect x="182.10" y="278.35" width="2.00" height="12.15" fill="#9a2c46"/><rect x="184.10" y="278.35" width="1.60" height="12.15" fill="#6e2442"/><rect x="185.70" y="278.35" width="0.70" height="12.15" fill="#2c2c68"/><rect x="186.40" y="278.35" width="1.30" height="12.15" fill="#7a2644"/><rect x="187.70" y="278.35" width="1.00" height="12.15" fill="#141218"/><rect x="188.70" y="278.35" width="2.00" height="12.15" fill="#141218"/><rect x="190.70" y="278.35" width="0.70" height="12.15" fill="#7a2644"/><rect x="191.40" y="278.35" width="1.30" height="12.15" fill="#2c2c68"/><rect x="192.70" y="278.35" width="0.70" height="12.15" fill="#8a2a48"/><rect x="193.40" y="278.35" width="0.90" height="12.15" fill="#c8283a"/><rect x="180.80" y="290.50" width="0.70" height="12.15" fill="#7a2036"/><rect x="182.50" y="290.50" width="0.70" height="12.15" fill="#7a2036"/><rect x="185.00" y="290.50" width="0.60" height="12.15" fill="#323274"/><rect x="189.20" y="290.50" width="0.60" height="12.15" fill="#7a2036"/><rect x="189.80" y="290.50" width="0.70" height="12.15" fill="#2c2c68"/><rect x="190.50" y="290.50" width="0.70" height="12.15" fill="#22224c"/><rect x="191.20" y="290.50" width="0.80" height="12.15" fill="#7a2036"/><rect x="193.80" y="290.50" width="0.50" height="12.15" fill="#8a2438"/><rect x="179.2" y="304.75" width="15.10" height="12.15" fill="#7a2442"/><rect x="179.20" y="304.75" width="2.00" height="12.15" fill="#c42c34"/><rect x="181.20" y="304.75" width="1.30" height="12.15" fill="#c42c34"/><rect x="182.50" y="304.75" width="0.70" height="12.15" fill="#6e2442"/><rect x="183.20" y="304.75" width="1.60" height="12.15" fill="#8a2a48"/><rect x="184.80" y="304.75" width="1.00" height="12.15" fill="#c8283a"/><rect x="185.80" y="304.75" width="1.30" height="12.15" fill="#c8283a"/><rect x="187.10" y="304.75" width="2.00" height="12.15" fill="#c8283a"/><rect x="189.10" y="304.75" width="2.00" height="12.15" fill="#c8283a"/><rect x="191.10" y="304.75" width="2.00" height="12.15" fill="#26265a"/><rect x="193.10" y="304.75" width="1.20" height="12.15" fill="#6e2442"/><rect x="180.50" y="316.90" width="1.00" height="12.15" fill="#8a2438"/><rect x="183.10" y="316.90" width="0.60" height="12.15" fill="#22224c"/><rect x="185.10" y="316.90" width="0.80" height="12.15" fill="#26265a"/><rect x="187.50" y="316.90" width="1.00" height="12.15" fill="#22224c"/><rect x="189.50" y="316.90" width="1.00" height="12.15" fill="#323274"/><rect x="192.30" y="316.90" width="0.60" height="12.15" fill="#2c2c68"/><rect x="179.90" y="329.05" width="0.80" height="12.15" fill="#682034"/><rect x="182.80" y="329.05" width="1.00" height="12.15" fill="#22224c"/><rect x="190.90" y="329.05" width="0.70" height="12.15" fill="#323274"/><rect x="193.90" y="329.05" width="0.40" height="12.15" fill="#682034"/><rect x="179.80" y="341.20" width="1.00" height="12.15" fill="#7a2036"/><rect x="183.60" y="341.20" width="1.00" height="12.15" fill="#2c2c68"/><rect x="189.10" y="341.20" width="0.70" height="12.15" fill="#22224c"/><rect x="189.80" y="341.20" width="0.70" height="12.15" fill="#26265a"/><rect x="180.50" y="353.35" width="0.60" height="12.15" fill="#323274"/><rect x="181.90" y="353.35" width="1.00" height="12.15" fill="#682034"/><rect x="184.80" y="353.35" width="0.80" height="12.15" fill="#26265a"/><rect x="186.40" y="353.35" width="0.60" height="12.15" fill="#26265a"/><rect x="187.70" y="353.35" width="0.70" height="12.15" fill="#323274"/><rect x="192.80" y="353.35" width="0.80" height="12.15" fill="#323274"/><rect x="181.90" y="367.60" width="0.80" height="12.15" fill="#2c2c68"/><rect x="181.60" y="379.75" width="1.00" height="12.15" fill="#26265a"/><rect x="191.10" y="391.90" width="0.70" height="12.15" fill="#22224c"/><rect x="191.30" y="404.05" width="0.60" height="12.15" fill="#682034"/><rect x="179.20" y="428.35" width="0.80" height="12.15" fill="#2c2c68"/><rect x="181.00" y="428.35" width="0.80" height="12.15" fill="#2c2c68"/><rect x="184.00" y="428.35" width="0.70" height="12.15" fill="#323274"/><rect x="186.30" y="428.35" width="1.00" height="12.15" fill="#8a2438"/><rect x="187.30" y="428.35" width="0.60" height="12.15" fill="#323274"/><rect x="192.70" y="428.35" width="0.80" height="12.15" fill="#7a2036"/><rect x="193.50" y="428.35" width="0.70" height="12.15" fill="#2c2c68"/><rect x="196.2" y="266.20" width="8.90" height="36.45" fill="#121215"/><rect x="196.2" y="304.75" width="8.90" height="60.75" fill="#121215"/><rect x="196.2" y="367.60" width="8.90" height="72.90" fill="#121215"/><rect x="196.2" y="266.20" width="8.90" height="12.15" fill="#7a2442"/><rect x="196.20" y="266.20" width="2.00" height="12.15" fill="#26265a"/><rect x="198.20" y="266.20" width="2.00" height="12.15" fill="#d03036"/><rect x="200.20" y="266.20" width="1.60" height="12.15" fill="#d03036"/><rect x="201.80" y="266.20" width="1.60" height="12.15" fill="#c42c34"/><rect x="203.40" y="266.20" width="1.70" height="12.15" fill="#6e2442"/><rect x="196.2" y="278.35" width="8.90" height="12.15" fill="#7a2442"/><rect x="196.20" y="278.35" width="2.00" height="12.15" fill="#6e2442"/><rect x="198.20" y="278.35" width="1.00" height="12.15" fill="#141218"/><rect x="199.20" y="278.35" width="1.00" height="12.15" fill="#6e2442"/><rect x="200.20" y="278.35" width="1.30" height="12.15" fill="#26265a"/><rect x="201.50" y="278.35" width="2.00" height="12.15" fill="#8a2a48"/><rect x="203.50" y="278.35" width="1.00" height="12.15" fill="#c8283a"/><rect x="204.50" y="278.35" width="0.60" height="12.15" fill="#d03036"/><rect x="197.20" y="290.50" width="1.00" height="12.15" fill="#8a2438"/><rect x="200.20" y="290.50" width="0.60" height="12.15" fill="#7a2036"/><rect x="196.2" y="341.20" width="8.90" height="12.15" fill="#7a2442"/><rect x="196.20" y="341.20" width="1.00" height="12.15" fill="#d03036"/><rect x="197.20" y="341.20" width="2.00" height="12.15" fill="#c8283a"/><rect x="199.20" y="341.20" width="1.30" height="12.15" fill="#b82a40"/><rect x="200.50" y="341.20" width="1.60" height="12.15" fill="#c42c34"/><rect x="202.10" y="341.20" width="1.60" height="12.15" fill="#b82a40"/><rect x="203.70" y="341.20" width="1.00" height="12.15" fill="#7a2644"/><rect x="204.70" y="341.20" width="0.40" height="12.15" fill="#c8283a"/><rect x="196.20" y="353.35" width="0.70" height="12.15" fill="#8a2438"/><rect x="199.70" y="379.75" width="0.80" height="12.15" fill="#8a2438"/><rect x="200.50" y="391.90" width="0.60" height="12.15" fill="#682034"/><rect x="196.20" y="404.05" width="0.80" height="12.15" fill="#7a2036"/><rect x="202.10" y="404.05" width="0.70" height="12.15" fill="#26265a"/><rect x="197.90" y="416.20" width="0.60" height="12.15" fill="#323274"/><rect x="197.00" y="428.35" width="0.70" height="12.15" fill="#8a2438"/><rect x="197.70" y="428.35" width="0.80" height="12.15" fill="#323274"/><rect x="198.50" y="428.35" width="0.70" height="12.15" fill="#22224c"/><rect x="201.40" y="428.35" width="1.00" height="12.15" fill="#26265a"/><rect x="203.40" y="428.35" width="0.60" height="12.15" fill="#7a2036"/><rect x="207.2" y="266.20" width="10.50" height="36.45" fill="#121215"/><rect x="207.2" y="304.75" width="10.50" height="60.75" fill="#121215"/><rect x="207.2" y="367.60" width="10.50" height="72.90" fill="#121215"/><rect x="207.2" y="266.20" width="10.50" height="12.15" fill="#7a2442"/><rect x="207.20" y="266.20" width="2.00" height="12.15" fill="#141218"/><rect x="209.20" y="266.20" width="1.60" height="12.15" fill="#6e2442"/><rect x="210.80" y="266.20" width="1.30" height="12.15" fill="#6e2442"/><rect x="212.10" y="266.20" width="2.00" height="12.15" fill="#22224c"/><rect x="214.10" y="266.20" width="1.60" height="12.15" fill="#c42c34"/><rect x="215.70" y="266.20" width="1.60" height="12.15" fill="#9a2c46"/><rect x="217.30" y="266.20" width="0.40" height="12.15" fill="#5a2244"/><rect x="207.2" y="278.35" width="10.50" height="12.15" fill="#7a2442"/><rect x="207.20" y="278.35" width="1.60" height="12.15" fill="#d03036"/><rect x="208.80" y="278.35" width="1.00" height="12.15" fill="#141218"/><rect x="209.80" y="278.35" width="0.70" height="12.15" fill="#141218"/><rect x="210.50" y="278.35" width="1.30" height="12.15" fill="#2c2c68"/><rect x="211.80" y="278.35" width="1.00" height="12.15" fill="#7a2644"/><rect x="212.80" y="278.35" width="1.30" height="12.15" fill="#8a2a48"/><rect x="214.10" y="278.35" width="1.60" height="12.15" fill="#7a2644"/><rect x="215.70" y="278.35" width="1.60" height="12.15" fill="#7a2644"/><rect x="217.30" y="278.35" width="0.40" height="12.15" fill="#323274"/><rect x="207.20" y="290.50" width="0.70" height="12.15" fill="#26265a"/><rect x="208.50" y="290.50" width="1.00" height="12.15" fill="#7a2036"/><rect x="211.50" y="290.50" width="1.00" height="12.15" fill="#8a2438"/><rect x="210.80" y="304.75" width="0.60" height="12.15" fill="#682034"/><rect x="213.40" y="304.75" width="1.00" height="12.15" fill="#2c2c68"/><rect x="216.00" y="304.75" width="1.00" height="12.15" fill="#323274"/><rect x="217.00" y="304.75" width="0.70" height="12.15" fill="#682034"/><rect x="208.20" y="316.90" width="0.70" height="12.15" fill="#7a2036"/><rect x="209.70" y="316.90" width="1.00" height="12.15" fill="#26265a"/><rect x="213.30" y="316.90" width="0.70" height="12.15" fill="#26265a"/><rect x="214.00" y="316.90" width="0.70" height="12.15" fill="#7a2036"/><rect x="216.90" y="316.90" width="0.60" height="12.15" fill="#682034"/><rect x="209.10" y="329.05" width="1.00" height="12.15" fill="#7a2036"/><rect x="211.70" y="353.35" width="0.60" height="12.15" fill="#8a2438"/><rect x="207.2" y="367.60" width="10.50" height="12.15" fill="#7a2442"/><rect x="207.20" y="367.60" width="1.30" height="12.15" fill="#d03036"/><rect x="208.50" y="367.60" width="1.60" height="12.15" fill="#d03036"/><rect x="210.10" y="367.60" width="2.00" height="12.15" fill="#7a2644"/><rect x="212.10" y="367.60" width="2.00" height="12.15" fill="#5a2244"/><rect x="214.10" y="367.60" width="1.30" height="12.15" fill="#c42c34"/><rect x="215.40" y="367.60" width="2.00" height="12.15" fill="#c42c34"/><rect x="217.40" y="367.60" width="0.30" height="12.15" fill="#c8283a"/><rect x="214.30" y="379.75" width="0.70" height="12.15" fill="#26265a"/><rect x="212.70" y="391.90" width="0.60" height="12.15" fill="#26265a"/><rect x="207.20" y="428.35" width="0.70" height="12.15" fill="#22224c"/><rect x="207.90" y="428.35" width="0.60" height="12.15" fill="#2c2c68"/><rect x="208.50" y="428.35" width="0.80" height="12.15" fill="#8a2438"/><rect x="209.90" y="428.35" width="1.00" height="12.15" fill="#323274"/><rect x="215.90" y="428.35" width="0.80" height="12.15" fill="#8a2438"/>
<rect x="141.3" y="248.7" width="14.2" height="193.6" rx="1.5" fill="none" stroke="#444" stroke-width="1.1" stroke-dasharray="3,3.2"/>
<text x="221.1" y="257" font-size="6.8" fill="#000" font-weight="bold" text-anchor="start" textLength="47" lengthAdjust="spacingAndGlyphs" stroke="#000" stroke-width="0.25">sc3_12_clusters</text>
<text x="226.5" y="265" font-size="6.8" fill="#000" font-weight="bold" text-anchor="start" textLength="16" lengthAdjust="spacingAndGlyphs" stroke="#000" stroke-width="0.25">batch</text>
<text x="226.2" y="274.275" font-size="6.2" fill="#333" font-weight="normal" text-anchor="start" stroke="#333" stroke-width="0.18" >PAX5</text>
<text x="226.2" y="286.42499999999995" font-size="6.2" fill="#333" font-weight="normal" text-anchor="start" stroke="#333" stroke-width="0.18" >IKZF1</text>
<text x="226.2" y="298.57499999999993" font-size="6.2" fill="#333" font-weight="normal" text-anchor="start" stroke="#333" stroke-width="0.18" >BACH2</text>
<text x="226.2" y="312.82499999999993" font-size="6.2" fill="#333" font-weight="normal" text-anchor="start" stroke="#333" stroke-width="0.18" >NFKB1</text>
<text x="226.2" y="324.9749999999999" font-size="6.2" fill="#333" font-weight="normal" text-anchor="start" stroke="#333" stroke-width="0.18" >NFKB2</text>
<text x="226.2" y="337.1249999999999" font-size="6.2" fill="#333" font-weight="normal" text-anchor="start" stroke="#333" stroke-width="0.18" >RELB</text>
<text x="226.2" y="349.27499999999986" font-size="6.2" fill="#333" font-weight="normal" text-anchor="start" stroke="#333" stroke-width="0.18" >RELA</text>
<text x="226.2" y="361.42499999999984" font-size="6.2" fill="#333" font-weight="normal" text-anchor="start" stroke="#333" stroke-width="0.18" >MAP3K14</text>
<text x="226.2" y="375.67499999999984" font-size="6.2" fill="#333" font-weight="normal" text-anchor="start" stroke="#333" stroke-width="0.18" >DTX1</text>
<text x="226.2" y="387.8249999999998" font-size="6.2" fill="#333" font-weight="normal" text-anchor="start" stroke="#333" stroke-width="0.18" >CEBPG</text>
<text x="226.2" y="399.9749999999998" font-size="6.2" fill="#333" font-weight="normal" text-anchor="start" stroke="#333" stroke-width="0.18" >MYC</text>
<text x="226.2" y="412.1249999999998" font-size="6.2" fill="#333" font-weight="normal" text-anchor="start" stroke="#333" stroke-width="0.18" >KLF4</text>
<text x="226.2" y="424.27499999999975" font-size="6.2" fill="#333" font-weight="normal" text-anchor="start" stroke="#333" stroke-width="0.18" >NOTCH1</text>
<text x="226.2" y="436.4249999999997" font-size="6.2" fill="#333" font-weight="normal" text-anchor="start" stroke="#333" stroke-width="0.18" >NOTCH2</text>
<defs><linearGradient id="cb" x1="0" y1="0" x2="0" y2="1"><stop offset="0" stop-color="#cc1e2a"/><stop offset="0.3" stop-color="#7c1c3a"/><stop offset="0.55" stop-color="#401a44"/><stop offset="0.8" stop-color="#2a2860"/><stop offset="0.97" stop-color="#262668"/><stop offset="0.985" stop-color="#000"/><stop offset="1" stop-color="#000"/></linearGradient></defs>
<rect x="270.6" y="250" width="4.5" height="70.7" fill="url(#cb)" stroke="none" stroke-width="1" />
<text x="284.9" y="255.8" font-size="6.4" fill="#333" font-weight="normal" text-anchor="end" stroke="#333" stroke-width="0.18" >10</text>
<text x="284.9" y="268.72" font-size="6.4" fill="#333" font-weight="normal" text-anchor="end" stroke="#333" stroke-width="0.18" >8</text>
<text x="284.9" y="281.64" font-size="6.4" fill="#333" font-weight="normal" text-anchor="end" stroke="#333" stroke-width="0.18" >6</text>
<text x="284.9" y="294.56" font-size="6.4" fill="#333" font-weight="normal" text-anchor="end" stroke="#333" stroke-width="0.18" >4</text>
<text x="284.9" y="307.48" font-size="6.4" fill="#333" font-weight="normal" text-anchor="end" stroke="#333" stroke-width="0.18" >2</text>
<text x="284.9" y="320.40000000000003" font-size="6.4" fill="#333" font-weight="normal" text-anchor="end" stroke="#333" stroke-width="0.18" >0</text>
<text x="298" y="254.9" font-size="6.8" fill="#000" font-weight="bold" text-anchor="start" textLength="46.5" lengthAdjust="spacingAndGlyphs" stroke="#000" stroke-width="0.25">sc3_12_clusters</text>
<rect x="298" y="257.2" width="9.4" height="9.6" fill="#c07cb0" stroke="none" stroke-width="1" />
<text x="311" y="264.2" font-size="6.5" fill="#222" font-weight="normal" text-anchor="start" stroke="#222" stroke-width="0.22" >1</text>
<rect x="298" y="266.73" width="9.4" height="9.6" fill="#72bde2" stroke="none" stroke-width="1" />
<text x="311" y="273.72999999999996" font-size="6.5" fill="#222" font-weight="normal" text-anchor="start" stroke="#222" stroke-width="0.22" >2</text>
<rect x="298" y="276.26" width="9.4" height="9.6" fill="#b6b640" stroke="none" stroke-width="1" />
<text x="311" y="283.26" font-size="6.5" fill="#222" font-weight="normal" text-anchor="start" stroke="#222" stroke-width="0.22" >3</text>
<rect x="298" y="285.79" width="9.4" height="9.6" fill="#daa840" stroke="none" stroke-width="1" />
<text x="311" y="292.78999999999996" font-size="6.5" fill="#222" font-weight="normal" text-anchor="start" stroke="#222" stroke-width="0.22" >4</text>
<rect x="298" y="295.32" width="9.4" height="9.6" fill="#72b8e0" stroke="none" stroke-width="1" />
<text x="311" y="302.32" font-size="6.5" fill="#222" font-weight="normal" text-anchor="start" stroke="#222" stroke-width="0.22" >5</text>
<rect x="298" y="304.85" width="9.4" height="9.6" fill="#a2a2cc" stroke="none" stroke-width="1" />
<text x="311" y="311.84999999999997" font-size="6.5" fill="#222" font-weight="normal" text-anchor="start" stroke="#222" stroke-width="0.22" >6</text>
<rect x="298" y="314.38" width="9.4" height="9.6" fill="#a2c444" stroke="none" stroke-width="1" />
<text x="311" y="321.38" font-size="6.5" fill="#222" font-weight="normal" text-anchor="start" stroke="#222" stroke-width="0.22" >7</text>
<rect x="298" y="323.91" width="9.4" height="9.6" fill="#6aae4c" stroke="none" stroke-width="1" />
<text x="311" y="330.90999999999997" font-size="6.5" fill="#222" font-weight="normal" text-anchor="start" stroke="#222" stroke-width="0.22" >8</text>
<rect x="298" y="333.44" width="9.4" height="9.6" fill="#e0965a" stroke="none" stroke-width="1" />
<text x="311" y="340.44" font-size="6.5" fill="#222" font-weight="normal" text-anchor="start" stroke="#222" stroke-width="0.22" >9</text>
<rect x="298" y="342.97" width="9.4" height="9.6" fill="#72b8c2" stroke="none" stroke-width="1" />
<text x="311" y="349.96999999999997" font-size="6.5" fill="#222" font-weight="normal" text-anchor="start" stroke="#222" stroke-width="0.22" >10</text>
<rect x="298" y="352.5" width="9.4" height="9.6" fill="#b880b2" stroke="none" stroke-width="1" />
<text x="311" y="359.5" font-size="6.5" fill="#222" font-weight="normal" text-anchor="start" stroke="#222" stroke-width="0.22" >11</text>
<rect x="298" y="362.03" width="9.4" height="9.6" fill="#d87aaa" stroke="none" stroke-width="1" />
<text x="311" y="369.03" font-size="6.5" fill="#222" font-weight="normal" text-anchor="start" stroke="#222" stroke-width="0.22" >12</text>
<text x="297.8" y="388.7" font-size="6.8" fill="#000" font-weight="bold" text-anchor="start" textLength="16.2" lengthAdjust="spacingAndGlyphs" stroke="#000" stroke-width="0.25">batch</text>
<rect x="298" y="391.8" width="9.5" height="9.6" fill="#7088c4" stroke="none" stroke-width="1" />
<text x="310.9" y="398.6" font-size="6.5" fill="#222" font-weight="normal" text-anchor="start" textLength="31.9" lengthAdjust="spacingAndGlyphs" stroke="#222" stroke-width="0.2" >SCC10040</text>
<rect x="298" y="401.3" width="9.5" height="9.6" fill="#b05ca8" stroke="none" stroke-width="1" />
<text x="310.9" y="408.1" font-size="6.5" fill="#222" font-weight="normal" text-anchor="start" textLength="31.9" lengthAdjust="spacingAndGlyphs" stroke="#222" stroke-width="0.2" >SCC10041</text>
<rect x="298" y="410.8" width="9.5" height="9.6" fill="#a89440" stroke="none" stroke-width="1" />
<text x="310.9" y="417.6" font-size="6.5" fill="#222" font-weight="normal" text-anchor="start" textLength="31.9" lengthAdjust="spacingAndGlyphs" stroke="#222" stroke-width="0.2" >SCC10042</text>
<rect x="298" y="420.3" width="9.5" height="9.6" fill="#60a850" stroke="none" stroke-width="1" />
<text x="310.9" y="427.1" font-size="6.5" fill="#222" font-weight="normal" text-anchor="start" textLength="31.9" lengthAdjust="spacingAndGlyphs" stroke="#222" stroke-width="0.2" >SCC10043</text>
</svg>
</body></html>
